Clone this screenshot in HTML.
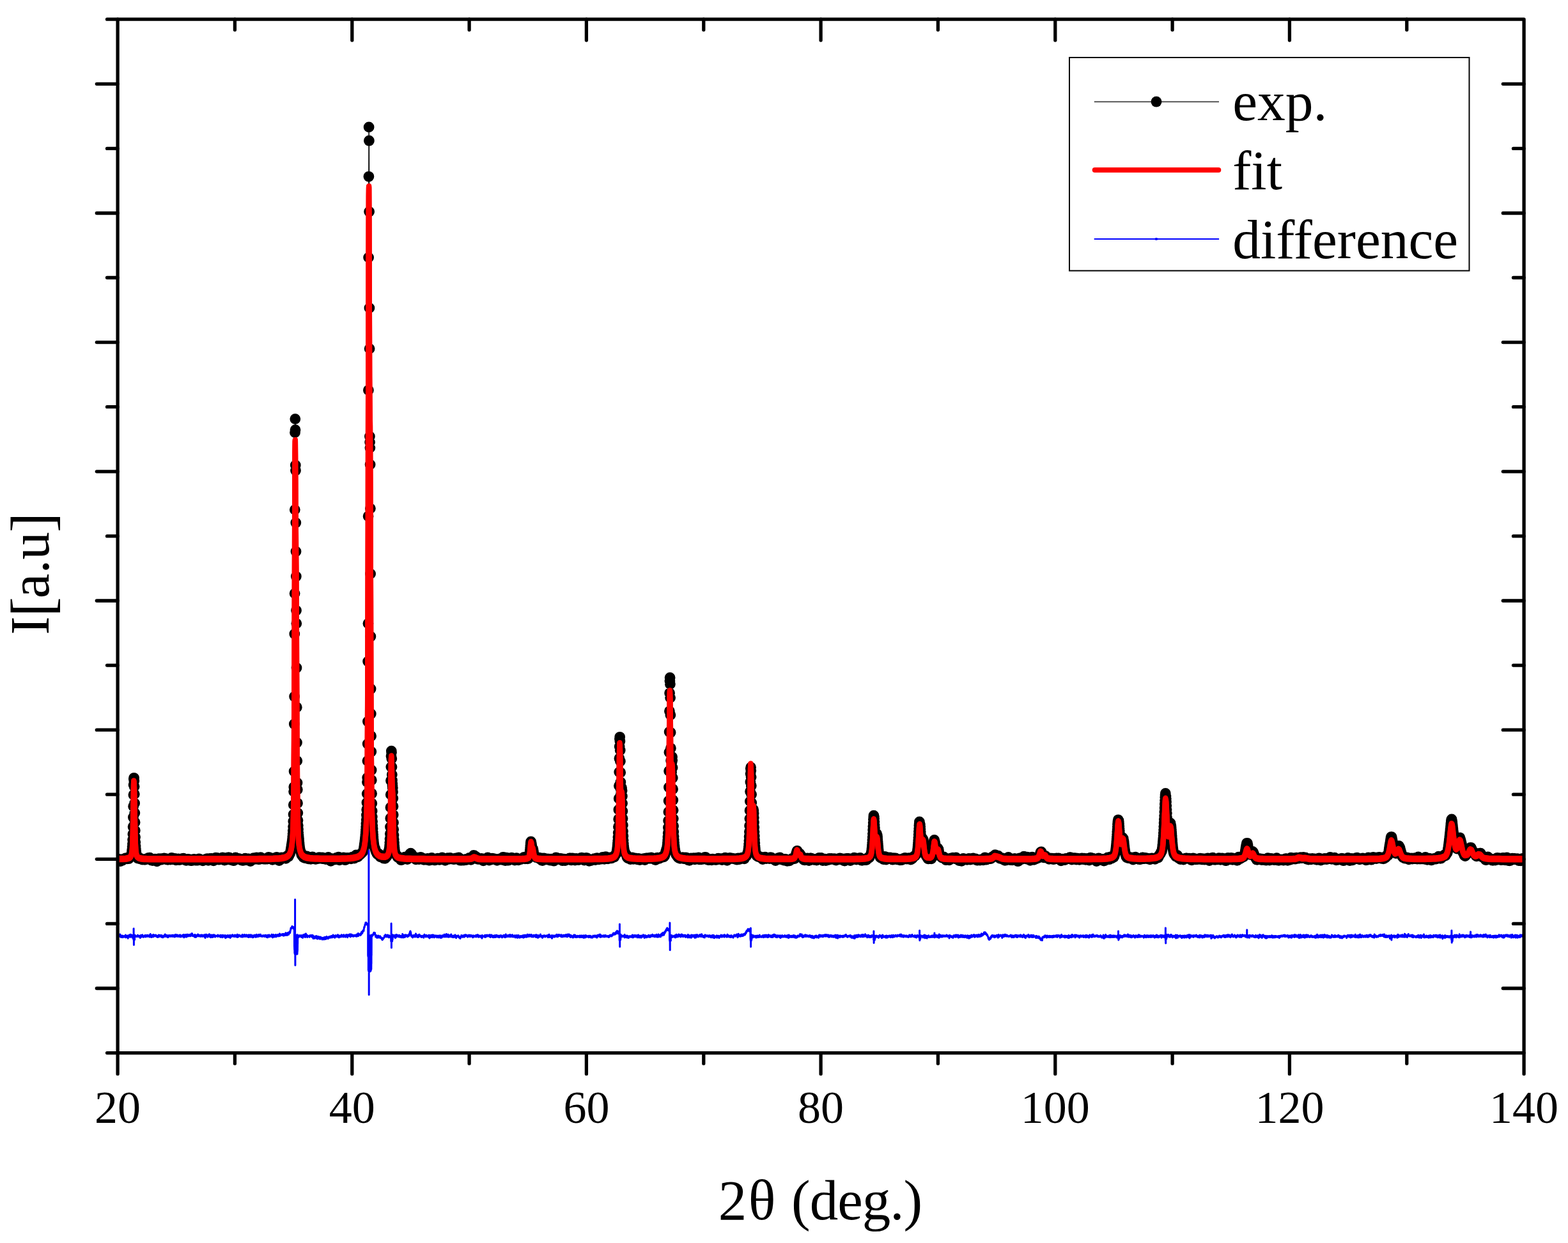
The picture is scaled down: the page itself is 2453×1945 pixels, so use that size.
<!DOCTYPE html>
<html><head><meta charset="utf-8"><style>
html,body{margin:0;padding:0;background:#fff;}
svg{display:block;}
text{font-family:"Liberation Serif","Times New Roman",serif;fill:#000;}
</style></head><body>
<svg width="2453" height="1945" viewBox="0 0 2453 1945">
<rect width="2453" height="1945" fill="#fff"/>
<g fill="none" stroke="#000" stroke-width="5.3" stroke-linecap="round">
<path d="M184.1 30.2h-16.6M184.1 131.3h-32.8M2384.1 131.3h-32.8M184.1 232.4h-16.6M2384.1 232.4h-16.6M184.1 333.5h-32.8M2384.1 333.5h-32.8M184.1 434.5h-16.6M2384.1 434.5h-16.6M184.1 535.6h-32.8M2384.1 535.6h-32.8M184.1 636.7h-16.6M2384.1 636.7h-16.6M184.1 737.8h-32.8M2384.1 737.8h-32.8M184.1 838.9h-16.6M2384.1 838.9h-16.6M184.1 940.0h-32.8M2384.1 940.0h-32.8M184.1 1041.1h-16.6M2384.1 1041.1h-16.6M184.1 1142.2h-32.8M2384.1 1142.2h-32.8M184.1 1243.2h-16.6M2384.1 1243.2h-16.6M184.1 1344.3h-32.8M2384.1 1344.3h-32.8M184.1 1445.4h-16.6M2384.1 1445.4h-16.6M184.1 1546.5h-32.8M2384.1 1546.5h-32.8M184.1 1647.6h-16.6M184.1 1647.6v32.8M367.4 1647.6v16.6M367.4 30.2v16.6M550.8 1647.6v32.8M550.8 30.2v32.8M734.1 1647.6v16.6M734.1 30.2v16.6M917.4 1647.6v32.8M917.4 30.2v32.8M1100.8 1647.6v16.6M1100.8 30.2v16.6M1284.1 1647.6v32.8M1284.1 30.2v32.8M1467.4 1647.6v16.6M1467.4 30.2v16.6M1650.8 1647.6v32.8M1650.8 30.2v32.8M1834.1 1647.6v16.6M1834.1 30.2v16.6M2017.4 1647.6v32.8M2017.4 30.2v32.8M2200.8 1647.6v16.6M2200.8 30.2v16.6M2384.1 1647.6v32.8"/>
</g>
<defs><clipPath id="pc"><rect x="184.1" y="30.2" width="2200.0" height="1617.4"/></clipPath></defs>
<g fill="none" stroke-linejoin="round" stroke-linecap="round" clip-path="url(#pc)">
<path d="M184.1 1344.6L185.1 1345.1L186.1 1344.4L187.1 1344.7L187.8 1346.1L188.6 1347.6L189.5 1347.1L190.5 1346.6L191.5 1346.3L192.5 1345.1L193.5 1344.2L194.5 1344.1L195.5 1343.3L196.5 1342.8L197.5 1342.6L198.5 1342.7L199.4 1343.8L200.4 1343.7L201.4 1343.7L202.4 1342.2L203.4 1341L204.4 1340.4L205.1 1339.1L205.6 1337.1L205.9 1335.8L206.1 1334.4L206.4 1332.8L206.6 1330.9L206.9 1328.4L207.1 1325.1L207.4 1320.5L207.6 1314.1L207.9 1305.3L208.1 1293.7L208.4 1279L208.6 1261.8L208.9 1243.8L209.1 1228.2L209.3 1218.9L209.6 1217.3L209.8 1222L210.1 1230.7L210.3 1242.6L210.6 1256.9L210.8 1272.3L211.1 1286.8L211.3 1299.4L211.6 1309.7L211.8 1317.7L212.1 1323.7L212.3 1328.1L212.6 1331.3L212.8 1333.5L213.1 1335.2L213.3 1336.6L213.6 1337.8L214 1340.1L214.5 1342L215.5 1343.1L216.5 1342.3L217.5 1342L218.5 1343.3L219.5 1344.1L220.5 1343.7L221.5 1344.4L222.5 1345.1L223.5 1344.6L224.4 1344.9L225.4 1345.2L226.4 1345L227.4 1345L228.4 1344.4L229.4 1343.8L230.4 1343.4L231.4 1343.2L232.4 1342.3L233.4 1342.3L234.3 1342.2L235.1 1343.7L235.6 1344.9L236.6 1346.1L237.6 1346.3L238.6 1346.6L239.5 1346.1L240.5 1345.9L241.5 1344.3L242.5 1344.1L243.5 1344.7L244.5 1345.2L245 1346.5L245.5 1347.8L246.5 1346.8L247 1345.5L247.7 1344.2L248.7 1343.7L249.7 1344.4L250.7 1344.5L251.7 1343.7L252.7 1345L253.6 1344.9L254.6 1343.7L255.6 1343.6L256.6 1342.9L257.6 1343.2L258.6 1343.4L259.6 1343.8L260.6 1344.6L261.6 1345.2L262.6 1345.3L263.5 1344.1L264.5 1344L265.5 1344.1L266.5 1345L267.5 1343.5L268.5 1342.5L269.5 1343.9L270.5 1344.6L271.5 1344.6L272.5 1343.7L273.4 1343.5L274.2 1345.1L275.2 1345.8L276.2 1344.9L277.2 1344.4L278.2 1345.3L279.1 1343.9L280.1 1344.2L280.9 1345.5L281.9 1345.3L282.9 1344.9L283.8 1344.6L284.8 1344.5L285.8 1343.5L286.8 1343.1L287.8 1344L288.8 1344.9L289.8 1345.4L290.8 1346.3L291.8 1346.4L292.8 1345.6L293.7 1344.5L294.7 1344.3L295.7 1344.6L296.7 1345.1L297.7 1346.2L298.7 1346.7L299.7 1346.7L300.7 1346L301.7 1345.9L302.7 1344.7L303.6 1344.5L304.6 1345.9L305.6 1346L306.6 1346.1L307.6 1346L308.6 1345.5L309.6 1346L310.6 1345.2L311.3 1343.9L312.3 1344.3L313.3 1345.4L314.3 1345.3L315.3 1345.8L316.3 1346.4L317.3 1346.8L318.2 1346.1L319.2 1345.9L320.2 1345.4L321.2 1344.9L322.2 1344.3L323.2 1344.1L324.2 1343.7L325.2 1344.9L325.9 1346.4L326.9 1345.3L327.4 1343.8L328.4 1343.5L329.4 1344.3L330.4 1343.4L331.4 1343.4L332.1 1344.7L333.1 1346L334.1 1346.8L335.1 1345.8L336.1 1344.9L336.8 1343.5L337.6 1342.2L338.5 1342.4L339.5 1342.4L340.5 1343L341.5 1344.2L342.5 1345.2L343.5 1344.5L344.5 1343.8L345.5 1344.6L346.5 1344.7L347.5 1343.5L348.2 1341.8L349.2 1342.1L349.7 1343.5L350.2 1344.9L351.2 1346.1L352.2 1344.9L353.1 1344.9L354.1 1345.1L355.1 1345L355.9 1343.5L356.6 1342L357.6 1341.9L358.6 1341.8L359.6 1343L360.3 1344.2L361.3 1345.5L362.3 1345.8L363 1344.5L364 1344.7L364.5 1346L365.5 1346.7L366.5 1345.9L367.5 1344.7L368 1343.3L368.5 1342L369.5 1342.8L370.2 1344.2L371.2 1344.3L372.2 1343.5L373.2 1343.5L374.2 1343.6L375.2 1344.7L376.2 1344.4L377.2 1344.7L377.9 1346.1L378.9 1346.3L379.9 1345.2L380.9 1346.4L381.9 1345.6L382.6 1344L383.6 1343.1L384.6 1344.4L385.6 1345.2L386.6 1345.9L387.5 1345.2L388.3 1343.9L389.3 1343.9L390 1345.3L390.8 1346.6L391.8 1347.5L392.7 1346.3L393.7 1344.9L394.7 1344.7L395.7 1343.4L396.7 1342.6L397.7 1342.9L398.7 1344.3L399.7 1343.6L400.4 1342.4L401.4 1341.8L402.4 1342.8L403.4 1343.9L404.4 1344.7L405.4 1344.7L406.4 1343.3L406.9 1342.1L407.8 1341.6L408.8 1342.6L409.8 1343L410.8 1343.9L411.8 1344.1L412.8 1343.7L413.8 1344.2L414.8 1344.4L415.8 1343.8L416.8 1343.3L417.7 1344.2L418.7 1344.1L419.5 1342.6L420.2 1341.3L421.2 1341.6L422.2 1342.9L423.2 1342.8L424.2 1343.5L425.2 1344.6L426.2 1345.3L427.1 1344.4L427.9 1342.9L428.9 1342.7L429.9 1343.6L430.9 1343.5L431.8 1342.2L432.8 1341.4L433.6 1342.8L434.1 1344L434.8 1345.6L435.8 1346L436.8 1346.5L437.8 1345.7L438.5 1344.1L439.3 1342.8L440.3 1341.8L441.3 1342.1L442.2 1342.7L443.2 1343L444.2 1341.8L445.2 1342L446.2 1342.3L447.2 1343.3L447.9 1341.9L448.4 1340.2L449.4 1339.3L450.4 1340.8L451.4 1340.3L452.1 1338.4L452.9 1337.1L453.6 1335.8L454.1 1334.3L454.6 1332.1L454.9 1330.7L455.1 1329.2L455.4 1327.6L455.6 1326.1L455.9 1324.5L456.1 1323L456.4 1321.5L456.6 1319.9L456.8 1318.3L457.1 1316.5L457.3 1314.4L457.6 1311.8L457.8 1308.7L458.1 1304.7L458.3 1299.7L458.6 1293.4L458.8 1285.3L459.1 1274.4L459.3 1259.4L459.6 1238.6L459.8 1231.5L460.1 1207L460.3 1133L460.6 1090L460.8 992L461.1 928.6L461.3 797.6L461.5 676.8L461.8 655.6L462 672.7L462.3 728L462.5 736.2L462.8 818L463 863L463.3 902L463.5 955.2L463.8 975.6L464 1045L464.3 1106.7L464.5 1162L464.8 1190.6L465 1225L465.3 1235.5L465.5 1256.8L465.8 1272.3L466 1283.6L466.3 1291.8L466.5 1298L466.7 1302.7L467 1306.6L467.2 1309.9L467.5 1312.9L467.7 1315.8L468 1318.6L468.2 1321.3L468.5 1323.7L468.7 1325.9L469 1327.7L469.2 1329L469.7 1330.8L470.5 1332.6L471 1334.2L471.4 1336L471.9 1337.7L472.7 1339.1L473.7 1340L474.7 1341.5L475.7 1342L476.6 1342.4L477.6 1342.7L478.4 1341.4L479.1 1339.8L480.1 1340L480.6 1341.3L481.1 1342.8L482.1 1343.8L483.1 1342.6L484.1 1342.4L485.1 1343.5L486.1 1344.4L487 1343.2L488 1342.1L488.8 1340.8L489.8 1341.7L490.5 1342.9L491.5 1342.4L492.5 1342.6L493.2 1344.3L494.2 1344.3L495.2 1343.7L496.2 1343.9L497.2 1343.7L498.2 1342.4L499.2 1341.6L500.2 1341.9L501.1 1342.1L502.1 1341.8L502.9 1343.2L503.9 1343.5L504.6 1342L505.6 1342.6L506.6 1343.8L507.6 1343.9L508.6 1343.8L509.6 1344.6L510.6 1344L511.5 1342.6L512.5 1342.1L513.5 1341.4L514.5 1342.8L515.5 1343.7L516.2 1345L516.7 1346.2L517.5 1347.4L518.5 1346.2L519 1344.9L520 1343.7L520.9 1344.4L521.9 1345.1L522.9 1344.4L523.9 1344.9L524.9 1344.8L525.7 1343.4L526.6 1342.2L527.6 1343.2L528.6 1342.2L529.6 1341.2L530.1 1342.4L530.6 1344.4L531.1 1345.8L532.1 1344L532.6 1342.6L533.6 1343L534.6 1344.3L535.6 1344.2L536.5 1343.2L537.5 1342L538.5 1342.9L539.3 1344.5L540 1345.7L541 1345.2L541.7 1344L542.5 1342.4L543.5 1342.5L544.5 1342.8L545.5 1343.4L546.4 1342.7L547.4 1342.1L548.2 1343.4L549.2 1343.8L550.2 1343.4L551.1 1342.3L551.9 1340.9L552.9 1341.5L553.4 1342.8L554.4 1343.1L555.1 1341.4L555.6 1339.9L556.1 1338.7L557.1 1337.9L558.1 1338.1L558.8 1339.4L559.6 1340.8L560.5 1340L561.3 1338.4L562.3 1337.9L563.3 1337.2L564.3 1336.2L565.3 1335.4L566.2 1334.4L567.2 1333.4L568.2 1332.3L568.7 1330.5L569 1329.3L569.2 1327.8L569.5 1326.2L569.7 1324.6L570 1322.9L570.2 1321.1L570.4 1319.4L570.7 1317.6L570.9 1315.6L571.2 1313.5L571.4 1311.2L571.7 1308.5L571.9 1305.6L572.2 1302.3L572.4 1298.5L572.7 1294.1L572.9 1288.9L573.2 1282.8L573.4 1275.6L573.7 1266.8L573.9 1256L574.2 1242.1L574.4 1223.7L574.7 1217L574.9 1190.6L575.2 1164L575.4 1129L575.6 1035L575.9 975.6L576.1 807.8L576.4 610.5L576.6 402.9L576.9 276.3L577.1 198.9L577.4 220.2L577.6 331.3L577.9 481.9L578.1 545.6L578.4 683L578.6 691.8L578.9 700.6L579.1 726.9L579.4 795.6L579.6 897.9L579.9 996L580.1 1078L580.3 1117L580.6 1151.7L580.8 1176.3L581.1 1205L581.3 1220.7L581.6 1241.7L581.8 1257.2L582.1 1269L582.3 1278.1L582.6 1285.5L582.8 1291.7L583.1 1297L583.3 1301.8L583.6 1306.1L583.8 1309.9L584.1 1313.4L584.3 1316.3L584.6 1318.8L584.8 1320.9L585.1 1322.4L585.3 1323.7L585.8 1325.4L586.3 1326.7L586.8 1328L587.3 1329.6L587.8 1331.3L588.3 1332.6L589 1334.2L589.8 1335.7L590.7 1336.7L591.7 1336.5L592.7 1336.2L593.5 1338.1L594 1339.6L595 1340.9L595.9 1341.1L596.9 1341.3L597.9 1340.7L598.9 1340.1L599.7 1341.7L600.4 1343.2L601.4 1343.2L602.4 1343.3L603.4 1342.3L604.4 1341.1L605.3 1340.1L605.8 1338.8L606.3 1337L606.8 1335.1L607.3 1333.5L607.8 1332.2L608.6 1330.2L609.1 1327.8L609.3 1325.7L609.6 1322.6L609.8 1318.4L610 1312.6L610.3 1304.6L610.5 1294L610.8 1280.4L611 1263.4L611.3 1243.4L611.5 1221.5L611.8 1200.1L612 1183.2L612.3 1175.1L612.5 1177.3L612.8 1187.3L613 1200.2L613.3 1212.2L613.5 1221L613.8 1226.3L614 1229.5L614.3 1233L614.5 1239.3L614.8 1249.3L615 1261.8L615.2 1275L615.5 1287.2L615.7 1297.8L616 1306.6L616.2 1313.5L616.5 1318.9L616.7 1323.1L617 1326.3L617.2 1328.9L617.5 1331.1L617.7 1332.9L618 1334.5L618.5 1336.3L619.5 1336.9L620.4 1338.2L621.2 1339.7L621.9 1341.1L622.9 1341.8L623.9 1341.2L624.9 1341.6L625.6 1343L626.4 1344.5L627.4 1345.7L628.4 1345.5L629.4 1344.5L630.3 1343L631.3 1342.1L632.3 1341.9L633.3 1341.2L634.3 1341.7L635.3 1342.7L636.3 1344L637.3 1344.5L638.3 1343.6L639.3 1342.7L639.7 1341.2L640.2 1339.2L640.7 1337.3L641.5 1335.9L642.5 1335.1L643.5 1335.9L644.2 1337.2L645.2 1338.8L645.9 1340.5L646.7 1341.8L647.7 1341.7L648.7 1341.9L649.6 1343.6L650.6 1344.8L651.6 1343.3L652.6 1342.2L653.6 1343L654.6 1343.6L655.6 1344.6L656.6 1343.4L657.1 1342.2L658.1 1341.4L659.1 1341.8L660 1342.3L661 1343L662 1344.4L663 1345.4L664 1345L665 1345L666 1345L667 1344.5L668 1344L669 1343.3L669.9 1344.3L670.7 1346L671.7 1346.2L672.4 1344.8L673.4 1343.6L674.4 1343.1L675.4 1342.4L676.4 1343.2L677.4 1344.2L678.1 1345.5L679.1 1345.8L680.1 1345.6L681.1 1345.9L682.1 1344.8L683.1 1343.9L684.1 1343.5L685 1343.1L686 1344.2L687 1345.3L688 1345.4L689 1344.2L690 1344.8L691 1343.3L691.7 1341.9L692.7 1342.6L693.5 1344.1L694.4 1344.6L695.4 1345.9L696.4 1346.3L697.4 1345.1L698.4 1343.7L699.4 1343.1L700.4 1342.7L701.4 1343.9L702.4 1344.4L703.1 1343.1L704.1 1342.5L705.1 1343.6L706.1 1343.9L707.1 1343.7L708.1 1343.6L709 1344.3L710 1344.7L711 1344.3L712 1343.1L713 1343L714 1343.5L715 1344.4L716 1343.7L716.7 1342.3L717.7 1342L718.5 1343.5L718.9 1345L719.7 1346.2L720.7 1345.3L721.7 1345.7L722.7 1346.2L723.7 1345.1L724.6 1345.5L725.6 1346.1L726.6 1344.8L727.6 1345.5L728.6 1345.7L729.3 1344.3L730.3 1344.4L731.3 1344.5L732.3 1343.8L733.3 1342.9L734.3 1342.3L735 1343.5L735.8 1345L736.8 1345.4L737.8 1344.4L738.5 1343L739.2 1341.4L740.2 1339.9L741 1338.5L742 1338.7L742.5 1339.9L743 1341.2L743.9 1341.8L744.9 1340.7L745.7 1342.5L746.2 1343.8L747.2 1344.3L748.2 1343.8L749.1 1344L750.1 1344.2L751.1 1344.7L752.1 1343.8L753.1 1343.4L754.1 1344.5L755.1 1345.8L756.1 1346.9L757.1 1345.4L758.1 1344.9L759 1344.2L760 1343.5L761 1343.6L762 1342.9L763 1342L764 1343.6L764.5 1344.9L765.5 1346L766.5 1344.5L767.5 1344L768 1345.2L768.9 1344.5L769.7 1343.2L770.7 1343.6L771.7 1343.7L772.7 1344.1L773.6 1344L774.6 1344.3L775.6 1345L776.6 1345.7L777.6 1346.3L778.6 1345.2L779.6 1344.7L780.6 1344.8L781.6 1344L782.6 1343.8L783.5 1345L784.5 1345.1L785.5 1344.7L786.3 1342.8L786.8 1341.5L787.8 1341.3L788.5 1343.1L789 1344.7L789.5 1346.3L790.5 1346.5L791 1345L791.5 1343.3L792.5 1342.2L793.2 1343.5L793.7 1344.8L794.4 1346.2L795.4 1346.2L796.4 1345.9L797.4 1344.5L798.4 1343.3L799.4 1342.6L800.4 1342.1L801.4 1343.3L802.4 1344.6L803.3 1344.2L804.3 1344.8L805.3 1346.1L806.3 1345L807.1 1343.3L808 1342.6L809 1344L810 1345.2L811 1345.9L812 1344.5L813 1344.2L814 1344.5L815 1344.6L816 1343.7L817 1343.9L817.9 1343.4L818.7 1342L819.7 1341.4L820.7 1342.5L821.4 1343.9L822.4 1342.7L823.4 1341.7L824.4 1343L825.4 1343.9L826.4 1343.6L827.1 1342.1L827.6 1340.8L828.1 1339.1L828.6 1336.5L828.8 1334.6L829.1 1332.3L829.3 1329.6L829.6 1326.6L829.8 1323.6L830.1 1320.7L830.3 1318.3L830.6 1316.9L831.3 1319.4L831.6 1321.5L831.8 1323.5L832.1 1325.2L832.6 1327.1L833.5 1327.9L834 1330L834.3 1331.5L834.5 1333L834.8 1334.5L835 1335.7L835.5 1337.7L836 1339.3L837 1340.4L838 1340.5L839 1341.7L840 1341.8L841 1341.6L842 1341.9L842.9 1342.3L843.9 1343.3L844.9 1344.2L845.7 1342.7L846.7 1343.2L847.2 1345L847.6 1346.4L848.6 1346.6L849.4 1345L849.9 1343.7L850.9 1343L851.9 1344.6L852.8 1345.1L853.8 1344.8L854.8 1344.3L855.8 1344L856.8 1345L857.8 1344.5L858.8 1344.2L859.8 1345.6L860.8 1346.2L861.5 1344.9L862.5 1344.2L863.5 1345.7L864.5 1345.3L865.5 1346.4L866.5 1347.2L867.4 1346.1L868.2 1344.8L868.9 1343.4L869.7 1341.9L870.7 1342.2L871.7 1343.5L872.6 1343.7L873.6 1343.1L874.6 1343.7L875.4 1344.9L876.4 1344.4L877.3 1343.4L878.3 1344.3L879.1 1345.7L880.1 1346.7L881.1 1345.2L882.1 1344.2L883 1345.5L884 1346.5L885 1346.1L886 1344.7L887 1344.7L888 1344.1L889 1343.9L890 1343.8L891 1343L892 1342.8L892.7 1344.5L893.2 1345.8L894.2 1345.9L894.9 1344.3L895.7 1342.8L896.7 1343.4L897.6 1344.4L898.6 1345.3L899.6 1346L900.6 1344.7L901.4 1343.3L902.3 1343.7L903.3 1344.9L904.3 1345.2L905.3 1345.5L906.3 1345.1L907.3 1344L908.3 1343.7L909 1342.3L910 1342.1L911 1342.9L912 1343.5L913 1345.1L914 1346L915 1345.7L916 1344.9L916.5 1343.7L917.2 1342.4L918.2 1342.6L919.2 1343.1L920.2 1344.4L920.9 1345.8L921.7 1347.3L922.6 1346.4L923.6 1346.3L924.6 1346.5L925.6 1345.5L926.6 1344.8L927.6 1344.9L928.6 1344.3L929.6 1343.7L930.3 1345L931.3 1345.6L932.3 1344.2L933 1342.8L934 1342.7L935 1343.6L936 1344.6L937 1344.8L938 1344.2L939 1343.8L940 1344L941 1344.2L941.7 1342.9L942.7 1341.5L943.7 1341.8L944.7 1343.2L945.4 1344.4L946.4 1343.4L946.9 1341.9L947.6 1340.7L948.4 1342.3L949.1 1343.6L950.1 1343.4L951.1 1343.9L952.1 1342.7L953.1 1342L954.1 1342.9L955.1 1342.8L956.1 1342.6L957 1342.8L958 1342.1L959 1340.7L960 1340.7L961 1341L961.7 1339.3L962.5 1337.7L963.5 1336.7L964.5 1334.8L965 1332.2L965.2 1330.5L965.5 1328.7L965.7 1326.7L966 1324.6L966.2 1322.2L966.4 1319.3L966.7 1315.4L966.9 1310.1L967.2 1303.1L967.4 1293.7L967.7 1281.8L967.9 1267L968.2 1249.5L968.4 1229.6L968.7 1208.1L968.9 1186.7L969.2 1168.3L969.4 1156.2L969.7 1153.3L969.9 1160L970.2 1174L970.4 1191.3L970.7 1208.8L970.9 1223.9L971.2 1235.3L971.4 1242.4L971.6 1245.1L972.1 1240.5L972.4 1236L972.6 1232.7L973.1 1237.3L973.4 1245.9L973.6 1257.1L973.9 1269.1L974.1 1280.7L974.4 1291.3L974.6 1300.6L974.9 1308.3L975.1 1314.7L975.4 1319.6L975.6 1323.3L975.9 1325.8L976.1 1327.6L976.3 1328.8L976.8 1330.8L977.3 1332.7L977.8 1334.2L978.6 1335.6L979.6 1336.9L980.3 1338.7L980.8 1340.4L981.3 1341.9L982.3 1342.9L983.3 1342.8L984.3 1343L985.3 1343.3L986.2 1344.5L987.2 1344.1L988.2 1343.2L989.2 1341.9L990.2 1343L991 1344.4L991.9 1343.8L992.9 1342.8L993.9 1343.3L994.9 1343.2L995.9 1343.4L996.9 1344.8L997.9 1344.1L998.9 1343.5L999.9 1344.6L1000.9 1345.5L1001.8 1344.8L1002.8 1344.7L1003.8 1344.2L1004.8 1344.1L1005.8 1343.8L1006.8 1343.6L1007.8 1344.8L1008.8 1345.6L1009.8 1344.3L1010.8 1342.9L1011.7 1343L1012.7 1343.2L1013.7 1342.9L1014.7 1343.2L1015.7 1342.4L1016.7 1343.4L1017.7 1343L1018.7 1341.9L1019.7 1342.6L1020.7 1343.5L1021.6 1342.8L1022.6 1342.8L1023.6 1343.9L1024.6 1345.4L1025.6 1345.6L1026.6 1344.9L1027.6 1343.4L1028.6 1342.1L1029.6 1342.3L1030.6 1343.4L1031.5 1343.3L1032.5 1342.9L1033.5 1342.2L1034.5 1341.7L1035.5 1341L1036.5 1340.7L1037.5 1341.1L1038.5 1340.8L1039.5 1339.6L1040.2 1337.7L1040.7 1336L1041.2 1334.2L1041.7 1332.2L1042.2 1330.4L1042.7 1328.9L1043.2 1327.5L1043.7 1325.6L1043.9 1324L1044.2 1321.9L1044.4 1318.9L1044.7 1315L1044.9 1309.9L1045.2 1303.4L1045.4 1295L1045.6 1284.2L1045.9 1270.4L1046.1 1253.2L1046.4 1232L1046.6 1206.5L1046.9 1177.3L1047.1 1145.2L1047.4 1112.8L1047.6 1084.4L1047.9 1065.5L1048.1 1060.5L1048.4 1070.5L1048.6 1091.7L1048.9 1118.7L1049.1 1146.2L1049.4 1170.8L1049.6 1190.3L1049.9 1203.7L1050.1 1210.9L1050.4 1212.1L1050.6 1208.2L1050.8 1201L1051.1 1192.6L1051.3 1186L1051.6 1184.4L1051.8 1189.6L1052.1 1201.3L1052.3 1217.3L1052.6 1234.8L1052.8 1252L1053.1 1267.6L1053.3 1281.1L1053.6 1292.4L1053.8 1301.5L1054.1 1308.8L1054.3 1314.3L1054.6 1318.5L1054.8 1321.8L1055.1 1324.3L1055.3 1326.5L1055.5 1328.3L1055.8 1329.9L1056 1331.3L1056.5 1333.4L1057 1334.9L1057.5 1336.4L1058 1337.7L1059 1339.2L1060 1340.5L1061 1341.8L1062 1342.6L1063 1342.5L1064 1343.3L1065 1342.7L1065.9 1342.1L1066.9 1342L1067.9 1341.6L1068.9 1342.4L1069.9 1343.7L1070.9 1343.5L1071.9 1342.6L1072.9 1341.8L1073.9 1342.2L1074.9 1343.4L1075.6 1344.7L1076.6 1345.9L1077.6 1345.9L1078.6 1346.3L1079.6 1345.9L1080.3 1344.2L1081 1343L1082 1343.7L1083 1344.1L1084 1343.6L1085 1342.7L1086 1343.7L1087 1344.9L1088 1344.1L1089 1343L1090 1342.5L1090.9 1342.7L1091.9 1342.5L1092.9 1342L1093.4 1343.3L1093.9 1344.8L1094.9 1344.6L1095.9 1343.9L1096.9 1344.8L1097.9 1344L1098.9 1344.2L1099.9 1344.3L1100.8 1342.7L1101.8 1342L1102.8 1341.5L1103.8 1341.3L1104.6 1343L1105.3 1344.5L1106.3 1345L1107.3 1345.2L1108.3 1345.7L1109.3 1345.6L1110.2 1344.8L1111.2 1344.8L1112.2 1345.3L1113.2 1345.8L1114.2 1345.6L1114.9 1344.1L1115.9 1344.4L1116.9 1345L1117.9 1344.6L1118.9 1345.3L1119.9 1344.9L1120.9 1345.3L1121.9 1345.1L1122.6 1343.9L1123.6 1343.2L1124.6 1343.3L1125.6 1343.6L1126.6 1343.7L1127.6 1343.7L1128.6 1344.3L1129.6 1345.5L1130.5 1344.7L1131.5 1343.4L1132.5 1342.9L1133.5 1343.3L1134.5 1342.1L1135.5 1343.4L1136 1344.6L1136.5 1345.8L1137.5 1346.4L1138 1345L1138.5 1343.4L1139.5 1342.8L1140.2 1344.1L1141.2 1343.9L1141.9 1342.5L1142.9 1342.7L1143.9 1343.4L1144.9 1342.8L1145.9 1343.2L1146.9 1343.5L1147.9 1343.5L1148.9 1343.8L1149.8 1344L1150.8 1344.6L1151.8 1344.5L1152.8 1345.2L1153.8 1344.1L1154.8 1342.8L1155.8 1343.6L1156.8 1344.5L1157.8 1344L1158.8 1343.2L1159.7 1342.6L1160.7 1342.3L1161.7 1341.9L1162.7 1342.4L1163.5 1343.6L1164.4 1343.8L1165.2 1342.2L1165.9 1340.6L1166.9 1339.9L1167.9 1339.3L1168.4 1338.1L1168.9 1336.7L1169.4 1335.5L1169.9 1334.2L1170.4 1332.4L1170.6 1331.2L1170.9 1329.6L1171.1 1327.4L1171.4 1324.4L1171.6 1320.6L1171.9 1315.5L1172.1 1309.2L1172.4 1301.5L1172.6 1292.2L1172.9 1281.1L1173.1 1268.3L1173.4 1253.9L1173.6 1238.5L1173.9 1223.4L1174.1 1210.6L1174.3 1202.4L1174.6 1200.7L1174.8 1205.8L1175.1 1216.1L1175.3 1229.4L1175.6 1243.3L1175.8 1256.1L1176.1 1267L1176.3 1275.4L1176.6 1281.2L1176.8 1284.4L1177.6 1280.5L1177.8 1276.2L1178.1 1271.6L1178.3 1268.1L1178.6 1266.8L1178.8 1268.4L1179.1 1272.9L1179.3 1279.5L1179.5 1286.9L1179.8 1294.4L1180 1301.6L1180.3 1308.1L1180.5 1314.1L1180.8 1319.3L1181 1323.7L1181.3 1327.3L1181.5 1330.1L1181.8 1332.2L1182 1333.7L1182.5 1335.5L1183 1336.8L1183.5 1338L1184.2 1339.4L1185.2 1340.1L1186.2 1340.6L1187.2 1340L1188.2 1340.8L1189.2 1341.5L1190.2 1341.2L1191.2 1342.3L1192.2 1343.2L1193.2 1344.5L1194.1 1344L1194.9 1342.4L1195.9 1342L1196.9 1341.2L1197.9 1342.6L1198.9 1343.5L1199.6 1342.1L1200.6 1342.1L1201.6 1342.4L1202.6 1343L1203.6 1343.5L1204.5 1342.8L1205.5 1341.7L1206.5 1341.8L1207.3 1343.1L1208.3 1343.8L1209.2 1344L1210.2 1343.6L1211.2 1344.2L1212.2 1345.5L1213.2 1346.6L1214.2 1345.4L1215.2 1345.1L1216.2 1344L1217.2 1343L1218.2 1342.5L1219.1 1342.5L1220.1 1342L1221.1 1343.2L1222.1 1344.7L1223.1 1345.1L1224.1 1344.1L1225.1 1344.3L1226.1 1346L1227.1 1345.9L1227.8 1344.3L1228.8 1344.4L1229.8 1344.9L1230.8 1345.6L1231.5 1347.3L1232.5 1347.2L1233.3 1345.6L1234.2 1346L1235.2 1346.9L1236.2 1346L1237.2 1345.3L1238.2 1344.2L1239.2 1343.4L1240.2 1343.8L1241.2 1342.8L1242.2 1342.9L1243.2 1343.5L1244.1 1342.3L1244.6 1340.8L1245.1 1338.6L1245.4 1337.3L1245.6 1336L1245.9 1334.7L1246.4 1332.6L1247.1 1331.3L1248.1 1332.7L1248.6 1334.1L1249.1 1335.3L1250.1 1336L1251.1 1335.8L1252.1 1337.3L1252.8 1338.5L1253.8 1339.8L1254.5 1341.6L1255.3 1342.9L1256.3 1343.8L1257 1345.1L1258 1345.7L1259 1345.9L1260 1344.8L1261 1343.5L1262 1343.1L1263 1342.9L1263.9 1344.1L1264.9 1345L1265.7 1346.5L1266.7 1345.9L1267.2 1344.2L1267.7 1343L1268.6 1342.9L1269.6 1343.1L1270.6 1344.5L1271.6 1344.9L1272.6 1345.1L1273.6 1345.3L1274.6 1344.6L1275.6 1344.4L1276.6 1345.2L1277.6 1346L1278.5 1344.6L1279.5 1343.8L1280.5 1343L1281.5 1342.3L1282.5 1342.6L1283.5 1342.8L1284.5 1342.4L1285.5 1343.6L1286.2 1345.3L1287.2 1346.5L1288.2 1345.4L1288.9 1344L1289.9 1344.7L1290.9 1345.7L1291.9 1346.6L1292.9 1345.4L1293.9 1344.4L1294.9 1345.7L1295.9 1345.3L1296.6 1344L1297.6 1343.5L1298.6 1344.8L1299.6 1344.5L1300.3 1343.3L1301.3 1343.9L1302.3 1344.1L1303.3 1344.4L1304.3 1344.8L1305.3 1343.7L1306.3 1344.1L1307 1345.8L1308 1346L1309 1345L1310 1343.8L1311 1345.1L1312 1344.8L1312.9 1343.6L1313.9 1342.8L1314.9 1343.6L1315.7 1345.1L1316.7 1345L1317.7 1344.6L1318.6 1343.9L1319.6 1345.6L1320.4 1346.8L1321.4 1347.1L1322.4 1346L1323.3 1344.8L1324.3 1343.4L1325.3 1343.4L1326.3 1343.5L1327.3 1343.4L1328.3 1344.2L1329.3 1345.3L1330.3 1346.5L1331.3 1346.1L1332.3 1345.5L1333.2 1344.3L1334.2 1343.7L1335.2 1343.5L1336.2 1342.2L1337.2 1342.7L1337.7 1344L1338.7 1344.7L1339.7 1345.1L1340.7 1344.7L1341.7 1344L1342.6 1342.9L1343.6 1343L1344.6 1343.2L1345.6 1342.5L1346.6 1343.7L1347.1 1345L1347.6 1346.2L1348.6 1346.4L1349.6 1345.3L1350.6 1345.1L1351.6 1344.6L1352.5 1345.5L1353.5 1345.5L1354.5 1345.6L1355.5 1345.6L1356.5 1344.1L1357.3 1342.9L1358.2 1341.8L1359.2 1342.6L1360.2 1341.5L1360.7 1340.2L1361.2 1339L1362 1337.5L1362.7 1335.7L1363.2 1333.9L1363.4 1332.5L1363.7 1330.7L1363.9 1328.5L1364.2 1325.7L1364.4 1322.4L1364.7 1318.7L1364.9 1314.5L1365.2 1309.8L1365.4 1304.6L1365.7 1299L1365.9 1293.2L1366.2 1287.5L1366.4 1282.3L1366.7 1278.4L1366.9 1276.1L1367.4 1277.7L1367.6 1281.1L1367.9 1285.7L1368.1 1290.8L1368.4 1295.9L1368.6 1300.7L1368.9 1304.9L1369.1 1308.4L1369.4 1311L1369.6 1312.9L1370.6 1311.7L1370.9 1309.7L1371.1 1307.6L1371.4 1305.8L1371.6 1304.6L1372.3 1307.1L1372.6 1309.9L1372.8 1313.2L1373.1 1316.6L1373.3 1319.9L1373.6 1323.1L1373.8 1326L1374.1 1328.7L1374.3 1331.1L1374.6 1333.2L1374.8 1334.8L1375.1 1336.1L1375.6 1337.7L1376.1 1339L1376.6 1340.3L1377.1 1341.6L1378 1342.4L1379 1341.7L1380 1342.7L1381 1343.5L1382 1344.5L1383 1343.3L1383.5 1341.9L1384.2 1340.5L1385.2 1341.7L1385.7 1343.7L1386.2 1345.1L1387.2 1343.3L1387.7 1341.9L1388.7 1341.7L1389.7 1342.8L1390.7 1342.3L1391.7 1342.2L1392.6 1342L1393.6 1342.4L1394.6 1342.9L1395.4 1344.3L1396.4 1345.2L1397.1 1343.6L1398.1 1342.6L1399.1 1343.5L1400.1 1343.5L1401.1 1342.9L1402 1344L1403 1344.9L1404 1344.3L1405 1344.3L1406 1344.9L1407 1345.3L1408 1345.9L1409 1345L1410 1345.4L1411 1345.5L1411.9 1344.1L1412.9 1343.9L1413.9 1343.2L1414.9 1342.9L1415.9 1342.4L1416.9 1342.7L1417.9 1343.9L1418.9 1344.2L1419.9 1343.3L1420.9 1342.8L1421.8 1342.7L1422.8 1343.3L1423.8 1343.9L1424.8 1345L1425.8 1344.6L1426.8 1343.9L1427.8 1342.9L1428.8 1341.3L1429.8 1340L1430.8 1339.7L1431.7 1339L1432.7 1337.6L1433.7 1336.5L1434.7 1334.7L1435 1333.5L1435.2 1331.9L1435.5 1330L1435.7 1327.8L1436 1325.3L1436.2 1322.3L1436.5 1318.9L1436.7 1315.1L1436.9 1310.7L1437.2 1306.1L1437.4 1301.2L1437.7 1296.4L1437.9 1292L1438.2 1288.4L1438.4 1285.9L1439.4 1289.7L1439.7 1293.4L1439.9 1297.5L1440.2 1301.6L1440.4 1305.4L1440.7 1308.8L1440.9 1311.7L1441.2 1314.1L1441.4 1316L1441.6 1317.4L1442.6 1317.1L1442.9 1315.8L1443.1 1314.4L1443.6 1312.5L1444.4 1314.3L1444.6 1316.1L1444.9 1318.3L1445.1 1320.5L1445.4 1322.8L1445.6 1325L1445.9 1327.2L1446.1 1329.1L1446.4 1330.8L1446.6 1332.3L1447.1 1334.2L1447.6 1335.6L1448.1 1337L1448.6 1338.5L1449.3 1340.1L1450.3 1341.3L1451.1 1342.5L1451.8 1343.9L1452.8 1343.8L1453.3 1342.5L1453.8 1341L1454.8 1340.5L1455.5 1342.2L1456 1343.4L1457 1343.8L1457.5 1342.5L1458 1340.7L1458.5 1338.4L1458.7 1337L1459 1335.3L1459.2 1333.4L1459.5 1331.2L1459.7 1328.9L1460 1326.5L1460.2 1324.1L1460.5 1321.7L1460.7 1319.5L1461 1317.6L1461.2 1316.1L1461.7 1314.4L1462.4 1316.7L1462.7 1318.4L1462.9 1320L1463.2 1321.4L1463.7 1323.6L1464.2 1325.3L1464.7 1326.9L1465.2 1328.6L1465.9 1330L1466.6 1328.7L1467.1 1327.3L1468.1 1328.9L1468.4 1330.4L1468.6 1332L1468.9 1333.6L1469.1 1335.1L1469.4 1336.3L1469.9 1338L1470.9 1339.2L1471.6 1340.4L1472.6 1341.1L1473.6 1342L1474.6 1342.3L1475.6 1341.6L1476.5 1341L1477.3 1342.3L1478 1343.8L1479 1344.8L1480 1345.7L1481 1345.1L1482 1344.8L1483 1344.2L1484 1345.3L1485 1345.8L1486 1345.1L1486.7 1343.8L1487.7 1342.9L1488.7 1343.4L1489.7 1342.7L1490.7 1342.2L1491.6 1342.4L1492.6 1342.6L1493.6 1343.5L1494.6 1342.5L1495.6 1342L1496.6 1343.1L1497.6 1343.9L1498.6 1344.4L1499.3 1345.6L1500.3 1346.5L1501.3 1345.7L1502.3 1345.2L1503.3 1346.4L1504.3 1347.4L1505.3 1346L1506 1344.4L1507 1343.4L1508 1344.2L1509 1344.1L1510 1344.5L1510.9 1344.9L1511.9 1345L1512.9 1345.4L1513.9 1344.2L1514.9 1344L1515.9 1343.5L1516.9 1344.4L1517.9 1345.2L1518.6 1343.9L1519.6 1343.8L1520.6 1344.2L1521.6 1343.2L1522.6 1343L1523.3 1344.4L1524.3 1344.1L1525.3 1343.7L1526.3 1344L1527.3 1344.7L1528.3 1346.1L1529.3 1346.1L1530.3 1345.6L1531.2 1345.4L1532.2 1345.3L1533.2 1346L1534.2 1345.4L1535.2 1344.8L1536.2 1344.6L1537.2 1345.7L1538.2 1345.8L1539.2 1344.5L1539.9 1343.1L1540.9 1341.8L1541.9 1342.6L1542.4 1344L1543.1 1345.2L1544.1 1344.4L1545.1 1343.7L1546.1 1343.3L1547.1 1343.7L1548.1 1343L1549.1 1343.6L1550.1 1343.6L1551 1342.5L1551.8 1341.1L1552.8 1340.6L1553.8 1341L1554.8 1339.6L1555.7 1338.6L1556.7 1337.6L1557.7 1338.2L1558.7 1339.2L1559.7 1339.8L1560.7 1339.2L1561.7 1339.1L1562.7 1340.7L1563.4 1342L1564.4 1343.4L1565.4 1343.4L1566.4 1342.6L1567.4 1342.7L1568.4 1342.8L1569.4 1343.8L1570.1 1345.2L1571.1 1345.8L1572.1 1346.3L1573.1 1346.2L1574.1 1345.2L1575.1 1344.8L1575.8 1343.6L1576.5 1342.1L1577.5 1341.5L1578.5 1342.3L1579.3 1343.7L1579.8 1345L1580.7 1345.7L1581.5 1344.1L1582.5 1344.7L1583.5 1345.8L1584.5 1345.3L1585.4 1344.9L1586.4 1343.7L1587.4 1343.7L1588.4 1343.7L1589.4 1344.5L1590.4 1345.8L1591.4 1346.3L1592.4 1347.7L1593.4 1347.3L1593.9 1345.8L1594.4 1344.3L1595.1 1342.9L1596.1 1342.8L1597.1 1343.9L1598.1 1344.5L1599.1 1343.9L1600 1342.2L1600.8 1340.9L1601.8 1340.2L1602.8 1341.1L1603.8 1342.3L1604.8 1343.3L1605.7 1344.1L1606.5 1342.5L1607 1341.2L1608 1341.5L1608.5 1342.8L1609 1344.1L1609.9 1344.9L1610.9 1344.8L1611.7 1346.3L1612.7 1345.7L1613.2 1343.7L1613.7 1341.7L1614.7 1341.1L1615.1 1342.6L1615.6 1343.9L1616.6 1344.6L1617.6 1345.3L1618.6 1343.9L1619.1 1342.5L1620.1 1343.1L1621.1 1343.9L1622.1 1343.2L1623.1 1342.5L1624.1 1342.5L1625 1341.7L1625.8 1340.4L1626.5 1338.7L1627 1337.1L1627.5 1335.3L1628 1333.5L1629 1332.9L1629.5 1334.2L1630 1336L1630.5 1337.9L1631 1339.7L1631.5 1341.1L1632.5 1341.9L1633.5 1341.8L1634.5 1340L1635.4 1339.3L1636.2 1341.2L1637.2 1342.3L1638.2 1342.2L1639.2 1342.7L1640.1 1343.3L1641.1 1344.3L1642.1 1343.2L1643.1 1343.1L1644.1 1343.2L1645.1 1343.6L1646.1 1343.2L1647.1 1343.6L1648.1 1344.7L1649.1 1343.4L1650 1343.4L1651 1343.9L1652 1343.3L1653 1343L1654 1343.3L1655 1343.2L1656 1343L1657 1344L1658 1344.5L1659 1345.9L1659.9 1346.8L1660.9 1345.2L1661.9 1344.1L1662.9 1345.4L1663.9 1345.2L1664.9 1344.8L1665.9 1345.5L1666.9 1344.6L1667.6 1343.4L1668.6 1343.4L1669.6 1343.8L1670.6 1343.9L1671.6 1343.4L1672.6 1342.7L1673.6 1341.6L1674.5 1341.7L1675.3 1343L1675.8 1344.2L1676.8 1345L1677.8 1343.8L1678.8 1343L1679.7 1342.6L1680.7 1343.1L1681.7 1342.7L1682.7 1344.4L1683.7 1345.1L1684.7 1343.7L1685.7 1343.1L1686.7 1344L1687.7 1344.3L1688.7 1345.3L1689.6 1344.6L1690.6 1344L1691.6 1343.1L1692.6 1343L1693.4 1344.2L1694.3 1344.7L1695.3 1343.4L1696.3 1343.2L1697.3 1344.5L1698.3 1345.4L1699.3 1344.3L1700.3 1344.7L1701.3 1344L1702.3 1343.1L1703.3 1344.5L1704 1346L1705 1345.1L1705.5 1343.5L1706 1342.2L1707 1342.4L1707.7 1344L1708.7 1344.1L1709.7 1343.1L1710.7 1343.6L1711.7 1344.7L1712.7 1345.4L1713.7 1345.6L1714.4 1346.8L1715.4 1347.6L1716.4 1346.3L1717.4 1344.7L1717.9 1343.4L1718.8 1342.8L1719.8 1343.9L1720.8 1344.5L1721.8 1345.3L1722.8 1344.9L1723.8 1344.4L1724.8 1344.6L1725.8 1344.5L1726.5 1345.9L1727 1347.1L1728 1346.7L1728.5 1345.3L1729 1344.1L1730 1343.9L1731 1344.8L1732 1343.5L1732.7 1341.9L1733.7 1342.2L1734.4 1344L1735.4 1344.7L1735.9 1343.5L1736.4 1341.9L1737.4 1341L1738.4 1342.1L1739.4 1343L1740.4 1342L1741.4 1341.6L1742.4 1341.3L1743.1 1339.7L1743.6 1338.2L1744.1 1336.6L1744.6 1334.9L1745.1 1332.7L1745.3 1331.3L1745.6 1329.5L1745.8 1327.5L1746.1 1325.1L1746.3 1322.4L1746.6 1319.5L1746.8 1316.4L1747.1 1313.1L1747.3 1309.6L1747.6 1305.8L1747.8 1301.9L1748.1 1297.8L1748.3 1293.8L1748.5 1290L1748.8 1286.9L1749 1284.4L1749.3 1282.8L1750 1284L1750.3 1286.3L1750.5 1289.2L1750.8 1292.7L1751 1296.4L1751.3 1300.2L1751.5 1303.8L1751.8 1307.1L1752 1309.8L1752.3 1312L1752.5 1313.7L1753 1315.7L1753.5 1317L1754.5 1317.5L1755 1316.1L1755.5 1313.8L1755.7 1312.6L1756.2 1310.7L1757.2 1311.9L1757.7 1314.4L1758 1316.1L1758.2 1318L1758.4 1320.2L1758.7 1322.6L1758.9 1324.9L1759.2 1327.2L1759.4 1329.1L1759.7 1330.9L1759.9 1332.5L1760.2 1333.9L1760.4 1335.2L1760.9 1337.3L1761.4 1339.1L1761.9 1340.6L1762.7 1341.8L1763.6 1341.9L1764.6 1342.6L1765.6 1342.3L1766.6 1342.9L1767.6 1342.6L1768.6 1341.7L1769.6 1342.4L1770.6 1343.2L1771.6 1343.9L1772.6 1345.1L1773.5 1344.1L1774.5 1342.7L1775.5 1341.5L1776.5 1341.2L1777.3 1342.5L1778.2 1343.5L1779.2 1343L1780.2 1343.5L1781.2 1344.4L1782.2 1344.5L1783.2 1344.5L1784.2 1344.6L1785.2 1344.2L1786.2 1343L1787.2 1341.9L1788.1 1341.9L1789.1 1342.8L1790.1 1343.7L1791.1 1343.4L1792.1 1342.4L1793.1 1343.1L1794.1 1343.5L1795.1 1343.8L1796.1 1343.5L1797.1 1343.3L1798 1343.8L1799 1344.9L1800 1344.1L1801 1343.6L1802 1342.9L1803 1343.5L1804 1343.6L1805 1343.7L1806 1343.8L1807 1344.3L1807.9 1343.1L1808.9 1342.3L1809.9 1342.1L1810.9 1341.5L1811.9 1342L1812.9 1339.9L1813.4 1338.1L1814.4 1337.3L1815.4 1336.1L1815.9 1334.5L1816.4 1333.3L1817.4 1332.3L1817.8 1330.4L1818.1 1328.9L1818.3 1327.1L1818.6 1325.2L1818.8 1323L1819.1 1320.6L1819.3 1318L1819.6 1315L1819.8 1311.6L1820.1 1307.7L1820.3 1303.4L1820.6 1298.6L1820.8 1293.5L1821.1 1288L1821.3 1282.3L1821.6 1276.5L1821.8 1270.4L1822.1 1264.3L1822.3 1258.3L1822.6 1252.5L1822.8 1247.5L1823 1243.7L1823.3 1241.5L1824 1245.6L1824.3 1249.8L1824.5 1254.9L1824.8 1260.6L1825 1266.7L1825.3 1272.8L1825.5 1278.8L1825.8 1284.4L1826 1289.5L1826.3 1293.9L1826.5 1297.7L1826.8 1300.9L1827 1303.3L1827.3 1305L1827.7 1306.2L1828.5 1303.8L1828.7 1302.2L1829 1300.3L1829.2 1298.2L1829.5 1296.1L1829.7 1294.1L1830 1292.2L1830.2 1290.6L1830.5 1289.2L1831 1288L1831.7 1290.6L1832 1292.8L1832.2 1295.4L1832.5 1298.4L1832.7 1301.6L1832.9 1304.9L1833.2 1308.2L1833.4 1311.6L1833.7 1314.9L1833.9 1318.2L1834.2 1321.3L1834.4 1324L1834.7 1326.2L1834.9 1328.1L1835.2 1329.7L1835.4 1331.1L1835.7 1332.4L1836.2 1334.6L1836.7 1336.3L1837.6 1337.4L1838.6 1338.2L1839.4 1340L1840.4 1339.9L1840.9 1338.5L1841.9 1338.4L1842.4 1339.6L1842.8 1341L1843.6 1342.6L1844.6 1342.9L1845.6 1343.4L1846.6 1344.6L1847.5 1344.4L1848.5 1343.7L1849.5 1343.6L1850.5 1344.8L1851.5 1345L1852.5 1343.6L1853.5 1343.3L1854.5 1343.4L1855.5 1342.8L1856.5 1342.9L1857.4 1343.1L1858.4 1343.4L1859.4 1343.4L1860.4 1343.1L1861.4 1343.8L1862.4 1344.2L1863.4 1345.5L1864.4 1345.9L1865.1 1344.4L1865.6 1343.2L1866.6 1342.8L1867.6 1343.4L1868.6 1343.7L1869.6 1344.1L1870.6 1344.8L1871.6 1344.4L1872.5 1344.5L1873.5 1344.5L1874.5 1343.9L1875.5 1344.3L1876.5 1344L1877.5 1343.2L1878.5 1343.7L1879.5 1344.8L1880.5 1344.8L1881.5 1343.7L1882.4 1343.9L1883.4 1344.4L1884.4 1345.2L1885.4 1344.4L1886.4 1343.7L1887.4 1344L1888.4 1343.9L1889.4 1342.9L1890.4 1344.3L1890.9 1345.5L1891.9 1346.5L1892.8 1345.5L1893.8 1345.2L1894.8 1345.2L1895.6 1343.9L1896.3 1342.4L1897.3 1342.2L1898 1343.9L1899 1345.2L1900 1345.2L1901 1345.3L1902 1344.9L1903 1344.4L1904 1344.9L1905 1344.8L1906 1344.2L1906.9 1342.6L1907.9 1343.4L1908.4 1344.8L1909.4 1345.4L1910.2 1344.2L1911.2 1343.1L1912.1 1343L1913.1 1343.5L1914.1 1344.2L1915.1 1343.5L1916.1 1345L1916.6 1346.2L1917.6 1346.7L1918.6 1346.5L1919.6 1345.7L1920.3 1343.9L1921.1 1342.5L1922 1343.1L1923 1343.6L1924 1343.1L1925 1343.8L1926 1342.5L1927 1343.7L1927.5 1345.2L1928.5 1345.4L1929.2 1344.1L1930.2 1343.2L1931.2 1343.5L1932.2 1343.7L1933.2 1344.8L1934.2 1345.5L1935.2 1346.3L1936.2 1346.1L1936.6 1344.6L1937.1 1342.6L1937.6 1341.2L1938.6 1341.7L1939.4 1343L1940.4 1343.6L1941.4 1342.8L1942.3 1342.3L1943.3 1341.5L1944.3 1340.9L1945.3 1340.7L1946.3 1339.4L1947 1337.7L1947.5 1335.5L1947.8 1334.1L1948 1332.6L1948.3 1331.2L1948.5 1329.8L1948.8 1328.3L1949 1326.9L1949.3 1325.4L1949.5 1324L1949.8 1322.6L1950 1321.3L1950.5 1319.3L1951.5 1319.4L1952 1322.1L1952.2 1323.8L1952.5 1325.6L1952.7 1327.5L1953 1329.1L1953.2 1330.6L1953.7 1332.6L1954.5 1334.3L1955.2 1336.1L1956 1337.4L1956.9 1335.5L1957.4 1334.3L1958.4 1333.4L1959.4 1332.3L1960.4 1333.1L1960.9 1334.5L1961.4 1336L1961.9 1337.3L1962.4 1338.6L1963.1 1340L1964.1 1341.2L1964.6 1342.5L1965.1 1343.9L1965.9 1345.2L1966.8 1345.4L1967.8 1344.6L1968.8 1344.1L1969.8 1343.4L1970.8 1343.9L1971.8 1344.1L1972.8 1344L1973.8 1345.5L1974.8 1345.4L1975.8 1344.6L1976.7 1344.4L1977.7 1345.2L1978.7 1345.7L1979.7 1345.7L1980.7 1346.2L1981.7 1345.5L1982.4 1343.9L1983.4 1342.7L1984.4 1343L1985.4 1344.7L1986.1 1346.1L1987.1 1345.1L1987.9 1343.8L1988.9 1343.5L1989.9 1343.9L1990.9 1344.5L1991.8 1344.5L1992.8 1344.4L1993.6 1345.7L1994.6 1345.1L1995.3 1343.8L1996.3 1343.5L1997.3 1342.6L1998.3 1343.6L1998.8 1344.8L1999.5 1346.2L2000.5 1346.4L2001.5 1345.4L2002.5 1345.2L2003.5 1345.5L2004.5 1345.2L2005.5 1345.2L2006.4 1345.8L2007.4 1346L2008.4 1346.1L2009.4 1345.4L2010.4 1344.2L2011.4 1343.7L2012.4 1343.6L2013.4 1345.1L2014.4 1346.3L2015.4 1345.4L2016.3 1345.2L2017.3 1345.4L2018.3 1345.3L2019.1 1343.4L2019.6 1342.1L2020.6 1342.4L2021.3 1343.9L2022.3 1344.2L2023.3 1343.1L2024.3 1343L2025.3 1343.6L2026.2 1344.2L2027.2 1343.3L2028.2 1342.1L2029.2 1342.4L2030.2 1342.7L2031.2 1343.1L2032.2 1343.1L2033.2 1342.2L2034.2 1341.7L2035.2 1342.5L2036.1 1342.2L2037.1 1342.5L2038.1 1342.3L2039.1 1341.5L2040.1 1342.4L2041.1 1341.8L2042.1 1341.8L2043.1 1342.8L2044.1 1344.2L2045.1 1344.5L2046 1344.2L2047 1345L2048 1344.2L2049 1343.6L2050 1344.3L2051 1344.9L2052 1344.3L2053 1343.5L2054 1343.9L2055 1344L2055.9 1343.9L2056.9 1343.9L2057.9 1344.5L2058.9 1345.1L2059.9 1345.4L2060.9 1345.2L2061.9 1344.6L2062.6 1343.3L2063.6 1342.9L2064.6 1343.5L2065.3 1344.9L2066.3 1346.1L2067.3 1345.6L2068.3 1344.7L2069.3 1344.7L2070.3 1344.8L2071.3 1343.9L2072.3 1343.4L2073.3 1343.6L2074.3 1344.2L2075.2 1344.7L2076.2 1343.9L2077.2 1343.2L2078.2 1343.8L2079.2 1343.6L2080 1342.4L2080.9 1341.5L2081.7 1342.7L2082.2 1343.9L2083.2 1344.4L2084.2 1343.8L2085.1 1343.9L2086.1 1344.3L2087.1 1343.5L2087.9 1342.2L2088.9 1344L2089.4 1345.2L2090.3 1345.8L2091.3 1345.1L2092.3 1345.2L2093.3 1345.3L2094.3 1344.9L2095.3 1344.6L2096.3 1344L2097.3 1344.5L2098.3 1343.6L2099.3 1343.2L2100 1344.7L2100.7 1346.2L2101.7 1346.7L2102.7 1345.3L2103.7 1344.5L2104.7 1344L2105.7 1343.6L2106.7 1343.8L2107.7 1344L2108.7 1342.4L2109.7 1342.9L2110.1 1344.5L2110.6 1345.8L2111.6 1346.6L2112.6 1345.6L2113.4 1344.4L2114.4 1343.4L2115.3 1344.6L2116.1 1345.9L2117.1 1344.7L2118.1 1343.9L2119.1 1344.1L2120 1343.1L2121 1343.7L2122 1342.3L2123 1342.1L2124 1343.3L2125 1343.6L2126 1344.3L2127 1344.8L2128 1344.3L2129 1344.3L2129.9 1344.2L2130.9 1343.2L2131.9 1343L2132.9 1343.7L2133.9 1344.4L2134.9 1344.3L2135.9 1344.9L2136.9 1345.8L2137.9 1345.7L2138.6 1344.2L2139.6 1342.9L2140.6 1342L2141.6 1342.4L2142.6 1343.7L2143.6 1344.8L2144.5 1345.1L2145.5 1345.2L2146.5 1344.1L2147.3 1342.4L2148.3 1341.3L2149.3 1341.6L2150.2 1342.2L2151.2 1341.9L2152.2 1342.2L2153.2 1343.5L2154.2 1342.9L2155.2 1342.5L2156.2 1342.3L2157.2 1341.3L2158.2 1341.3L2159.2 1341.7L2160.1 1342.4L2161.1 1343.3L2162.1 1343.1L2163.1 1343.5L2164.1 1343.8L2165.1 1343.6L2166.1 1342.8L2167.1 1342.2L2168.1 1341.4L2168.8 1340L2169.3 1338.7L2170.3 1338L2171.3 1338.6L2172 1336.5L2172.3 1335.1L2172.5 1333.4L2172.8 1331.6L2173 1329.7L2173.3 1328L2173.5 1326.2L2173.8 1324.6L2174 1323.1L2174.2 1321.6L2174.5 1320.2L2174.7 1318.8L2175 1317.4L2175.2 1315.8L2175.5 1314.1L2175.7 1312.5L2176 1310.9L2176.2 1309.7L2177.2 1309.6L2177.7 1312.4L2178 1314.1L2178.2 1316L2178.5 1317.9L2178.7 1319.6L2179 1321.1L2179.2 1322.4L2179.7 1324.3L2180.2 1326L2180.7 1328.1L2181.2 1330.4L2181.7 1332.4L2182.2 1333.6L2182.9 1334.8L2183.9 1335.4L2184.9 1334.1L2185.6 1332.2L2186.1 1330.3L2186.6 1328.1L2187.1 1326L2187.6 1324.6L2188.6 1323.7L2189.6 1325.5L2190.1 1327L2190.6 1328.6L2191.1 1330.5L2191.6 1332.4L2192.1 1334.1L2192.6 1335.8L2193.1 1337.6L2193.6 1339.3L2194 1340.6L2195 1341.7L2196 1341.9L2197 1342.9L2198 1343.2L2199 1342.1L2200 1341.8L2201 1341.9L2202 1342.8L2203 1344.2L2203.9 1344.8L2204.7 1343.5L2205.7 1342.9L2206.7 1343.7L2207.7 1343.1L2208.7 1343L2209.6 1344L2210.6 1343.7L2211.6 1342.9L2212.6 1343.7L2213.6 1343L2214.6 1342.3L2215.6 1342.4L2216.3 1343.9L2217.3 1344.2L2218.1 1342.5L2218.8 1341L2219.8 1341.6L2220.5 1343.1L2221.5 1344.1L2222.5 1343L2223.5 1342.8L2224.5 1343.9L2225.5 1343.3L2226.5 1342.8L2227.5 1343.7L2228.5 1344.3L2229.2 1343L2229.9 1341.5L2230.9 1342.1L2231.4 1343.3L2231.9 1344.5L2232.9 1345.3L2233.9 1344L2234.9 1344L2235.9 1343.1L2236.9 1343.7L2237.9 1345L2238.8 1345.9L2239.8 1345.9L2240.8 1345.3L2241.8 1344.7L2242.8 1344L2243.8 1343.4L2244.8 1343.1L2245.8 1344.1L2246.8 1344.1L2247.8 1343.1L2248.7 1343.2L2249.7 1341.5L2250.5 1340.2L2251.5 1340.6L2252.2 1342L2253.2 1343.3L2254.2 1343.2L2254.9 1341.9L2255.7 1340.6L2256.7 1340.1L2257.7 1340.6L2258.6 1339.2L2259.4 1337.9L2260.4 1338.6L2261.4 1338.8L2262.4 1337.1L2263.3 1335.8L2264.1 1334.5L2264.6 1332.9L2265.1 1330.5L2265.3 1329L2265.6 1327.5L2265.8 1325.8L2266.1 1324L2266.3 1322.2L2266.6 1320.3L2266.8 1318.2L2267.1 1316.1L2267.3 1313.9L2267.6 1311.7L2267.8 1309.5L2268.1 1307.3L2268.3 1305.1L2268.5 1302.8L2268.8 1300.5L2269 1298L2269.3 1295.5L2269.5 1292.8L2269.8 1290L2270 1287.4L2270.3 1285L2270.5 1283.2L2271 1281.9L2271.5 1284.1L2271.8 1286.1L2272 1288.4L2272.3 1290.8L2272.5 1293.1L2272.8 1295.4L2273 1297.5L2273.2 1299.7L2273.5 1301.9L2273.7 1304.1L2274 1306.4L2274.2 1308.7L2274.5 1311L2274.7 1313.1L2275 1314.9L2275.2 1316.4L2275.5 1317.7L2276 1319.8L2276.5 1321.9L2277 1323.9L2277.5 1325.4L2278.4 1327L2279.4 1328L2279.9 1326.8L2280.4 1324.5L2280.7 1323.1L2280.9 1321.7L2281.2 1320.1L2281.4 1318.6L2281.7 1317.1L2281.9 1315.6L2282.2 1314.2L2282.4 1313L2282.9 1311.1L2283.9 1310.8L2284.4 1312.4L2284.9 1314.3L2285.4 1316.2L2285.9 1318.1L2286.4 1320.1L2286.6 1321.4L2286.9 1322.8L2287.1 1324.4L2287.4 1326.1L2287.6 1327.9L2287.9 1329.6L2288.1 1331.1L2288.3 1332.4L2288.8 1334.2L2289.8 1335.8L2290.6 1337.6L2291.1 1338.9L2292.1 1339.5L2293 1338.5L2294 1336.8L2295 1335.7L2296 1335.2L2297 1334.4L2297.8 1332.5L2298.2 1330.8L2298.7 1329.1L2299.2 1327.8L2300.2 1326.4L2301.2 1326.3L2302 1328L2302.5 1329.9L2302.9 1332.2L2303.4 1334.1L2304.4 1334.8L2305.4 1334L2306.4 1333.8L2307.4 1335.2L2307.9 1336.5L2308.4 1337.9L2308.9 1339.1L2309.9 1339.8L2310.9 1339.1L2311.9 1337.5L2312.6 1336.1L2313.6 1336.3L2314.6 1336.5L2315.3 1335.1L2316.3 1335.2L2316.8 1336.7L2317.3 1338.5L2317.8 1340.2L2318.8 1341L2319.8 1339.6L2320.8 1340.3L2321.8 1341.4L2322.7 1342.8L2323.5 1344.2L2324.2 1345.6L2325.2 1345.5L2326 1344L2326.7 1342.3L2327.7 1340.9L2328.7 1341.9L2329.4 1343.4L2330.4 1344.2L2331.4 1344.3L2332.4 1344.8L2333.4 1345.5L2334.4 1346.2L2335.4 1346.4L2336.1 1345.1L2337.1 1344.4L2338.1 1345L2339.1 1346.1L2340.1 1345.7L2340.8 1344.1L2341.6 1342.7L2342.5 1342.5L2343.5 1342.8L2344.3 1344.2L2345.3 1344L2346 1342.8L2347 1344.2L2347.7 1345.5L2348.7 1345.7L2349.5 1344.2L2350 1342.8L2351 1342.3L2352 1342.4L2352.9 1343.3L2353.7 1344.8L2354.7 1345.8L2355.7 1344.6L2356.4 1343.1L2357.4 1342L2358.1 1343.7L2358.6 1345.2L2359.6 1346.5L2360.6 1346.5L2361.6 1346.9L2362.6 1346.5L2363.1 1345.1L2363.8 1343.6L2364.8 1343.6L2365.8 1343.2L2366.8 1344.8L2367.8 1344.8L2368.8 1343.5L2369.8 1343.4L2370.8 1344.3L2371.8 1344.8L2372.7 1343.8L2373.7 1343.7L2374.7 1345.3L2375.7 1346.6L2376.7 1346.5L2377.7 1345.3L2378.7 1345.4L2379.4 1346.8L2380.4 1345.6L2380.9 1344.2L2381.9 1343.5L2382.9 1344.5L2383.9 1344.7" stroke="#000" stroke-width="1.4"/>
<path d="M184.1 1344.6h0M185.1 1345.1h0M186.1 1344.4h0M187.1 1344.7h0M187.8 1346.1h0M188.6 1347.6h0M189.5 1347.1h0M190.5 1346.6h0M191.5 1346.3h0M192.5 1345.1h0M193.5 1344.2h0M194.5 1344.1h0M195.5 1343.3h0M196.5 1342.8h0M197.5 1342.6h0M198.5 1342.7h0M199.4 1343.8h0M200.4 1343.7h0M201.4 1343.7h0M202.4 1342.2h0M203.4 1341h0M204.4 1340.4h0M205.1 1339.1h0M205.6 1337.1h0M205.9 1335.8h0M206.1 1334.4h0M206.4 1332.8h0M206.6 1330.9h0M206.9 1328.4h0M207.1 1325.1h0M207.4 1320.5h0M207.6 1314.1h0M207.9 1305.3h0M208.1 1293.7h0M208.4 1279h0M208.6 1261.8h0M208.9 1243.8h0M209.1 1228.2h0M209.3 1218.9h0M209.6 1217.3h0M209.8 1222h0M210.1 1230.7h0M210.3 1242.6h0M210.6 1256.9h0M210.8 1272.3h0M211.1 1286.8h0M211.3 1299.4h0M211.6 1309.7h0M211.8 1317.7h0M212.1 1323.7h0M212.3 1328.1h0M212.6 1331.3h0M212.8 1333.5h0M213.1 1335.2h0M213.3 1336.6h0M213.6 1337.8h0M214 1340.1h0M214.5 1342h0M215.5 1343.1h0M216.5 1342.3h0M217.5 1342h0M218.5 1343.3h0M219.5 1344.1h0M220.5 1343.7h0M221.5 1344.4h0M222.5 1345.1h0M223.5 1344.6h0M224.4 1344.9h0M225.4 1345.2h0M226.4 1345h0M227.4 1345h0M228.4 1344.4h0M229.4 1343.8h0M230.4 1343.4h0M231.4 1343.2h0M232.4 1342.3h0M233.4 1342.3h0M234.3 1342.2h0M235.1 1343.7h0M235.6 1344.9h0M236.6 1346.1h0M237.6 1346.3h0M238.6 1346.6h0M239.5 1346.1h0M240.5 1345.9h0M241.5 1344.3h0M242.5 1344.1h0M243.5 1344.7h0M244.5 1345.2h0M245 1346.5h0M245.5 1347.8h0M246.5 1346.8h0M247 1345.5h0M247.7 1344.2h0M248.7 1343.7h0M249.7 1344.4h0M250.7 1344.5h0M251.7 1343.7h0M252.7 1345h0M253.6 1344.9h0M254.6 1343.7h0M255.6 1343.6h0M256.6 1342.9h0M257.6 1343.2h0M258.6 1343.4h0M259.6 1343.8h0M260.6 1344.6h0M261.6 1345.2h0M262.6 1345.3h0M263.5 1344.1h0M264.5 1344h0M265.5 1344.1h0M266.5 1345h0M267.5 1343.5h0M268.5 1342.5h0M269.5 1343.9h0M270.5 1344.6h0M271.5 1344.6h0M272.5 1343.7h0M273.4 1343.5h0M274.2 1345.1h0M275.2 1345.8h0M276.2 1344.9h0M277.2 1344.4h0M278.2 1345.3h0M279.1 1343.9h0M280.1 1344.2h0M280.9 1345.5h0M281.9 1345.3h0M282.9 1344.9h0M283.8 1344.6h0M284.8 1344.5h0M285.8 1343.5h0M286.8 1343.1h0M287.8 1344h0M288.8 1344.9h0M289.8 1345.4h0M290.8 1346.3h0M291.8 1346.4h0M292.8 1345.6h0M293.7 1344.5h0M294.7 1344.3h0M295.7 1344.6h0M296.7 1345.1h0M297.7 1346.2h0M298.7 1346.7h0M299.7 1346.7h0M300.7 1346h0M301.7 1345.9h0M302.7 1344.7h0M303.6 1344.5h0M304.6 1345.9h0M305.6 1346h0M306.6 1346.1h0M307.6 1346h0M308.6 1345.5h0M309.6 1346h0M310.6 1345.2h0M311.3 1343.9h0M312.3 1344.3h0M313.3 1345.4h0M314.3 1345.3h0M315.3 1345.8h0M316.3 1346.4h0M317.3 1346.8h0M318.2 1346.1h0M319.2 1345.9h0M320.2 1345.4h0M321.2 1344.9h0M322.2 1344.3h0M323.2 1344.1h0M324.2 1343.7h0M325.2 1344.9h0M325.9 1346.4h0M326.9 1345.3h0M327.4 1343.8h0M328.4 1343.5h0M329.4 1344.3h0M330.4 1343.4h0M331.4 1343.4h0M332.1 1344.7h0M333.1 1346h0M334.1 1346.8h0M335.1 1345.8h0M336.1 1344.9h0M336.8 1343.5h0M337.6 1342.2h0M338.5 1342.4h0M339.5 1342.4h0M340.5 1343h0M341.5 1344.2h0M342.5 1345.2h0M343.5 1344.5h0M344.5 1343.8h0M345.5 1344.6h0M346.5 1344.7h0M347.5 1343.5h0M348.2 1341.8h0M349.2 1342.1h0M349.7 1343.5h0M350.2 1344.9h0M351.2 1346.1h0M352.2 1344.9h0M353.1 1344.9h0M354.1 1345.1h0M355.1 1345h0M355.9 1343.5h0M356.6 1342h0M357.6 1341.9h0M358.6 1341.8h0M359.6 1343h0M360.3 1344.2h0M361.3 1345.5h0M362.3 1345.8h0M363 1344.5h0M364 1344.7h0M364.5 1346h0M365.5 1346.7h0M366.5 1345.9h0M367.5 1344.7h0M368 1343.3h0M368.5 1342h0M369.5 1342.8h0M370.2 1344.2h0M371.2 1344.3h0M372.2 1343.5h0M373.2 1343.5h0M374.2 1343.6h0M375.2 1344.7h0M376.2 1344.4h0M377.2 1344.7h0M377.9 1346.1h0M378.9 1346.3h0M379.9 1345.2h0M380.9 1346.4h0M381.9 1345.6h0M382.6 1344h0M383.6 1343.1h0M384.6 1344.4h0M385.6 1345.2h0M386.6 1345.9h0M387.5 1345.2h0M388.3 1343.9h0M389.3 1343.9h0M390 1345.3h0M390.8 1346.6h0M391.8 1347.5h0M392.7 1346.3h0M393.7 1344.9h0M394.7 1344.7h0M395.7 1343.4h0M396.7 1342.6h0M397.7 1342.9h0M398.7 1344.3h0M399.7 1343.6h0M400.4 1342.4h0M401.4 1341.8h0M402.4 1342.8h0M403.4 1343.9h0M404.4 1344.7h0M405.4 1344.7h0M406.4 1343.3h0M406.9 1342.1h0M407.8 1341.6h0M408.8 1342.6h0M409.8 1343h0M410.8 1343.9h0M411.8 1344.1h0M412.8 1343.7h0M413.8 1344.2h0M414.8 1344.4h0M415.8 1343.8h0M416.8 1343.3h0M417.7 1344.2h0M418.7 1344.1h0M419.5 1342.6h0M420.2 1341.3h0M421.2 1341.6h0M422.2 1342.9h0M423.2 1342.8h0M424.2 1343.5h0M425.2 1344.6h0M426.2 1345.3h0M427.1 1344.4h0M427.9 1342.9h0M428.9 1342.7h0M429.9 1343.6h0M430.9 1343.5h0M431.8 1342.2h0M432.8 1341.4h0M433.6 1342.8h0M434.1 1344h0M434.8 1345.6h0M435.8 1346h0M436.8 1346.5h0M437.8 1345.7h0M438.5 1344.1h0M439.3 1342.8h0M440.3 1341.8h0M441.3 1342.1h0M442.2 1342.7h0M443.2 1343h0M444.2 1341.8h0M445.2 1342h0M446.2 1342.3h0M447.2 1343.3h0M447.9 1341.9h0M448.4 1340.2h0M449.4 1339.3h0M450.4 1340.8h0M451.4 1340.3h0M452.1 1338.4h0M452.9 1337.1h0M453.6 1335.8h0M454.1 1334.3h0M454.6 1332.1h0M454.9 1330.7h0M455.1 1329.2h0M455.4 1327.6h0M455.6 1326.1h0M455.9 1324.5h0M456.1 1323h0M456.4 1321.5h0M456.6 1319.9h0M456.8 1318.3h0M457.1 1316.5h0M457.3 1314.4h0M457.6 1311.8h0M457.8 1308.7h0M458.1 1304.7h0M458.3 1299.7h0M458.6 1293.4h0M458.8 1285.3h0M459.1 1274.4h0M459.3 1259.4h0M459.6 1238.6h0M459.8 1231.5h0M460.1 1207h0M460.3 1133h0M460.6 1090h0M460.8 992h0M461.1 928.6h0M461.3 797.6h0M461.5 676.8h0M461.8 655.6h0M462 672.7h0M462.3 728h0M462.5 736.2h0M462.8 818h0M463 863h0M463.3 902h0M463.5 955.2h0M463.8 975.6h0M464 1045h0M464.3 1106.7h0M464.5 1162h0M464.8 1190.6h0M465 1225h0M465.3 1235.5h0M465.5 1256.8h0M465.8 1272.3h0M466 1283.6h0M466.3 1291.8h0M466.5 1298h0M466.7 1302.7h0M467 1306.6h0M467.2 1309.9h0M467.5 1312.9h0M467.7 1315.8h0M468 1318.6h0M468.2 1321.3h0M468.5 1323.7h0M468.7 1325.9h0M469 1327.7h0M469.2 1329h0M469.7 1330.8h0M470.5 1332.6h0M471 1334.2h0M471.4 1336h0M471.9 1337.7h0M472.7 1339.1h0M473.7 1340h0M474.7 1341.5h0M475.7 1342h0M476.6 1342.4h0M477.6 1342.7h0M478.4 1341.4h0M479.1 1339.8h0M480.1 1340h0M480.6 1341.3h0M481.1 1342.8h0M482.1 1343.8h0M483.1 1342.6h0M484.1 1342.4h0M485.1 1343.5h0M486.1 1344.4h0M487 1343.2h0M488 1342.1h0M488.8 1340.8h0M489.8 1341.7h0M490.5 1342.9h0M491.5 1342.4h0M492.5 1342.6h0M493.2 1344.3h0M494.2 1344.3h0M495.2 1343.7h0M496.2 1343.9h0M497.2 1343.7h0M498.2 1342.4h0M499.2 1341.6h0M500.2 1341.9h0M501.1 1342.1h0M502.1 1341.8h0M502.9 1343.2h0M503.9 1343.5h0M504.6 1342h0M505.6 1342.6h0M506.6 1343.8h0M507.6 1343.9h0M508.6 1343.8h0M509.6 1344.6h0M510.6 1344h0M511.5 1342.6h0M512.5 1342.1h0M513.5 1341.4h0M514.5 1342.8h0M515.5 1343.7h0M516.2 1345h0M516.7 1346.2h0M517.5 1347.4h0M518.5 1346.2h0M519 1344.9h0M520 1343.7h0M520.9 1344.4h0M521.9 1345.1h0M522.9 1344.4h0M523.9 1344.9h0M524.9 1344.8h0M525.7 1343.4h0M526.6 1342.2h0M527.6 1343.2h0M528.6 1342.2h0M529.6 1341.2h0M530.1 1342.4h0M530.6 1344.4h0M531.1 1345.8h0M532.1 1344h0M532.6 1342.6h0M533.6 1343h0M534.6 1344.3h0M535.6 1344.2h0M536.5 1343.2h0M537.5 1342h0M538.5 1342.9h0M539.3 1344.5h0M540 1345.7h0M541 1345.2h0M541.7 1344h0M542.5 1342.4h0M543.5 1342.5h0M544.5 1342.8h0M545.5 1343.4h0M546.4 1342.7h0M547.4 1342.1h0M548.2 1343.4h0M549.2 1343.8h0M550.2 1343.4h0M551.1 1342.3h0M551.9 1340.9h0M552.9 1341.5h0M553.4 1342.8h0M554.4 1343.1h0M555.1 1341.4h0M555.6 1339.9h0M556.1 1338.7h0M557.1 1337.9h0M558.1 1338.1h0M558.8 1339.4h0M559.6 1340.8h0M560.5 1340h0M561.3 1338.4h0M562.3 1337.9h0M563.3 1337.2h0M564.3 1336.2h0M565.3 1335.4h0M566.2 1334.4h0M567.2 1333.4h0M568.2 1332.3h0M568.7 1330.5h0M569 1329.3h0M569.2 1327.8h0M569.5 1326.2h0M569.7 1324.6h0M570 1322.9h0M570.2 1321.1h0M570.4 1319.4h0M570.7 1317.6h0M570.9 1315.6h0M571.2 1313.5h0M571.4 1311.2h0M571.7 1308.5h0M571.9 1305.6h0M572.2 1302.3h0M572.4 1298.5h0M572.7 1294.1h0M572.9 1288.9h0M573.2 1282.8h0M573.4 1275.6h0M573.7 1266.8h0M573.9 1256h0M574.2 1242.1h0M574.4 1223.7h0M574.7 1217h0M574.9 1190.6h0M575.2 1164h0M575.4 1129h0M575.6 1035h0M575.9 975.6h0M576.1 807.8h0M576.4 610.5h0M576.6 402.9h0M576.9 276.3h0M577.1 198.9h0M577.4 220.2h0M577.6 331.3h0M577.9 481.9h0M578.1 545.6h0M578.4 683h0M578.6 691.8h0M578.9 700.6h0M579.1 726.9h0M579.4 795.6h0M579.6 897.9h0M579.9 996h0M580.1 1078h0M580.3 1117h0M580.6 1151.7h0M580.8 1176.3h0M581.1 1205h0M581.3 1220.7h0M581.6 1241.7h0M581.8 1257.2h0M582.1 1269h0M582.3 1278.1h0M582.6 1285.5h0M582.8 1291.7h0M583.1 1297h0M583.3 1301.8h0M583.6 1306.1h0M583.8 1309.9h0M584.1 1313.4h0M584.3 1316.3h0M584.6 1318.8h0M584.8 1320.9h0M585.1 1322.4h0M585.3 1323.7h0M585.8 1325.4h0M586.3 1326.7h0M586.8 1328h0M587.3 1329.6h0M587.8 1331.3h0M588.3 1332.6h0M589 1334.2h0M589.8 1335.7h0M590.7 1336.7h0M591.7 1336.5h0M592.7 1336.2h0M593.5 1338.1h0M594 1339.6h0M595 1340.9h0M595.9 1341.1h0M596.9 1341.3h0M597.9 1340.7h0M598.9 1340.1h0M599.7 1341.7h0M600.4 1343.2h0M601.4 1343.2h0M602.4 1343.3h0M603.4 1342.3h0M604.4 1341.1h0M605.3 1340.1h0M605.8 1338.8h0M606.3 1337h0M606.8 1335.1h0M607.3 1333.5h0M607.8 1332.2h0M608.6 1330.2h0M609.1 1327.8h0M609.3 1325.7h0M609.6 1322.6h0M609.8 1318.4h0M610 1312.6h0M610.3 1304.6h0M610.5 1294h0M610.8 1280.4h0M611 1263.4h0M611.3 1243.4h0M611.5 1221.5h0M611.8 1200.1h0M612 1183.2h0M612.3 1175.1h0M612.5 1177.3h0M612.8 1187.3h0M613 1200.2h0M613.3 1212.2h0M613.5 1221h0M613.8 1226.3h0M614 1229.5h0M614.3 1233h0M614.5 1239.3h0M614.8 1249.3h0M615 1261.8h0M615.2 1275h0M615.5 1287.2h0M615.7 1297.8h0M616 1306.6h0M616.2 1313.5h0M616.5 1318.9h0M616.7 1323.1h0M617 1326.3h0M617.2 1328.9h0M617.5 1331.1h0M617.7 1332.9h0M618 1334.5h0M618.5 1336.3h0M619.5 1336.9h0M620.4 1338.2h0M621.2 1339.7h0M621.9 1341.1h0M622.9 1341.8h0M623.9 1341.2h0M624.9 1341.6h0M625.6 1343h0M626.4 1344.5h0M627.4 1345.7h0M628.4 1345.5h0M629.4 1344.5h0M630.3 1343h0M631.3 1342.1h0M632.3 1341.9h0M633.3 1341.2h0M634.3 1341.7h0M635.3 1342.7h0M636.3 1344h0M637.3 1344.5h0M638.3 1343.6h0M639.3 1342.7h0M639.7 1341.2h0M640.2 1339.2h0M640.7 1337.3h0M641.5 1335.9h0M642.5 1335.1h0M643.5 1335.9h0M644.2 1337.2h0M645.2 1338.8h0M645.9 1340.5h0M646.7 1341.8h0M647.7 1341.7h0M648.7 1341.9h0M649.6 1343.6h0M650.6 1344.8h0M651.6 1343.3h0M652.6 1342.2h0M653.6 1343h0M654.6 1343.6h0M655.6 1344.6h0M656.6 1343.4h0M657.1 1342.2h0M658.1 1341.4h0M659.1 1341.8h0M660 1342.3h0M661 1343h0M662 1344.4h0M663 1345.4h0M664 1345h0M665 1345h0M666 1345h0M667 1344.5h0M668 1344h0M669 1343.3h0M669.9 1344.3h0M670.7 1346h0M671.7 1346.2h0M672.4 1344.8h0M673.4 1343.6h0M674.4 1343.1h0M675.4 1342.4h0M676.4 1343.2h0M677.4 1344.2h0M678.1 1345.5h0M679.1 1345.8h0M680.1 1345.6h0M681.1 1345.9h0M682.1 1344.8h0M683.1 1343.9h0M684.1 1343.5h0M685 1343.1h0M686 1344.2h0M687 1345.3h0M688 1345.4h0M689 1344.2h0M690 1344.8h0M691 1343.3h0M691.7 1341.9h0M692.7 1342.6h0M693.5 1344.1h0M694.4 1344.6h0M695.4 1345.9h0M696.4 1346.3h0M697.4 1345.1h0M698.4 1343.7h0M699.4 1343.1h0M700.4 1342.7h0M701.4 1343.9h0M702.4 1344.4h0M703.1 1343.1h0M704.1 1342.5h0M705.1 1343.6h0M706.1 1343.9h0M707.1 1343.7h0M708.1 1343.6h0M709 1344.3h0M710 1344.7h0M711 1344.3h0M712 1343.1h0M713 1343h0M714 1343.5h0M715 1344.4h0M716 1343.7h0M716.7 1342.3h0M717.7 1342h0M718.5 1343.5h0M718.9 1345h0M719.7 1346.2h0M720.7 1345.3h0M721.7 1345.7h0M722.7 1346.2h0M723.7 1345.1h0M724.6 1345.5h0M725.6 1346.1h0M726.6 1344.8h0M727.6 1345.5h0M728.6 1345.7h0M729.3 1344.3h0M730.3 1344.4h0M731.3 1344.5h0M732.3 1343.8h0M733.3 1342.9h0M734.3 1342.3h0M735 1343.5h0M735.8 1345h0M736.8 1345.4h0M737.8 1344.4h0M738.5 1343h0M739.2 1341.4h0M740.2 1339.9h0M741 1338.5h0M742 1338.7h0M742.5 1339.9h0M743 1341.2h0M743.9 1341.8h0M744.9 1340.7h0M745.7 1342.5h0M746.2 1343.8h0M747.2 1344.3h0M748.2 1343.8h0M749.1 1344h0M750.1 1344.2h0M751.1 1344.7h0M752.1 1343.8h0M753.1 1343.4h0M754.1 1344.5h0M755.1 1345.8h0M756.1 1346.9h0M757.1 1345.4h0M758.1 1344.9h0M759 1344.2h0M760 1343.5h0M761 1343.6h0M762 1342.9h0M763 1342h0M764 1343.6h0M764.5 1344.9h0M765.5 1346h0M766.5 1344.5h0M767.5 1344h0M768 1345.2h0M768.9 1344.5h0M769.7 1343.2h0M770.7 1343.6h0M771.7 1343.7h0M772.7 1344.1h0M773.6 1344h0M774.6 1344.3h0M775.6 1345h0M776.6 1345.7h0M777.6 1346.3h0M778.6 1345.2h0M779.6 1344.7h0M780.6 1344.8h0M781.6 1344h0M782.6 1343.8h0M783.5 1345h0M784.5 1345.1h0M785.5 1344.7h0M786.3 1342.8h0M786.8 1341.5h0M787.8 1341.3h0M788.5 1343.1h0M789 1344.7h0M789.5 1346.3h0M790.5 1346.5h0M791 1345h0M791.5 1343.3h0M792.5 1342.2h0M793.2 1343.5h0M793.7 1344.8h0M794.4 1346.2h0M795.4 1346.2h0M796.4 1345.9h0M797.4 1344.5h0M798.4 1343.3h0M799.4 1342.6h0M800.4 1342.1h0M801.4 1343.3h0M802.4 1344.6h0M803.3 1344.2h0M804.3 1344.8h0M805.3 1346.1h0M806.3 1345h0M807.1 1343.3h0M808 1342.6h0M809 1344h0M810 1345.2h0M811 1345.9h0M812 1344.5h0M813 1344.2h0M814 1344.5h0M815 1344.6h0M816 1343.7h0M817 1343.9h0M817.9 1343.4h0M818.7 1342h0M819.7 1341.4h0M820.7 1342.5h0M821.4 1343.9h0M822.4 1342.7h0M823.4 1341.7h0M824.4 1343h0M825.4 1343.9h0M826.4 1343.6h0M827.1 1342.1h0M827.6 1340.8h0M828.1 1339.1h0M828.6 1336.5h0M828.8 1334.6h0M829.1 1332.3h0M829.3 1329.6h0M829.6 1326.6h0M829.8 1323.6h0M830.1 1320.7h0M830.3 1318.3h0M830.6 1316.9h0M831.3 1319.4h0M831.6 1321.5h0M831.8 1323.5h0M832.1 1325.2h0M832.6 1327.1h0M833.5 1327.9h0M834 1330h0M834.3 1331.5h0M834.5 1333h0M834.8 1334.5h0M835 1335.7h0M835.5 1337.7h0M836 1339.3h0M837 1340.4h0M838 1340.5h0M839 1341.7h0M840 1341.8h0M841 1341.6h0M842 1341.9h0M842.9 1342.3h0M843.9 1343.3h0M844.9 1344.2h0M845.7 1342.7h0M846.7 1343.2h0M847.2 1345h0M847.6 1346.4h0M848.6 1346.6h0M849.4 1345h0M849.9 1343.7h0M850.9 1343h0M851.9 1344.6h0M852.8 1345.1h0M853.8 1344.8h0M854.8 1344.3h0M855.8 1344h0M856.8 1345h0M857.8 1344.5h0M858.8 1344.2h0M859.8 1345.6h0M860.8 1346.2h0M861.5 1344.9h0M862.5 1344.2h0M863.5 1345.7h0M864.5 1345.3h0M865.5 1346.4h0M866.5 1347.2h0M867.4 1346.1h0M868.2 1344.8h0M868.9 1343.4h0M869.7 1341.9h0M870.7 1342.2h0M871.7 1343.5h0M872.6 1343.7h0M873.6 1343.1h0M874.6 1343.7h0M875.4 1344.9h0M876.4 1344.4h0M877.3 1343.4h0M878.3 1344.3h0M879.1 1345.7h0M880.1 1346.7h0M881.1 1345.2h0M882.1 1344.2h0M883 1345.5h0M884 1346.5h0M885 1346.1h0M886 1344.7h0M887 1344.7h0M888 1344.1h0M889 1343.9h0M890 1343.8h0M891 1343h0M892 1342.8h0M892.7 1344.5h0M893.2 1345.8h0M894.2 1345.9h0M894.9 1344.3h0M895.7 1342.8h0M896.7 1343.4h0M897.6 1344.4h0M898.6 1345.3h0M899.6 1346h0M900.6 1344.7h0M901.4 1343.3h0M902.3 1343.7h0M903.3 1344.9h0M904.3 1345.2h0M905.3 1345.5h0M906.3 1345.1h0M907.3 1344h0M908.3 1343.7h0M909 1342.3h0M910 1342.1h0M911 1342.9h0M912 1343.5h0M913 1345.1h0M914 1346h0M915 1345.7h0M916 1344.9h0M916.5 1343.7h0M917.2 1342.4h0M918.2 1342.6h0M919.2 1343.1h0M920.2 1344.4h0M920.9 1345.8h0M921.7 1347.3h0M922.6 1346.4h0M923.6 1346.3h0M924.6 1346.5h0M925.6 1345.5h0M926.6 1344.8h0M927.6 1344.9h0M928.6 1344.3h0M929.6 1343.7h0M930.3 1345h0M931.3 1345.6h0M932.3 1344.2h0M933 1342.8h0M934 1342.7h0M935 1343.6h0M936 1344.6h0M937 1344.8h0M938 1344.2h0M939 1343.8h0M940 1344h0M941 1344.2h0M941.7 1342.9h0M942.7 1341.5h0M943.7 1341.8h0M944.7 1343.2h0M945.4 1344.4h0M946.4 1343.4h0M946.9 1341.9h0M947.6 1340.7h0M948.4 1342.3h0M949.1 1343.6h0M950.1 1343.4h0M951.1 1343.9h0M952.1 1342.7h0M953.1 1342h0M954.1 1342.9h0M955.1 1342.8h0M956.1 1342.6h0M957 1342.8h0M958 1342.1h0M959 1340.7h0M960 1340.7h0M961 1341h0M961.7 1339.3h0M962.5 1337.7h0M963.5 1336.7h0M964.5 1334.8h0M965 1332.2h0M965.2 1330.5h0M965.5 1328.7h0M965.7 1326.7h0M966 1324.6h0M966.2 1322.2h0M966.4 1319.3h0M966.7 1315.4h0M966.9 1310.1h0M967.2 1303.1h0M967.4 1293.7h0M967.7 1281.8h0M967.9 1267h0M968.2 1249.5h0M968.4 1229.6h0M968.7 1208.1h0M968.9 1186.7h0M969.2 1168.3h0M969.4 1156.2h0M969.7 1153.3h0M969.9 1160h0M970.2 1174h0M970.4 1191.3h0M970.7 1208.8h0M970.9 1223.9h0M971.2 1235.3h0M971.4 1242.4h0M971.6 1245.1h0M972.1 1240.5h0M972.4 1236h0M972.6 1232.7h0M973.1 1237.3h0M973.4 1245.9h0M973.6 1257.1h0M973.9 1269.1h0M974.1 1280.7h0M974.4 1291.3h0M974.6 1300.6h0M974.9 1308.3h0M975.1 1314.7h0M975.4 1319.6h0M975.6 1323.3h0M975.9 1325.8h0M976.1 1327.6h0M976.3 1328.8h0M976.8 1330.8h0M977.3 1332.7h0M977.8 1334.2h0M978.6 1335.6h0M979.6 1336.9h0M980.3 1338.7h0M980.8 1340.4h0M981.3 1341.9h0M982.3 1342.9h0M983.3 1342.8h0M984.3 1343h0M985.3 1343.3h0M986.2 1344.5h0M987.2 1344.1h0M988.2 1343.2h0M989.2 1341.9h0M990.2 1343h0M991 1344.4h0M991.9 1343.8h0M992.9 1342.8h0M993.9 1343.3h0M994.9 1343.2h0M995.9 1343.4h0M996.9 1344.8h0M997.9 1344.1h0M998.9 1343.5h0M999.9 1344.6h0M1000.9 1345.5h0M1001.8 1344.8h0M1002.8 1344.7h0M1003.8 1344.2h0M1004.8 1344.1h0M1005.8 1343.8h0M1006.8 1343.6h0M1007.8 1344.8h0M1008.8 1345.6h0M1009.8 1344.3h0M1010.8 1342.9h0M1011.7 1343h0M1012.7 1343.2h0M1013.7 1342.9h0M1014.7 1343.2h0M1015.7 1342.4h0M1016.7 1343.4h0M1017.7 1343h0M1018.7 1341.9h0M1019.7 1342.6h0M1020.7 1343.5h0M1021.6 1342.8h0M1022.6 1342.8h0M1023.6 1343.9h0M1024.6 1345.4h0M1025.6 1345.6h0M1026.6 1344.9h0M1027.6 1343.4h0M1028.6 1342.1h0M1029.6 1342.3h0M1030.6 1343.4h0M1031.5 1343.3h0M1032.5 1342.9h0M1033.5 1342.2h0M1034.5 1341.7h0M1035.5 1341h0M1036.5 1340.7h0M1037.5 1341.1h0M1038.5 1340.8h0M1039.5 1339.6h0M1040.2 1337.7h0M1040.7 1336h0M1041.2 1334.2h0M1041.7 1332.2h0M1042.2 1330.4h0M1042.7 1328.9h0M1043.2 1327.5h0M1043.7 1325.6h0M1043.9 1324h0M1044.2 1321.9h0M1044.4 1318.9h0M1044.7 1315h0M1044.9 1309.9h0M1045.2 1303.4h0M1045.4 1295h0M1045.6 1284.2h0M1045.9 1270.4h0M1046.1 1253.2h0M1046.4 1232h0M1046.6 1206.5h0M1046.9 1177.3h0M1047.1 1145.2h0M1047.4 1112.8h0M1047.6 1084.4h0M1047.9 1065.5h0M1048.1 1060.5h0M1048.4 1070.5h0M1048.6 1091.7h0M1048.9 1118.7h0M1049.1 1146.2h0M1049.4 1170.8h0M1049.6 1190.3h0M1049.9 1203.7h0M1050.1 1210.9h0M1050.4 1212.1h0M1050.6 1208.2h0M1050.8 1201h0M1051.1 1192.6h0M1051.3 1186h0M1051.6 1184.4h0M1051.8 1189.6h0M1052.1 1201.3h0M1052.3 1217.3h0M1052.6 1234.8h0M1052.8 1252h0M1053.1 1267.6h0M1053.3 1281.1h0M1053.6 1292.4h0M1053.8 1301.5h0M1054.1 1308.8h0M1054.3 1314.3h0M1054.6 1318.5h0M1054.8 1321.8h0M1055.1 1324.3h0M1055.3 1326.5h0M1055.5 1328.3h0M1055.8 1329.9h0M1056 1331.3h0M1056.5 1333.4h0M1057 1334.9h0M1057.5 1336.4h0M1058 1337.7h0M1059 1339.2h0M1060 1340.5h0M1061 1341.8h0M1062 1342.6h0M1063 1342.5h0M1064 1343.3h0M1065 1342.7h0M1065.9 1342.1h0M1066.9 1342h0M1067.9 1341.6h0M1068.9 1342.4h0M1069.9 1343.7h0M1070.9 1343.5h0M1071.9 1342.6h0M1072.9 1341.8h0M1073.9 1342.2h0M1074.9 1343.4h0M1075.6 1344.7h0M1076.6 1345.9h0M1077.6 1345.9h0M1078.6 1346.3h0M1079.6 1345.9h0M1080.3 1344.2h0M1081 1343h0M1082 1343.7h0M1083 1344.1h0M1084 1343.6h0M1085 1342.7h0M1086 1343.7h0M1087 1344.9h0M1088 1344.1h0M1089 1343h0M1090 1342.5h0M1090.9 1342.7h0M1091.9 1342.5h0M1092.9 1342h0M1093.4 1343.3h0M1093.9 1344.8h0M1094.9 1344.6h0M1095.9 1343.9h0M1096.9 1344.8h0M1097.9 1344h0M1098.9 1344.2h0M1099.9 1344.3h0M1100.8 1342.7h0M1101.8 1342h0M1102.8 1341.5h0M1103.8 1341.3h0M1104.6 1343h0M1105.3 1344.5h0M1106.3 1345h0M1107.3 1345.2h0M1108.3 1345.7h0M1109.3 1345.6h0M1110.2 1344.8h0M1111.2 1344.8h0M1112.2 1345.3h0M1113.2 1345.8h0M1114.2 1345.6h0M1114.9 1344.1h0M1115.9 1344.4h0M1116.9 1345h0M1117.9 1344.6h0M1118.9 1345.3h0M1119.9 1344.9h0M1120.9 1345.3h0M1121.9 1345.1h0M1122.6 1343.9h0M1123.6 1343.2h0M1124.6 1343.3h0M1125.6 1343.6h0M1126.6 1343.7h0M1127.6 1343.7h0M1128.6 1344.3h0M1129.6 1345.5h0M1130.5 1344.7h0M1131.5 1343.4h0M1132.5 1342.9h0M1133.5 1343.3h0M1134.5 1342.1h0M1135.5 1343.4h0M1136 1344.6h0M1136.5 1345.8h0M1137.5 1346.4h0M1138 1345h0M1138.5 1343.4h0M1139.5 1342.8h0M1140.2 1344.1h0M1141.2 1343.9h0M1141.9 1342.5h0M1142.9 1342.7h0M1143.9 1343.4h0M1144.9 1342.8h0M1145.9 1343.2h0M1146.9 1343.5h0M1147.9 1343.5h0M1148.9 1343.8h0M1149.8 1344h0M1150.8 1344.6h0M1151.8 1344.5h0M1152.8 1345.2h0M1153.8 1344.1h0M1154.8 1342.8h0M1155.8 1343.6h0M1156.8 1344.5h0M1157.8 1344h0M1158.8 1343.2h0M1159.7 1342.6h0M1160.7 1342.3h0M1161.7 1341.9h0M1162.7 1342.4h0M1163.5 1343.6h0M1164.4 1343.8h0M1165.2 1342.2h0M1165.9 1340.6h0M1166.9 1339.9h0M1167.9 1339.3h0M1168.4 1338.1h0M1168.9 1336.7h0M1169.4 1335.5h0M1169.9 1334.2h0M1170.4 1332.4h0M1170.6 1331.2h0M1170.9 1329.6h0M1171.1 1327.4h0M1171.4 1324.4h0M1171.6 1320.6h0M1171.9 1315.5h0M1172.1 1309.2h0M1172.4 1301.5h0M1172.6 1292.2h0M1172.9 1281.1h0M1173.1 1268.3h0M1173.4 1253.9h0M1173.6 1238.5h0M1173.9 1223.4h0M1174.1 1210.6h0M1174.3 1202.4h0M1174.6 1200.7h0M1174.8 1205.8h0M1175.1 1216.1h0M1175.3 1229.4h0M1175.6 1243.3h0M1175.8 1256.1h0M1176.1 1267h0M1176.3 1275.4h0M1176.6 1281.2h0M1176.8 1284.4h0M1177.6 1280.5h0M1177.8 1276.2h0M1178.1 1271.6h0M1178.3 1268.1h0M1178.6 1266.8h0M1178.8 1268.4h0M1179.1 1272.9h0M1179.3 1279.5h0M1179.5 1286.9h0M1179.8 1294.4h0M1180 1301.6h0M1180.3 1308.1h0M1180.5 1314.1h0M1180.8 1319.3h0M1181 1323.7h0M1181.3 1327.3h0M1181.5 1330.1h0M1181.8 1332.2h0M1182 1333.7h0M1182.5 1335.5h0M1183 1336.8h0M1183.5 1338h0M1184.2 1339.4h0M1185.2 1340.1h0M1186.2 1340.6h0M1187.2 1340h0M1188.2 1340.8h0M1189.2 1341.5h0M1190.2 1341.2h0M1191.2 1342.3h0M1192.2 1343.2h0M1193.2 1344.5h0M1194.1 1344h0M1194.9 1342.4h0M1195.9 1342h0M1196.9 1341.2h0M1197.9 1342.6h0M1198.9 1343.5h0M1199.6 1342.1h0M1200.6 1342.1h0M1201.6 1342.4h0M1202.6 1343h0M1203.6 1343.5h0M1204.5 1342.8h0M1205.5 1341.7h0M1206.5 1341.8h0M1207.3 1343.1h0M1208.3 1343.8h0M1209.2 1344h0M1210.2 1343.6h0M1211.2 1344.2h0M1212.2 1345.5h0M1213.2 1346.6h0M1214.2 1345.4h0M1215.2 1345.1h0M1216.2 1344h0M1217.2 1343h0M1218.2 1342.5h0M1219.1 1342.5h0M1220.1 1342h0M1221.1 1343.2h0M1222.1 1344.7h0M1223.1 1345.1h0M1224.1 1344.1h0M1225.1 1344.3h0M1226.1 1346h0M1227.1 1345.9h0M1227.8 1344.3h0M1228.8 1344.4h0M1229.8 1344.9h0M1230.8 1345.6h0M1231.5 1347.3h0M1232.5 1347.2h0M1233.3 1345.6h0M1234.2 1346h0M1235.2 1346.9h0M1236.2 1346h0M1237.2 1345.3h0M1238.2 1344.2h0M1239.2 1343.4h0M1240.2 1343.8h0M1241.2 1342.8h0M1242.2 1342.9h0M1243.2 1343.5h0M1244.1 1342.3h0M1244.6 1340.8h0M1245.1 1338.6h0M1245.4 1337.3h0M1245.6 1336h0M1245.9 1334.7h0M1246.4 1332.6h0M1247.1 1331.3h0M1248.1 1332.7h0M1248.6 1334.1h0M1249.1 1335.3h0M1250.1 1336h0M1251.1 1335.8h0M1252.1 1337.3h0M1252.8 1338.5h0M1253.8 1339.8h0M1254.5 1341.6h0M1255.3 1342.9h0M1256.3 1343.8h0M1257 1345.1h0M1258 1345.7h0M1259 1345.9h0M1260 1344.8h0M1261 1343.5h0M1262 1343.1h0M1263 1342.9h0M1263.9 1344.1h0M1264.9 1345h0M1265.7 1346.5h0M1266.7 1345.9h0M1267.2 1344.2h0M1267.7 1343h0M1268.6 1342.9h0M1269.6 1343.1h0M1270.6 1344.5h0M1271.6 1344.9h0M1272.6 1345.1h0M1273.6 1345.3h0M1274.6 1344.6h0M1275.6 1344.4h0M1276.6 1345.2h0M1277.6 1346h0M1278.5 1344.6h0M1279.5 1343.8h0M1280.5 1343h0M1281.5 1342.3h0M1282.5 1342.6h0M1283.5 1342.8h0M1284.5 1342.4h0M1285.5 1343.6h0M1286.2 1345.3h0M1287.2 1346.5h0M1288.2 1345.4h0M1288.9 1344h0M1289.9 1344.7h0M1290.9 1345.7h0M1291.9 1346.6h0M1292.9 1345.4h0M1293.9 1344.4h0M1294.9 1345.7h0M1295.9 1345.3h0M1296.6 1344h0M1297.6 1343.5h0M1298.6 1344.8h0M1299.6 1344.5h0M1300.3 1343.3h0M1301.3 1343.9h0M1302.3 1344.1h0M1303.3 1344.4h0M1304.3 1344.8h0M1305.3 1343.7h0M1306.3 1344.1h0M1307 1345.8h0M1308 1346h0M1309 1345h0M1310 1343.8h0M1311 1345.1h0M1312 1344.8h0M1312.9 1343.6h0M1313.9 1342.8h0M1314.9 1343.6h0M1315.7 1345.1h0M1316.7 1345h0M1317.7 1344.6h0M1318.6 1343.9h0M1319.6 1345.6h0M1320.4 1346.8h0M1321.4 1347.1h0M1322.4 1346h0M1323.3 1344.8h0M1324.3 1343.4h0M1325.3 1343.4h0M1326.3 1343.5h0M1327.3 1343.4h0M1328.3 1344.2h0M1329.3 1345.3h0M1330.3 1346.5h0M1331.3 1346.1h0M1332.3 1345.5h0M1333.2 1344.3h0M1334.2 1343.7h0M1335.2 1343.5h0M1336.2 1342.2h0M1337.2 1342.7h0M1337.7 1344h0M1338.7 1344.7h0M1339.7 1345.1h0M1340.7 1344.7h0M1341.7 1344h0M1342.6 1342.9h0M1343.6 1343h0M1344.6 1343.2h0M1345.6 1342.5h0M1346.6 1343.7h0M1347.1 1345h0M1347.6 1346.2h0M1348.6 1346.4h0M1349.6 1345.3h0M1350.6 1345.1h0M1351.6 1344.6h0M1352.5 1345.5h0M1353.5 1345.5h0M1354.5 1345.6h0M1355.5 1345.6h0M1356.5 1344.1h0M1357.3 1342.9h0M1358.2 1341.8h0M1359.2 1342.6h0M1360.2 1341.5h0M1360.7 1340.2h0M1361.2 1339h0M1362 1337.5h0M1362.7 1335.7h0M1363.2 1333.9h0M1363.4 1332.5h0M1363.7 1330.7h0M1363.9 1328.5h0M1364.2 1325.7h0M1364.4 1322.4h0M1364.7 1318.7h0M1364.9 1314.5h0M1365.2 1309.8h0M1365.4 1304.6h0M1365.7 1299h0M1365.9 1293.2h0M1366.2 1287.5h0M1366.4 1282.3h0M1366.7 1278.4h0M1366.9 1276.1h0M1367.4 1277.7h0M1367.6 1281.1h0M1367.9 1285.7h0M1368.1 1290.8h0M1368.4 1295.9h0M1368.6 1300.7h0M1368.9 1304.9h0M1369.1 1308.4h0M1369.4 1311h0M1369.6 1312.9h0M1370.6 1311.7h0M1370.9 1309.7h0M1371.1 1307.6h0M1371.4 1305.8h0M1371.6 1304.6h0M1372.3 1307.1h0M1372.6 1309.9h0M1372.8 1313.2h0M1373.1 1316.6h0M1373.3 1319.9h0M1373.6 1323.1h0M1373.8 1326h0M1374.1 1328.7h0M1374.3 1331.1h0M1374.6 1333.2h0M1374.8 1334.8h0M1375.1 1336.1h0M1375.6 1337.7h0M1376.1 1339h0M1376.6 1340.3h0M1377.1 1341.6h0M1378 1342.4h0M1379 1341.7h0M1380 1342.7h0M1381 1343.5h0M1382 1344.5h0M1383 1343.3h0M1383.5 1341.9h0M1384.2 1340.5h0M1385.2 1341.7h0M1385.7 1343.7h0M1386.2 1345.1h0M1387.2 1343.3h0M1387.7 1341.9h0M1388.7 1341.7h0M1389.7 1342.8h0M1390.7 1342.3h0M1391.7 1342.2h0M1392.6 1342h0M1393.6 1342.4h0M1394.6 1342.9h0M1395.4 1344.3h0M1396.4 1345.2h0M1397.1 1343.6h0M1398.1 1342.6h0M1399.1 1343.5h0M1400.1 1343.5h0M1401.1 1342.9h0M1402 1344h0M1403 1344.9h0M1404 1344.3h0M1405 1344.3h0M1406 1344.9h0M1407 1345.3h0M1408 1345.9h0M1409 1345h0M1410 1345.4h0M1411 1345.5h0M1411.9 1344.1h0M1412.9 1343.9h0M1413.9 1343.2h0M1414.9 1342.9h0M1415.9 1342.4h0M1416.9 1342.7h0M1417.9 1343.9h0M1418.9 1344.2h0M1419.9 1343.3h0M1420.9 1342.8h0M1421.8 1342.7h0M1422.8 1343.3h0M1423.8 1343.9h0M1424.8 1345h0M1425.8 1344.6h0M1426.8 1343.9h0M1427.8 1342.9h0M1428.8 1341.3h0M1429.8 1340h0M1430.8 1339.7h0M1431.7 1339h0M1432.7 1337.6h0M1433.7 1336.5h0M1434.7 1334.7h0M1435 1333.5h0M1435.2 1331.9h0M1435.5 1330h0M1435.7 1327.8h0M1436 1325.3h0M1436.2 1322.3h0M1436.5 1318.9h0M1436.7 1315.1h0M1436.9 1310.7h0M1437.2 1306.1h0M1437.4 1301.2h0M1437.7 1296.4h0M1437.9 1292h0M1438.2 1288.4h0M1438.4 1285.9h0M1439.4 1289.7h0M1439.7 1293.4h0M1439.9 1297.5h0M1440.2 1301.6h0M1440.4 1305.4h0M1440.7 1308.8h0M1440.9 1311.7h0M1441.2 1314.1h0M1441.4 1316h0M1441.6 1317.4h0M1442.6 1317.1h0M1442.9 1315.8h0M1443.1 1314.4h0M1443.6 1312.5h0M1444.4 1314.3h0M1444.6 1316.1h0M1444.9 1318.3h0M1445.1 1320.5h0M1445.4 1322.8h0M1445.6 1325h0M1445.9 1327.2h0M1446.1 1329.1h0M1446.4 1330.8h0M1446.6 1332.3h0M1447.1 1334.2h0M1447.6 1335.6h0M1448.1 1337h0M1448.6 1338.5h0M1449.3 1340.1h0M1450.3 1341.3h0M1451.1 1342.5h0M1451.8 1343.9h0M1452.8 1343.8h0M1453.3 1342.5h0M1453.8 1341h0M1454.8 1340.5h0M1455.5 1342.2h0M1456 1343.4h0M1457 1343.8h0M1457.5 1342.5h0M1458 1340.7h0M1458.5 1338.4h0M1458.7 1337h0M1459 1335.3h0M1459.2 1333.4h0M1459.5 1331.2h0M1459.7 1328.9h0M1460 1326.5h0M1460.2 1324.1h0M1460.5 1321.7h0M1460.7 1319.5h0M1461 1317.6h0M1461.2 1316.1h0M1461.7 1314.4h0M1462.4 1316.7h0M1462.7 1318.4h0M1462.9 1320h0M1463.2 1321.4h0M1463.7 1323.6h0M1464.2 1325.3h0M1464.7 1326.9h0M1465.2 1328.6h0M1465.9 1330h0M1466.6 1328.7h0M1467.1 1327.3h0M1468.1 1328.9h0M1468.4 1330.4h0M1468.6 1332h0M1468.9 1333.6h0M1469.1 1335.1h0M1469.4 1336.3h0M1469.9 1338h0M1470.9 1339.2h0M1471.6 1340.4h0M1472.6 1341.1h0M1473.6 1342h0M1474.6 1342.3h0M1475.6 1341.6h0M1476.5 1341h0M1477.3 1342.3h0M1478 1343.8h0M1479 1344.8h0M1480 1345.7h0M1481 1345.1h0M1482 1344.8h0M1483 1344.2h0M1484 1345.3h0M1485 1345.8h0M1486 1345.1h0M1486.7 1343.8h0M1487.7 1342.9h0M1488.7 1343.4h0M1489.7 1342.7h0M1490.7 1342.2h0M1491.6 1342.4h0M1492.6 1342.6h0M1493.6 1343.5h0M1494.6 1342.5h0M1495.6 1342h0M1496.6 1343.1h0M1497.6 1343.9h0M1498.6 1344.4h0M1499.3 1345.6h0M1500.3 1346.5h0M1501.3 1345.7h0M1502.3 1345.2h0M1503.3 1346.4h0M1504.3 1347.4h0M1505.3 1346h0M1506 1344.4h0M1507 1343.4h0M1508 1344.2h0M1509 1344.1h0M1510 1344.5h0M1510.9 1344.9h0M1511.9 1345h0M1512.9 1345.4h0M1513.9 1344.2h0M1514.9 1344h0M1515.9 1343.5h0M1516.9 1344.4h0M1517.9 1345.2h0M1518.6 1343.9h0M1519.6 1343.8h0M1520.6 1344.2h0M1521.6 1343.2h0M1522.6 1343h0M1523.3 1344.4h0M1524.3 1344.1h0M1525.3 1343.7h0M1526.3 1344h0M1527.3 1344.7h0M1528.3 1346.1h0M1529.3 1346.1h0M1530.3 1345.6h0M1531.2 1345.4h0M1532.2 1345.3h0M1533.2 1346h0M1534.2 1345.4h0M1535.2 1344.8h0M1536.2 1344.6h0M1537.2 1345.7h0M1538.2 1345.8h0M1539.2 1344.5h0M1539.9 1343.1h0M1540.9 1341.8h0M1541.9 1342.6h0M1542.4 1344h0M1543.1 1345.2h0M1544.1 1344.4h0M1545.1 1343.7h0M1546.1 1343.3h0M1547.1 1343.7h0M1548.1 1343h0M1549.1 1343.6h0M1550.1 1343.6h0M1551 1342.5h0M1551.8 1341.1h0M1552.8 1340.6h0M1553.8 1341h0M1554.8 1339.6h0M1555.7 1338.6h0M1556.7 1337.6h0M1557.7 1338.2h0M1558.7 1339.2h0M1559.7 1339.8h0M1560.7 1339.2h0M1561.7 1339.1h0M1562.7 1340.7h0M1563.4 1342h0M1564.4 1343.4h0M1565.4 1343.4h0M1566.4 1342.6h0M1567.4 1342.7h0M1568.4 1342.8h0M1569.4 1343.8h0M1570.1 1345.2h0M1571.1 1345.8h0M1572.1 1346.3h0M1573.1 1346.2h0M1574.1 1345.2h0M1575.1 1344.8h0M1575.8 1343.6h0M1576.5 1342.1h0M1577.5 1341.5h0M1578.5 1342.3h0M1579.3 1343.7h0M1579.8 1345h0M1580.7 1345.7h0M1581.5 1344.1h0M1582.5 1344.7h0M1583.5 1345.8h0M1584.5 1345.3h0M1585.4 1344.9h0M1586.4 1343.7h0M1587.4 1343.7h0M1588.4 1343.7h0M1589.4 1344.5h0M1590.4 1345.8h0M1591.4 1346.3h0M1592.4 1347.7h0M1593.4 1347.3h0M1593.9 1345.8h0M1594.4 1344.3h0M1595.1 1342.9h0M1596.1 1342.8h0M1597.1 1343.9h0M1598.1 1344.5h0M1599.1 1343.9h0M1600 1342.2h0M1600.8 1340.9h0M1601.8 1340.2h0M1602.8 1341.1h0M1603.8 1342.3h0M1604.8 1343.3h0M1605.7 1344.1h0M1606.5 1342.5h0M1607 1341.2h0M1608 1341.5h0M1608.5 1342.8h0M1609 1344.1h0M1609.9 1344.9h0M1610.9 1344.8h0M1611.7 1346.3h0M1612.7 1345.7h0M1613.2 1343.7h0M1613.7 1341.7h0M1614.7 1341.1h0M1615.1 1342.6h0M1615.6 1343.9h0M1616.6 1344.6h0M1617.6 1345.3h0M1618.6 1343.9h0M1619.1 1342.5h0M1620.1 1343.1h0M1621.1 1343.9h0M1622.1 1343.2h0M1623.1 1342.5h0M1624.1 1342.5h0M1625 1341.7h0M1625.8 1340.4h0M1626.5 1338.7h0M1627 1337.1h0M1627.5 1335.3h0M1628 1333.5h0M1629 1332.9h0M1629.5 1334.2h0M1630 1336h0M1630.5 1337.9h0M1631 1339.7h0M1631.5 1341.1h0M1632.5 1341.9h0M1633.5 1341.8h0M1634.5 1340h0M1635.4 1339.3h0M1636.2 1341.2h0M1637.2 1342.3h0M1638.2 1342.2h0M1639.2 1342.7h0M1640.1 1343.3h0M1641.1 1344.3h0M1642.1 1343.2h0M1643.1 1343.1h0M1644.1 1343.2h0M1645.1 1343.6h0M1646.1 1343.2h0M1647.1 1343.6h0M1648.1 1344.7h0M1649.1 1343.4h0M1650 1343.4h0M1651 1343.9h0M1652 1343.3h0M1653 1343h0M1654 1343.3h0M1655 1343.2h0M1656 1343h0M1657 1344h0M1658 1344.5h0M1659 1345.9h0M1659.9 1346.8h0M1660.9 1345.2h0M1661.9 1344.1h0M1662.9 1345.4h0M1663.9 1345.2h0M1664.9 1344.8h0M1665.9 1345.5h0M1666.9 1344.6h0M1667.6 1343.4h0M1668.6 1343.4h0M1669.6 1343.8h0M1670.6 1343.9h0M1671.6 1343.4h0M1672.6 1342.7h0M1673.6 1341.6h0M1674.5 1341.7h0M1675.3 1343h0M1675.8 1344.2h0M1676.8 1345h0M1677.8 1343.8h0M1678.8 1343h0M1679.7 1342.6h0M1680.7 1343.1h0M1681.7 1342.7h0M1682.7 1344.4h0M1683.7 1345.1h0M1684.7 1343.7h0M1685.7 1343.1h0M1686.7 1344h0M1687.7 1344.3h0M1688.7 1345.3h0M1689.6 1344.6h0M1690.6 1344h0M1691.6 1343.1h0M1692.6 1343h0M1693.4 1344.2h0M1694.3 1344.7h0M1695.3 1343.4h0M1696.3 1343.2h0M1697.3 1344.5h0M1698.3 1345.4h0M1699.3 1344.3h0M1700.3 1344.7h0M1701.3 1344h0M1702.3 1343.1h0M1703.3 1344.5h0M1704 1346h0M1705 1345.1h0M1705.5 1343.5h0M1706 1342.2h0M1707 1342.4h0M1707.7 1344h0M1708.7 1344.1h0M1709.7 1343.1h0M1710.7 1343.6h0M1711.7 1344.7h0M1712.7 1345.4h0M1713.7 1345.6h0M1714.4 1346.8h0M1715.4 1347.6h0M1716.4 1346.3h0M1717.4 1344.7h0M1717.9 1343.4h0M1718.8 1342.8h0M1719.8 1343.9h0M1720.8 1344.5h0M1721.8 1345.3h0M1722.8 1344.9h0M1723.8 1344.4h0M1724.8 1344.6h0M1725.8 1344.5h0M1726.5 1345.9h0M1727 1347.1h0M1728 1346.7h0M1728.5 1345.3h0M1729 1344.1h0M1730 1343.9h0M1731 1344.8h0M1732 1343.5h0M1732.7 1341.9h0M1733.7 1342.2h0M1734.4 1344h0M1735.4 1344.7h0M1735.9 1343.5h0M1736.4 1341.9h0M1737.4 1341h0M1738.4 1342.1h0M1739.4 1343h0M1740.4 1342h0M1741.4 1341.6h0M1742.4 1341.3h0M1743.1 1339.7h0M1743.6 1338.2h0M1744.1 1336.6h0M1744.6 1334.9h0M1745.1 1332.7h0M1745.3 1331.3h0M1745.6 1329.5h0M1745.8 1327.5h0M1746.1 1325.1h0M1746.3 1322.4h0M1746.6 1319.5h0M1746.8 1316.4h0M1747.1 1313.1h0M1747.3 1309.6h0M1747.6 1305.8h0M1747.8 1301.9h0M1748.1 1297.8h0M1748.3 1293.8h0M1748.5 1290h0M1748.8 1286.9h0M1749 1284.4h0M1749.3 1282.8h0M1750 1284h0M1750.3 1286.3h0M1750.5 1289.2h0M1750.8 1292.7h0M1751 1296.4h0M1751.3 1300.2h0M1751.5 1303.8h0M1751.8 1307.1h0M1752 1309.8h0M1752.3 1312h0M1752.5 1313.7h0M1753 1315.7h0M1753.5 1317h0M1754.5 1317.5h0M1755 1316.1h0M1755.5 1313.8h0M1755.7 1312.6h0M1756.2 1310.7h0M1757.2 1311.9h0M1757.7 1314.4h0M1758 1316.1h0M1758.2 1318h0M1758.4 1320.2h0M1758.7 1322.6h0M1758.9 1324.9h0M1759.2 1327.2h0M1759.4 1329.1h0M1759.7 1330.9h0M1759.9 1332.5h0M1760.2 1333.9h0M1760.4 1335.2h0M1760.9 1337.3h0M1761.4 1339.1h0M1761.9 1340.6h0M1762.7 1341.8h0M1763.6 1341.9h0M1764.6 1342.6h0M1765.6 1342.3h0M1766.6 1342.9h0M1767.6 1342.6h0M1768.6 1341.7h0M1769.6 1342.4h0M1770.6 1343.2h0M1771.6 1343.9h0M1772.6 1345.1h0M1773.5 1344.1h0M1774.5 1342.7h0M1775.5 1341.5h0M1776.5 1341.2h0M1777.3 1342.5h0M1778.2 1343.5h0M1779.2 1343h0M1780.2 1343.5h0M1781.2 1344.4h0M1782.2 1344.5h0M1783.2 1344.5h0M1784.2 1344.6h0M1785.2 1344.2h0M1786.2 1343h0M1787.2 1341.9h0M1788.1 1341.9h0M1789.1 1342.8h0M1790.1 1343.7h0M1791.1 1343.4h0M1792.1 1342.4h0M1793.1 1343.1h0M1794.1 1343.5h0M1795.1 1343.8h0M1796.1 1343.5h0M1797.1 1343.3h0M1798 1343.8h0M1799 1344.9h0M1800 1344.1h0M1801 1343.6h0M1802 1342.9h0M1803 1343.5h0M1804 1343.6h0M1805 1343.7h0M1806 1343.8h0M1807 1344.3h0M1807.9 1343.1h0M1808.9 1342.3h0M1809.9 1342.1h0M1810.9 1341.5h0M1811.9 1342h0M1812.9 1339.9h0M1813.4 1338.1h0M1814.4 1337.3h0M1815.4 1336.1h0M1815.9 1334.5h0M1816.4 1333.3h0M1817.4 1332.3h0M1817.8 1330.4h0M1818.1 1328.9h0M1818.3 1327.1h0M1818.6 1325.2h0M1818.8 1323h0M1819.1 1320.6h0M1819.3 1318h0M1819.6 1315h0M1819.8 1311.6h0M1820.1 1307.7h0M1820.3 1303.4h0M1820.6 1298.6h0M1820.8 1293.5h0M1821.1 1288h0M1821.3 1282.3h0M1821.6 1276.5h0M1821.8 1270.4h0M1822.1 1264.3h0M1822.3 1258.3h0M1822.6 1252.5h0M1822.8 1247.5h0M1823 1243.7h0M1823.3 1241.5h0M1824 1245.6h0M1824.3 1249.8h0M1824.5 1254.9h0M1824.8 1260.6h0M1825 1266.7h0M1825.3 1272.8h0M1825.5 1278.8h0M1825.8 1284.4h0M1826 1289.5h0M1826.3 1293.9h0M1826.5 1297.7h0M1826.8 1300.9h0M1827 1303.3h0M1827.3 1305h0M1827.7 1306.2h0M1828.5 1303.8h0M1828.7 1302.2h0M1829 1300.3h0M1829.2 1298.2h0M1829.5 1296.1h0M1829.7 1294.1h0M1830 1292.2h0M1830.2 1290.6h0M1830.5 1289.2h0M1831 1288h0M1831.7 1290.6h0M1832 1292.8h0M1832.2 1295.4h0M1832.5 1298.4h0M1832.7 1301.6h0M1832.9 1304.9h0M1833.2 1308.2h0M1833.4 1311.6h0M1833.7 1314.9h0M1833.9 1318.2h0M1834.2 1321.3h0M1834.4 1324h0M1834.7 1326.2h0M1834.9 1328.1h0M1835.2 1329.7h0M1835.4 1331.1h0M1835.7 1332.4h0M1836.2 1334.6h0M1836.7 1336.3h0M1837.6 1337.4h0M1838.6 1338.2h0M1839.4 1340h0M1840.4 1339.9h0M1840.9 1338.5h0M1841.9 1338.4h0M1842.4 1339.6h0M1842.8 1341h0M1843.6 1342.6h0M1844.6 1342.9h0M1845.6 1343.4h0M1846.6 1344.6h0M1847.5 1344.4h0M1848.5 1343.7h0M1849.5 1343.6h0M1850.5 1344.8h0M1851.5 1345h0M1852.5 1343.6h0M1853.5 1343.3h0M1854.5 1343.4h0M1855.5 1342.8h0M1856.5 1342.9h0M1857.4 1343.1h0M1858.4 1343.4h0M1859.4 1343.4h0M1860.4 1343.1h0M1861.4 1343.8h0M1862.4 1344.2h0M1863.4 1345.5h0M1864.4 1345.9h0M1865.1 1344.4h0M1865.6 1343.2h0M1866.6 1342.8h0M1867.6 1343.4h0M1868.6 1343.7h0M1869.6 1344.1h0M1870.6 1344.8h0M1871.6 1344.4h0M1872.5 1344.5h0M1873.5 1344.5h0M1874.5 1343.9h0M1875.5 1344.3h0M1876.5 1344h0M1877.5 1343.2h0M1878.5 1343.7h0M1879.5 1344.8h0M1880.5 1344.8h0M1881.5 1343.7h0M1882.4 1343.9h0M1883.4 1344.4h0M1884.4 1345.2h0M1885.4 1344.4h0M1886.4 1343.7h0M1887.4 1344h0M1888.4 1343.9h0M1889.4 1342.9h0M1890.4 1344.3h0M1890.9 1345.5h0M1891.9 1346.5h0M1892.8 1345.5h0M1893.8 1345.2h0M1894.8 1345.2h0M1895.6 1343.9h0M1896.3 1342.4h0M1897.3 1342.2h0M1898 1343.9h0M1899 1345.2h0M1900 1345.2h0M1901 1345.3h0M1902 1344.9h0M1903 1344.4h0M1904 1344.9h0M1905 1344.8h0M1906 1344.2h0M1906.9 1342.6h0M1907.9 1343.4h0M1908.4 1344.8h0M1909.4 1345.4h0M1910.2 1344.2h0M1911.2 1343.1h0M1912.1 1343h0M1913.1 1343.5h0M1914.1 1344.2h0M1915.1 1343.5h0M1916.1 1345h0M1916.6 1346.2h0M1917.6 1346.7h0M1918.6 1346.5h0M1919.6 1345.7h0M1920.3 1343.9h0M1921.1 1342.5h0M1922 1343.1h0M1923 1343.6h0M1924 1343.1h0M1925 1343.8h0M1926 1342.5h0M1927 1343.7h0M1927.5 1345.2h0M1928.5 1345.4h0M1929.2 1344.1h0M1930.2 1343.2h0M1931.2 1343.5h0M1932.2 1343.7h0M1933.2 1344.8h0M1934.2 1345.5h0M1935.2 1346.3h0M1936.2 1346.1h0M1936.6 1344.6h0M1937.1 1342.6h0M1937.6 1341.2h0M1938.6 1341.7h0M1939.4 1343h0M1940.4 1343.6h0M1941.4 1342.8h0M1942.3 1342.3h0M1943.3 1341.5h0M1944.3 1340.9h0M1945.3 1340.7h0M1946.3 1339.4h0M1947 1337.7h0M1947.5 1335.5h0M1947.8 1334.1h0M1948 1332.6h0M1948.3 1331.2h0M1948.5 1329.8h0M1948.8 1328.3h0M1949 1326.9h0M1949.3 1325.4h0M1949.5 1324h0M1949.8 1322.6h0M1950 1321.3h0M1950.5 1319.3h0M1951.5 1319.4h0M1952 1322.1h0M1952.2 1323.8h0M1952.5 1325.6h0M1952.7 1327.5h0M1953 1329.1h0M1953.2 1330.6h0M1953.7 1332.6h0M1954.5 1334.3h0M1955.2 1336.1h0M1956 1337.4h0M1956.9 1335.5h0M1957.4 1334.3h0M1958.4 1333.4h0M1959.4 1332.3h0M1960.4 1333.1h0M1960.9 1334.5h0M1961.4 1336h0M1961.9 1337.3h0M1962.4 1338.6h0M1963.1 1340h0M1964.1 1341.2h0M1964.6 1342.5h0M1965.1 1343.9h0M1965.9 1345.2h0M1966.8 1345.4h0M1967.8 1344.6h0M1968.8 1344.1h0M1969.8 1343.4h0M1970.8 1343.9h0M1971.8 1344.1h0M1972.8 1344h0M1973.8 1345.5h0M1974.8 1345.4h0M1975.8 1344.6h0M1976.7 1344.4h0M1977.7 1345.2h0M1978.7 1345.7h0M1979.7 1345.7h0M1980.7 1346.2h0M1981.7 1345.5h0M1982.4 1343.9h0M1983.4 1342.7h0M1984.4 1343h0M1985.4 1344.7h0M1986.1 1346.1h0M1987.1 1345.1h0M1987.9 1343.8h0M1988.9 1343.5h0M1989.9 1343.9h0M1990.9 1344.5h0M1991.8 1344.5h0M1992.8 1344.4h0M1993.6 1345.7h0M1994.6 1345.1h0M1995.3 1343.8h0M1996.3 1343.5h0M1997.3 1342.6h0M1998.3 1343.6h0M1998.8 1344.8h0M1999.5 1346.2h0M2000.5 1346.4h0M2001.5 1345.4h0M2002.5 1345.2h0M2003.5 1345.5h0M2004.5 1345.2h0M2005.5 1345.2h0M2006.4 1345.8h0M2007.4 1346h0M2008.4 1346.1h0M2009.4 1345.4h0M2010.4 1344.2h0M2011.4 1343.7h0M2012.4 1343.6h0M2013.4 1345.1h0M2014.4 1346.3h0M2015.4 1345.4h0M2016.3 1345.2h0M2017.3 1345.4h0M2018.3 1345.3h0M2019.1 1343.4h0M2019.6 1342.1h0M2020.6 1342.4h0M2021.3 1343.9h0M2022.3 1344.2h0M2023.3 1343.1h0M2024.3 1343h0M2025.3 1343.6h0M2026.2 1344.2h0M2027.2 1343.3h0M2028.2 1342.1h0M2029.2 1342.4h0M2030.2 1342.7h0M2031.2 1343.1h0M2032.2 1343.1h0M2033.2 1342.2h0M2034.2 1341.7h0M2035.2 1342.5h0M2036.1 1342.2h0M2037.1 1342.5h0M2038.1 1342.3h0M2039.1 1341.5h0M2040.1 1342.4h0M2041.1 1341.8h0M2042.1 1341.8h0M2043.1 1342.8h0M2044.1 1344.2h0M2045.1 1344.5h0M2046 1344.2h0M2047 1345h0M2048 1344.2h0M2049 1343.6h0M2050 1344.3h0M2051 1344.9h0M2052 1344.3h0M2053 1343.5h0M2054 1343.9h0M2055 1344h0M2055.9 1343.9h0M2056.9 1343.9h0M2057.9 1344.5h0M2058.9 1345.1h0M2059.9 1345.4h0M2060.9 1345.2h0M2061.9 1344.6h0M2062.6 1343.3h0M2063.6 1342.9h0M2064.6 1343.5h0M2065.3 1344.9h0M2066.3 1346.1h0M2067.3 1345.6h0M2068.3 1344.7h0M2069.3 1344.7h0M2070.3 1344.8h0M2071.3 1343.9h0M2072.3 1343.4h0M2073.3 1343.6h0M2074.3 1344.2h0M2075.2 1344.7h0M2076.2 1343.9h0M2077.2 1343.2h0M2078.2 1343.8h0M2079.2 1343.6h0M2080 1342.4h0M2080.9 1341.5h0M2081.7 1342.7h0M2082.2 1343.9h0M2083.2 1344.4h0M2084.2 1343.8h0M2085.1 1343.9h0M2086.1 1344.3h0M2087.1 1343.5h0M2087.9 1342.2h0M2088.9 1344h0M2089.4 1345.2h0M2090.3 1345.8h0M2091.3 1345.1h0M2092.3 1345.2h0M2093.3 1345.3h0M2094.3 1344.9h0M2095.3 1344.6h0M2096.3 1344h0M2097.3 1344.5h0M2098.3 1343.6h0M2099.3 1343.2h0M2100 1344.7h0M2100.7 1346.2h0M2101.7 1346.7h0M2102.7 1345.3h0M2103.7 1344.5h0M2104.7 1344h0M2105.7 1343.6h0M2106.7 1343.8h0M2107.7 1344h0M2108.7 1342.4h0M2109.7 1342.9h0M2110.1 1344.5h0M2110.6 1345.8h0M2111.6 1346.6h0M2112.6 1345.6h0M2113.4 1344.4h0M2114.4 1343.4h0M2115.3 1344.6h0M2116.1 1345.9h0M2117.1 1344.7h0M2118.1 1343.9h0M2119.1 1344.1h0M2120 1343.1h0M2121 1343.7h0M2122 1342.3h0M2123 1342.1h0M2124 1343.3h0M2125 1343.6h0M2126 1344.3h0M2127 1344.8h0M2128 1344.3h0M2129 1344.3h0M2129.9 1344.2h0M2130.9 1343.2h0M2131.9 1343h0M2132.9 1343.7h0M2133.9 1344.4h0M2134.9 1344.3h0M2135.9 1344.9h0M2136.9 1345.8h0M2137.9 1345.7h0M2138.6 1344.2h0M2139.6 1342.9h0M2140.6 1342h0M2141.6 1342.4h0M2142.6 1343.7h0M2143.6 1344.8h0M2144.5 1345.1h0M2145.5 1345.2h0M2146.5 1344.1h0M2147.3 1342.4h0M2148.3 1341.3h0M2149.3 1341.6h0M2150.2 1342.2h0M2151.2 1341.9h0M2152.2 1342.2h0M2153.2 1343.5h0M2154.2 1342.9h0M2155.2 1342.5h0M2156.2 1342.3h0M2157.2 1341.3h0M2158.2 1341.3h0M2159.2 1341.7h0M2160.1 1342.4h0M2161.1 1343.3h0M2162.1 1343.1h0M2163.1 1343.5h0M2164.1 1343.8h0M2165.1 1343.6h0M2166.1 1342.8h0M2167.1 1342.2h0M2168.1 1341.4h0M2168.8 1340h0M2169.3 1338.7h0M2170.3 1338h0M2171.3 1338.6h0M2172 1336.5h0M2172.3 1335.1h0M2172.5 1333.4h0M2172.8 1331.6h0M2173 1329.7h0M2173.3 1328h0M2173.5 1326.2h0M2173.8 1324.6h0M2174 1323.1h0M2174.2 1321.6h0M2174.5 1320.2h0M2174.7 1318.8h0M2175 1317.4h0M2175.2 1315.8h0M2175.5 1314.1h0M2175.7 1312.5h0M2176 1310.9h0M2176.2 1309.7h0M2177.2 1309.6h0M2177.7 1312.4h0M2178 1314.1h0M2178.2 1316h0M2178.5 1317.9h0M2178.7 1319.6h0M2179 1321.1h0M2179.2 1322.4h0M2179.7 1324.3h0M2180.2 1326h0M2180.7 1328.1h0M2181.2 1330.4h0M2181.7 1332.4h0M2182.2 1333.6h0M2182.9 1334.8h0M2183.9 1335.4h0M2184.9 1334.1h0M2185.6 1332.2h0M2186.1 1330.3h0M2186.6 1328.1h0M2187.1 1326h0M2187.6 1324.6h0M2188.6 1323.7h0M2189.6 1325.5h0M2190.1 1327h0M2190.6 1328.6h0M2191.1 1330.5h0M2191.6 1332.4h0M2192.1 1334.1h0M2192.6 1335.8h0M2193.1 1337.6h0M2193.6 1339.3h0M2194 1340.6h0M2195 1341.7h0M2196 1341.9h0M2197 1342.9h0M2198 1343.2h0M2199 1342.1h0M2200 1341.8h0M2201 1341.9h0M2202 1342.8h0M2203 1344.2h0M2203.9 1344.8h0M2204.7 1343.5h0M2205.7 1342.9h0M2206.7 1343.7h0M2207.7 1343.1h0M2208.7 1343h0M2209.6 1344h0M2210.6 1343.7h0M2211.6 1342.9h0M2212.6 1343.7h0M2213.6 1343h0M2214.6 1342.3h0M2215.6 1342.4h0M2216.3 1343.9h0M2217.3 1344.2h0M2218.1 1342.5h0M2218.8 1341h0M2219.8 1341.6h0M2220.5 1343.1h0M2221.5 1344.1h0M2222.5 1343h0M2223.5 1342.8h0M2224.5 1343.9h0M2225.5 1343.3h0M2226.5 1342.8h0M2227.5 1343.7h0M2228.5 1344.3h0M2229.2 1343h0M2229.9 1341.5h0M2230.9 1342.1h0M2231.4 1343.3h0M2231.9 1344.5h0M2232.9 1345.3h0M2233.9 1344h0M2234.9 1344h0M2235.9 1343.1h0M2236.9 1343.7h0M2237.9 1345h0M2238.8 1345.9h0M2239.8 1345.9h0M2240.8 1345.3h0M2241.8 1344.7h0M2242.8 1344h0M2243.8 1343.4h0M2244.8 1343.1h0M2245.8 1344.1h0M2246.8 1344.1h0M2247.8 1343.1h0M2248.7 1343.2h0M2249.7 1341.5h0M2250.5 1340.2h0M2251.5 1340.6h0M2252.2 1342h0M2253.2 1343.3h0M2254.2 1343.2h0M2254.9 1341.9h0M2255.7 1340.6h0M2256.7 1340.1h0M2257.7 1340.6h0M2258.6 1339.2h0M2259.4 1337.9h0M2260.4 1338.6h0M2261.4 1338.8h0M2262.4 1337.1h0M2263.3 1335.8h0M2264.1 1334.5h0M2264.6 1332.9h0M2265.1 1330.5h0M2265.3 1329h0M2265.6 1327.5h0M2265.8 1325.8h0M2266.1 1324h0M2266.3 1322.2h0M2266.6 1320.3h0M2266.8 1318.2h0M2267.1 1316.1h0M2267.3 1313.9h0M2267.6 1311.7h0M2267.8 1309.5h0M2268.1 1307.3h0M2268.3 1305.1h0M2268.5 1302.8h0M2268.8 1300.5h0M2269 1298h0M2269.3 1295.5h0M2269.5 1292.8h0M2269.8 1290h0M2270 1287.4h0M2270.3 1285h0M2270.5 1283.2h0M2271 1281.9h0M2271.5 1284.1h0M2271.8 1286.1h0M2272 1288.4h0M2272.3 1290.8h0M2272.5 1293.1h0M2272.8 1295.4h0M2273 1297.5h0M2273.2 1299.7h0M2273.5 1301.9h0M2273.7 1304.1h0M2274 1306.4h0M2274.2 1308.7h0M2274.5 1311h0M2274.7 1313.1h0M2275 1314.9h0M2275.2 1316.4h0M2275.5 1317.7h0M2276 1319.8h0M2276.5 1321.9h0M2277 1323.9h0M2277.5 1325.4h0M2278.4 1327h0M2279.4 1328h0M2279.9 1326.8h0M2280.4 1324.5h0M2280.7 1323.1h0M2280.9 1321.7h0M2281.2 1320.1h0M2281.4 1318.6h0M2281.7 1317.1h0M2281.9 1315.6h0M2282.2 1314.2h0M2282.4 1313h0M2282.9 1311.1h0M2283.9 1310.8h0M2284.4 1312.4h0M2284.9 1314.3h0M2285.4 1316.2h0M2285.9 1318.1h0M2286.4 1320.1h0M2286.6 1321.4h0M2286.9 1322.8h0M2287.1 1324.4h0M2287.4 1326.1h0M2287.6 1327.9h0M2287.9 1329.6h0M2288.1 1331.1h0M2288.3 1332.4h0M2288.8 1334.2h0M2289.8 1335.8h0M2290.6 1337.6h0M2291.1 1338.9h0M2292.1 1339.5h0M2293 1338.5h0M2294 1336.8h0M2295 1335.7h0M2296 1335.2h0M2297 1334.4h0M2297.8 1332.5h0M2298.2 1330.8h0M2298.7 1329.1h0M2299.2 1327.8h0M2300.2 1326.4h0M2301.2 1326.3h0M2302 1328h0M2302.5 1329.9h0M2302.9 1332.2h0M2303.4 1334.1h0M2304.4 1334.8h0M2305.4 1334h0M2306.4 1333.8h0M2307.4 1335.2h0M2307.9 1336.5h0M2308.4 1337.9h0M2308.9 1339.1h0M2309.9 1339.8h0M2310.9 1339.1h0M2311.9 1337.5h0M2312.6 1336.1h0M2313.6 1336.3h0M2314.6 1336.5h0M2315.3 1335.1h0M2316.3 1335.2h0M2316.8 1336.7h0M2317.3 1338.5h0M2317.8 1340.2h0M2318.8 1341h0M2319.8 1339.6h0M2320.8 1340.3h0M2321.8 1341.4h0M2322.7 1342.8h0M2323.5 1344.2h0M2324.2 1345.6h0M2325.2 1345.5h0M2326 1344h0M2326.7 1342.3h0M2327.7 1340.9h0M2328.7 1341.9h0M2329.4 1343.4h0M2330.4 1344.2h0M2331.4 1344.3h0M2332.4 1344.8h0M2333.4 1345.5h0M2334.4 1346.2h0M2335.4 1346.4h0M2336.1 1345.1h0M2337.1 1344.4h0M2338.1 1345h0M2339.1 1346.1h0M2340.1 1345.7h0M2340.8 1344.1h0M2341.6 1342.7h0M2342.5 1342.5h0M2343.5 1342.8h0M2344.3 1344.2h0M2345.3 1344h0M2346 1342.8h0M2347 1344.2h0M2347.7 1345.5h0M2348.7 1345.7h0M2349.5 1344.2h0M2350 1342.8h0M2351 1342.3h0M2352 1342.4h0M2352.9 1343.3h0M2353.7 1344.8h0M2354.7 1345.8h0M2355.7 1344.6h0M2356.4 1343.1h0M2357.4 1342h0M2358.1 1343.7h0M2358.6 1345.2h0M2359.6 1346.5h0M2360.6 1346.5h0M2361.6 1346.9h0M2362.6 1346.5h0M2363.1 1345.1h0M2363.8 1343.6h0M2364.8 1343.6h0M2365.8 1343.2h0M2366.8 1344.8h0M2367.8 1344.8h0M2368.8 1343.5h0M2369.8 1343.4h0M2370.8 1344.3h0M2371.8 1344.8h0M2372.7 1343.8h0M2373.7 1343.7h0M2374.7 1345.3h0M2375.7 1346.6h0M2376.7 1346.5h0M2377.7 1345.3h0M2378.7 1345.4h0M2379.4 1346.8h0M2380.4 1345.6h0M2380.9 1344.2h0M2381.9 1343.5h0M2382.9 1344.5h0M2383.9 1344.7h0" stroke="#000" stroke-width="16.8"/>
<path d="M184.1 1344.2L188.3 1344.1L192.5 1344L196.7 1343.7L200.4 1343L202.2 1342.4L203.2 1341.7L203.9 1341L204.4 1340.3L204.9 1339.4L205.4 1338.2L205.6 1337.4L205.9 1336.5L206.1 1335.3L206.4 1333.8L206.6 1331.7L206.9 1328.9L207.1 1325.1L207.4 1319.7L207.6 1312.3L207.9 1302.5L208.1 1290L208.4 1274.9L208.6 1258L208.9 1241.4L209.1 1228.5L209.3 1222.4L209.6 1223.4L209.8 1229.5L210.1 1238.9L210.3 1251.1L210.6 1265.3L210.8 1279.9L211.1 1293.3L211.3 1304.5L211.6 1313.5L211.8 1320.3L212.1 1325.4L212.3 1329.2L212.6 1331.9L212.8 1333.9L213.1 1335.5L213.3 1336.6L213.6 1337.6L213.8 1338.3L214 1339L214.5 1340L215 1340.7L215.8 1341.5L216.8 1342.3L218.3 1342.9L221 1343.5L225.2 1343.9L229.4 1344.1L233.6 1344.2L237.8 1344.2L242 1344.3L246.2 1344.3L250.4 1344.3L254.6 1344.3L258.8 1344.3L263.1 1344.3L267.3 1344.3L271.5 1344.3L275.7 1344.3L279.9 1344.3L284.1 1344.3L288.3 1344.3L292.5 1344.3L296.7 1344.3L300.9 1344.3L305.1 1344.3L309.3 1344.3L313.5 1344.3L317.8 1344.3L322 1344.3L326.2 1344.3L330.4 1344.3L334.6 1344.3L338.8 1344.3L343 1344.3L347.2 1344.3L351.4 1344.3L355.6 1344.3L359.8 1344.3L364 1344.3L368.2 1344.3L372.4 1344.3L376.7 1344.3L380.9 1344.3L385.1 1344.2L389.3 1344.2L393.5 1344.2L397.7 1344.2L401.9 1344.2L406.1 1344.1L410.3 1344.1L414.5 1344L418.7 1344L422.9 1343.9L427.1 1343.8L431.4 1343.6L435.6 1343.4L439.8 1343L443.7 1342.3L446.2 1341.7L447.9 1341L449.2 1340.3L450.2 1339.6L450.9 1339L451.6 1338.2L452.1 1337.6L452.6 1336.9L453.1 1336L453.6 1335L454.1 1333.9L454.4 1333.2L454.6 1332.5L454.9 1331.7L455.1 1330.8L455.4 1329.8L455.6 1328.6L455.9 1327.4L456.1 1326L456.4 1324.4L456.6 1322.6L456.8 1320.6L457.1 1318.2L457.3 1315.5L457.6 1312.3L457.8 1308.6L458.1 1304.1L458.3 1298.6L458.6 1291.8L458.8 1283L459.1 1271.3L459.3 1255.2L459.6 1232.7L459.8 1201.6L460.1 1159.1L460.3 1103L460.6 1032.3L460.8 948.2L461.1 856.3L461.3 769.8L461.5 708.5L461.8 689.3L462 710.8L462.3 754L462.5 799L462.8 835.2L463 863.6L463.3 893.1L463.5 933.5L463.8 986.7L464 1045.8L464.3 1102.6L464.5 1152.2L464.8 1193L465 1225.1L465.3 1249.6L465.5 1267.7L465.8 1281.1L466 1291.1L466.3 1298.5L466.5 1304.3L466.7 1309L467 1312.8L467.2 1315.9L467.5 1318.6L467.7 1321L468 1323L468.2 1324.8L468.5 1326.3L468.7 1327.7L469 1328.9L469.2 1330L469.5 1331L469.7 1331.9L470 1332.7L470.2 1333.4L470.5 1334L471 1335.2L471.4 1336.1L471.9 1337L472.4 1337.7L472.9 1338.3L473.7 1339L474.4 1339.6L475.4 1340.3L476.6 1341L478.4 1341.6L480.9 1342.3L484.8 1342.9L489 1343.3L493.2 1343.5L497.4 1343.6L501.6 1343.7L505.9 1343.8L510.1 1343.8L514.3 1343.8L518.5 1343.8L522.7 1343.8L526.9 1343.8L531.1 1343.7L535.3 1343.6L539.5 1343.5L543.7 1343.3L547.9 1343L552.1 1342.5L555.8 1341.8L558.3 1341.2L560.1 1340.5L561.5 1339.8L562.5 1339.2L563.5 1338.5L564.3 1337.8L565 1337.1L565.5 1336.5L566 1335.8L566.5 1335L567 1334.1L567.5 1333.1L568 1331.9L568.2 1331.2L568.5 1330.5L568.7 1329.7L569 1328.9L569.2 1328L569.5 1327L569.7 1325.9L570 1324.6L570.2 1323.3L570.4 1321.8L570.7 1320.2L570.9 1318.3L571.2 1316.3L571.4 1313.9L571.7 1311.3L571.9 1308.4L572.2 1305L572.4 1301.1L572.7 1296.6L572.9 1291.3L573.2 1285.1L573.4 1277.7L573.7 1268.6L573.9 1257.3L574.2 1242.5L574.4 1222.8L574.7 1195.5L574.9 1157.6L575.2 1104.8L575.4 1033.1L575.6 938.8L575.9 820.6L576.1 681.3L576.4 531.8L576.6 395.5L576.9 306.6L577.1 292.2L577.4 346.6L577.6 435.8L577.9 524.2L578.1 590.7L578.4 629.9L578.6 649L578.9 666.4L579.1 702.8L579.4 767.1L579.6 850.5L579.9 938L580.1 1018.5L580.3 1086.8L580.6 1141.6L580.8 1183.9L581.1 1215.5L581.3 1238.8L581.6 1256L581.8 1268.8L582.1 1278.6L582.3 1286.3L582.6 1292.6L582.8 1297.8L583.1 1302.3L583.3 1306.1L583.6 1309.4L583.8 1312.2L584.1 1314.8L584.3 1317L584.6 1319L584.8 1320.8L585.1 1322.4L585.3 1323.8L585.5 1325.1L585.8 1326.2L586 1327.3L586.3 1328.3L586.5 1329.2L586.8 1330L587 1330.7L587.3 1331.4L587.5 1332L588 1333.2L588.5 1334.1L589 1335L589.5 1335.7L590 1336.4L590.7 1337.2L591.5 1337.9L592.5 1338.6L593.7 1339.3L595.2 1340L597.4 1340.6L601.6 1340.8L604.1 1340.1L605.1 1339.5L605.8 1338.8L606.3 1338.2L606.8 1337.4L607.3 1336.3L607.6 1335.7L607.8 1335L608.1 1334.1L608.3 1333.1L608.6 1331.9L608.8 1330.4L609.1 1328.4L609.3 1325.9L609.6 1322.6L609.8 1318L610 1311.9L610.3 1303.5L610.5 1292.6L610.8 1278.6L611 1261.6L611.3 1241.9L611.5 1221L611.8 1201.7L612 1188L612.3 1183.4L612.5 1188.3L612.8 1199.3L613 1211.7L613.3 1222.4L613.5 1229.9L613.8 1234.3L614 1237.2L614.3 1241.1L614.5 1248L614.8 1258.3L615 1270.4L615.2 1282.8L615.5 1294.1L615.7 1303.7L616 1311.6L616.2 1317.9L616.5 1322.7L616.7 1326.4L617 1329.1L617.2 1331.2L617.5 1332.8L617.7 1334.1L618 1335.1L618.2 1336L618.5 1336.7L618.7 1337.3L619.2 1338.3L619.7 1339.1L620.2 1339.8L620.9 1340.5L621.9 1341.2L623.2 1341.9L625.1 1342.5L628.6 1343.1L632.8 1343.5L637 1343.7L641.2 1343.8L645.4 1343.9L649.6 1344L653.9 1344.1L658.1 1344.1L662.3 1344.1L666.5 1344.2L670.7 1344.2L674.9 1344.2L679.1 1344.2L683.3 1344.2L687.5 1344.2L691.7 1344.2L695.9 1344.3L700.1 1344.3L704.3 1344.3L708.6 1344.3L712.8 1344.3L717 1344.3L721.2 1344.3L725.4 1344.3L729.6 1344.2L733.8 1344.1L738 1343.5L739.2 1342.9L740.2 1342.1L741.2 1341.4L744.2 1342.2L745.2 1342.8L746.4 1343.4L749.1 1344L753.4 1344.2L757.6 1344.3L761.8 1344.3L766 1344.3L770.2 1344.3L774.4 1344.3L778.6 1344.3L782.8 1344.3L787 1344.3L791.2 1344.3L795.4 1344.3L799.6 1344.3L803.8 1344.3L808 1344.2L812.3 1344.2L816.5 1344.1L820.7 1343.9L824.6 1343.2L826.1 1342.5L826.9 1341.9L827.4 1341.1L827.8 1339.9L828.1 1339L828.3 1337.9L828.6 1336.4L828.8 1334.7L829.1 1332.6L829.3 1330.2L829.6 1327.5L829.8 1324.6L830.1 1321.8L830.3 1319.4L830.6 1317.8L831.3 1319.4L831.6 1321.2L831.8 1323.1L832.1 1324.6L832.3 1325.8L832.6 1326.5L833.3 1327.3L833.8 1328.7L834 1330L834.3 1331.5L834.5 1333.2L834.8 1334.8L835 1336.3L835.3 1337.6L835.5 1338.7L835.8 1339.6L836 1340.4L836.3 1341L836.8 1341.8L837.5 1342.6L838.7 1343.2L842 1343.8L846.2 1344.1L850.4 1344.2L854.6 1344.2L858.8 1344.3L863 1344.3L867.2 1344.3L871.4 1344.3L875.6 1344.3L879.8 1344.3L884 1344.3L888.2 1344.3L892.4 1344.3L896.7 1344.3L900.9 1344.3L905.1 1344.3L909.3 1344.3L913.5 1344.2L917.7 1344.2L921.9 1344.2L926.1 1344.2L930.3 1344.1L934.5 1344.1L938.7 1344L942.9 1343.9L947.1 1343.7L951.4 1343.5L955.6 1342.9L958 1342.2L959.5 1341.6L960.8 1340.9L961.5 1340.3L962.2 1339.5L962.7 1338.8L963.2 1338L963.7 1337L964.2 1335.8L964.5 1335L964.7 1334.1L965 1333.1L965.2 1332L965.5 1330.6L965.7 1328.9L966 1326.8L966.2 1324.2L966.4 1320.8L966.7 1316.4L966.9 1310.6L967.2 1303.1L967.4 1293.5L967.7 1281.4L967.9 1266.6L968.2 1249.1L968.4 1229.5L968.7 1208.6L968.9 1188.6L969.2 1172.3L969.4 1163.3L969.9 1172.5L970.2 1187.1L970.4 1203.8L970.7 1219.8L970.9 1233L971.2 1242.6L971.4 1248.2L971.6 1250.1L971.9 1248.7L972.1 1245.3L972.4 1241.6L972.6 1239.5L972.9 1240.8L973.1 1246.4L973.4 1255.4L973.6 1266.4L973.9 1277.7L974.1 1288.4L974.4 1298L974.6 1306.1L974.9 1312.8L975.1 1318.3L975.4 1322.5L975.6 1325.9L975.9 1328.5L976.1 1330.5L976.3 1332.1L976.6 1333.4L976.8 1334.4L977.1 1335.3L977.3 1336.1L977.6 1336.7L978.1 1337.8L978.6 1338.7L979.1 1339.4L979.8 1340.2L980.6 1340.8L981.5 1341.5L983 1342.1L985.3 1342.7L989.5 1343.3L993.7 1343.6L997.9 1343.8L1002.1 1343.8L1006.3 1343.9L1010.5 1343.9L1014.7 1343.8L1018.9 1343.7L1023.1 1343.6L1027.3 1343.3L1031.5 1342.7L1034.3 1342.1L1036 1341.5L1037.2 1340.9L1038.2 1340.2L1039 1339.6L1039.7 1338.8L1040.2 1338.1L1040.7 1337.3L1041.2 1336.4L1041.7 1335.2L1041.9 1334.5L1042.2 1333.8L1042.4 1332.9L1042.7 1331.9L1042.9 1330.9L1043.2 1329.6L1043.4 1328.2L1043.7 1326.5L1043.9 1324.5L1044.2 1322.1L1044.4 1319.1L1044.7 1315.3L1044.9 1310.4L1045.2 1304L1045.4 1295.7L1045.6 1284.8L1045.9 1270.9L1046.1 1253.4L1046.4 1232L1046.6 1206.6L1046.9 1178.1L1047.1 1147.7L1047.4 1118.4L1047.6 1094.7L1047.9 1081.3L1048.4 1095L1048.6 1117.2L1048.9 1143L1049.1 1168L1049.4 1189.4L1049.6 1205.9L1049.9 1216.6L1050.1 1221.6L1050.6 1216.7L1050.8 1209.4L1051.1 1201.6L1051.3 1196.2L1051.8 1202L1052.1 1213.8L1052.3 1229L1052.6 1245.3L1052.8 1261L1053.1 1275.2L1053.3 1287.3L1053.6 1297.5L1053.8 1305.6L1054.1 1312.1L1054.3 1317.2L1054.6 1321.1L1054.8 1324.1L1055.1 1326.5L1055.3 1328.5L1055.5 1330L1055.8 1331.3L1056 1332.5L1056.3 1333.4L1056.5 1334.3L1056.8 1335L1057 1335.7L1057.5 1336.8L1058 1337.7L1058.5 1338.4L1059 1339.1L1059.8 1339.8L1060.5 1340.4L1061.5 1341.1L1063 1341.8L1065 1342.4L1068.2 1343L1072.4 1343.4L1076.6 1343.7L1080.8 1343.9L1085 1344L1089.2 1344L1093.4 1344.1L1097.6 1344.1L1101.8 1344.1L1106 1344.2L1110.2 1344.2L1114.5 1344.2L1118.7 1344.2L1122.9 1344.2L1127.1 1344.2L1131.3 1344.1L1135.5 1344.1L1139.7 1344.1L1143.9 1344L1148.1 1343.9L1152.3 1343.8L1156.5 1343.5L1160.7 1343L1163.2 1342.3L1164.9 1341.6L1165.9 1341L1166.9 1340.2L1167.7 1339.3L1168.2 1338.6L1168.7 1337.7L1169.2 1336.6L1169.4 1335.9L1169.6 1335.1L1169.9 1334.2L1170.1 1333.2L1170.4 1331.9L1170.6 1330.4L1170.9 1328.4L1171.1 1326L1171.4 1322.9L1171.6 1318.9L1171.9 1313.7L1172.1 1307.1L1172.4 1298.9L1172.6 1288.8L1172.9 1276.7L1173.1 1262.8L1173.4 1247.3L1173.6 1231.1L1173.9 1215.7L1174.1 1203.2L1174.3 1195.8L1174.8 1201.6L1175.1 1212.9L1175.3 1226.7L1175.6 1240.9L1175.8 1253.9L1176.1 1264.8L1176.3 1273.1L1176.6 1278.5L1176.8 1281.2L1177.3 1279.1L1177.6 1275.2L1177.8 1270.3L1178.1 1265.5L1178.3 1262.1L1178.6 1261.3L1178.8 1263.9L1179.1 1269.4L1179.3 1277.1L1179.5 1285.6L1179.8 1294L1180 1301.9L1180.3 1308.9L1180.5 1314.8L1180.8 1319.8L1181 1323.8L1181.3 1327L1181.5 1329.6L1181.8 1331.6L1182 1333.1L1182.3 1334.4L1182.5 1335.4L1182.8 1336.3L1183 1337L1183.3 1337.6L1183.8 1338.6L1184.2 1339.3L1184.7 1339.9L1185.5 1340.7L1186.5 1341.4L1187.7 1342L1189.7 1342.7L1193.2 1343.3L1197.4 1343.7L1201.6 1343.9L1205.8 1344L1210 1344.1L1214.2 1344.1L1218.4 1344.1L1222.6 1344.1L1226.8 1344.1L1231 1344.1L1235.2 1344L1239.4 1343.7L1241.9 1343.1L1242.9 1342.4L1243.6 1341.4L1244.1 1340.4L1244.4 1339.7L1244.6 1338.9L1244.9 1338L1245.1 1336.9L1245.4 1335.8L1245.6 1334.6L1245.9 1333.4L1246.1 1332.3L1246.4 1331.3L1246.6 1330.6L1247.6 1331.6L1247.9 1332.5L1248.1 1333.5L1248.4 1334.4L1248.6 1335.3L1248.8 1335.9L1249.3 1336.8L1252.1 1337.5L1252.3 1338.2L1252.6 1338.8L1252.8 1339.5L1253.1 1340.1L1253.5 1341.1L1254 1341.9L1254.8 1342.7L1256 1343.4L1260.2 1344L1264.4 1344.1L1268.6 1344.2L1272.9 1344.2L1277.1 1344.3L1281.3 1344.3L1285.5 1344.3L1289.7 1344.3L1293.9 1344.3L1298.1 1344.3L1302.3 1344.3L1306.5 1344.3L1310.7 1344.3L1314.9 1344.3L1319.1 1344.3L1323.3 1344.2L1327.6 1344.2L1331.8 1344.2L1336 1344.2L1340.2 1344.1L1344.4 1344L1348.6 1343.8L1352.8 1343.5L1356.5 1342.9L1358.5 1342.2L1359.7 1341.6L1360.7 1340.7L1361.5 1339.8L1362 1339L1362.4 1337.8L1362.7 1337.1L1362.9 1336.1L1363.2 1335L1363.4 1333.6L1363.7 1331.9L1363.9 1329.8L1364.2 1327.4L1364.4 1324.4L1364.7 1320.9L1364.9 1316.9L1365.2 1312.4L1365.4 1307.5L1365.7 1302.2L1365.9 1296.9L1366.2 1291.7L1366.4 1287.3L1366.7 1284L1366.9 1282.3L1367.4 1284.5L1367.6 1287.9L1367.9 1292.2L1368.1 1296.8L1368.4 1301.4L1368.6 1305.6L1368.9 1309.3L1369.1 1312.2L1369.4 1314.5L1369.6 1315.9L1369.9 1316.6L1370.6 1315L1370.9 1313.6L1371.1 1312.1L1371.4 1310.7L1371.6 1309.8L1372.3 1311.7L1372.6 1313.9L1372.8 1316.5L1373.1 1319.3L1373.3 1322.2L1373.6 1324.9L1373.8 1327.4L1374.1 1329.7L1374.3 1331.7L1374.6 1333.4L1374.8 1334.9L1375.1 1336.1L1375.3 1337.1L1375.6 1338L1375.8 1338.7L1376.3 1339.8L1376.8 1340.5L1377.5 1341.3L1378.5 1342L1380 1342.6L1382.7 1343.2L1387 1343.7L1391.2 1343.9L1395.4 1344L1399.6 1344L1403.8 1344L1408 1344L1412.2 1344L1416.4 1343.9L1420.6 1343.7L1424.8 1343.4L1428.5 1342.8L1430.5 1342.1L1431.7 1341.4L1432.5 1340.7L1433.2 1339.8L1433.7 1339L1434.2 1337.7L1434.5 1336.9L1434.7 1336L1435 1334.8L1435.2 1333.4L1435.5 1331.6L1435.7 1329.6L1436 1327.2L1436.2 1324.4L1436.5 1321.1L1436.7 1317.5L1436.9 1313.5L1437.2 1309.2L1437.4 1304.8L1437.7 1300.4L1437.9 1296.4L1438.2 1293.1L1438.4 1290.9L1438.7 1290.2L1438.9 1290.9L1439.2 1292.9L1439.4 1296L1439.7 1299.6L1439.9 1303.5L1440.2 1307.3L1440.4 1310.9L1440.7 1313.9L1440.9 1316.5L1441.2 1318.5L1441.4 1319.8L1441.6 1320.6L1442.4 1319.9L1442.6 1318.8L1442.9 1317.5L1443.1 1316.2L1443.4 1315L1443.6 1314.2L1444.4 1315.6L1444.6 1317.3L1444.9 1319.4L1445.1 1321.7L1445.4 1324.1L1445.6 1326.3L1445.9 1328.5L1446.1 1330.4L1446.4 1332.2L1446.6 1333.7L1446.8 1335.1L1447.1 1336.2L1447.3 1337.1L1447.6 1337.9L1447.8 1338.6L1448.3 1339.6L1448.8 1340.3L1449.6 1341L1450.8 1341.6L1455 1341.8L1456.5 1341.2L1457.2 1340.5L1457.7 1339.7L1458.2 1338.6L1458.5 1337.9L1458.7 1337L1459 1335.9L1459.2 1334.7L1459.5 1333.3L1459.7 1331.7L1460 1329.9L1460.2 1328L1460.5 1325.9L1460.7 1323.8L1461 1321.8L1461.2 1319.9L1461.4 1318.4L1461.7 1317.3L1462.4 1318.1L1462.7 1319.5L1462.9 1321.2L1463.2 1323L1463.4 1324.8L1463.7 1326.5L1463.9 1328.1L1464.2 1329.4L1464.4 1330.4L1464.7 1331.2L1465.2 1331.9L1465.9 1331.3L1466.4 1330.2L1466.9 1329.2L1467.9 1330.1L1468.1 1331L1468.4 1332L1468.6 1333.2L1468.9 1334.3L1469.1 1335.4L1469.4 1336.4L1469.6 1337.4L1469.9 1338.2L1470.1 1338.9L1470.4 1339.6L1470.9 1340.6L1471.3 1341.4L1472.1 1342.1L1473.3 1342.8L1475.8 1343.4L1480 1343.8L1484.2 1344L1488.4 1344.1L1492.6 1344.2L1496.8 1344.2L1501 1344.2L1505.3 1344.2L1509.5 1344.3L1513.7 1344.3L1517.9 1344.3L1522.1 1344.3L1526.3 1344.3L1530.5 1344.3L1534.7 1344.2L1538.9 1344.2L1543.1 1344.1L1547.3 1344L1551.3 1343.3L1552.8 1342.6L1553.8 1341.8L1554.5 1341.1L1555.3 1340.4L1556 1339.8L1559.5 1340.4L1561.7 1341L1563.9 1341.7L1565.2 1342.4L1566.4 1343L1568.4 1343.6L1572.6 1344.1L1576.8 1344.2L1581 1344.2L1585.2 1344.2L1589.4 1344.3L1593.6 1344.3L1597.8 1344.3L1602 1344.2L1606.2 1344.2L1610.4 1344.2L1614.7 1344.1L1618.9 1343.8L1622.1 1343.2L1623.3 1342.5L1624.1 1341.8L1624.6 1341.1L1625 1340.1L1625.5 1338.9L1625.8 1338.2L1626 1337.4L1626.3 1336.6L1626.5 1335.8L1626.8 1335L1627 1334.2L1627.3 1333.5L1627.8 1332.5L1628.8 1333.2L1629 1333.8L1629.3 1334.5L1629.5 1335.2L1629.7 1335.9L1630 1336.6L1630.2 1337.2L1630.7 1338.2L1631.2 1338.9L1633.5 1338.1L1635.4 1338.8L1635.9 1339.7L1636.4 1340.5L1636.9 1341.3L1637.4 1341.9L1638.2 1342.6L1639.4 1343.3L1643.1 1343.9L1647.3 1344.1L1651.5 1344.2L1655.7 1344.2L1659.9 1344.2L1664.2 1344.3L1668.4 1344.3L1672.6 1344.3L1676.8 1344.3L1681 1344.3L1685.2 1344.3L1689.4 1344.2L1693.6 1344.2L1697.8 1344.2L1702 1344.2L1706.2 1344.2L1710.4 1344.1L1714.6 1344.1L1718.8 1344L1723.1 1343.9L1727.3 1343.7L1731.5 1343.5L1735.7 1342.9L1738.4 1342.2L1740.1 1341.5L1741.1 1340.9L1742.1 1340.1L1742.9 1339.2L1743.4 1338.4L1743.8 1337.3L1744.1 1336.7L1744.3 1335.9L1744.6 1335.1L1744.8 1334L1745.1 1332.9L1745.3 1331.5L1745.6 1329.9L1745.8 1328.1L1746.1 1326.1L1746.3 1323.8L1746.6 1321.2L1746.8 1318.3L1747.1 1315.2L1747.3 1311.9L1747.6 1308.3L1747.8 1304.6L1748.1 1300.8L1748.3 1297L1748.5 1293.5L1748.8 1290.4L1749 1287.8L1749.3 1286.1L1749.5 1285.3L1750 1286.6L1750.3 1288.6L1750.5 1291.2L1750.8 1294.3L1751 1297.6L1751.3 1301L1751.5 1304.3L1751.8 1307.5L1752 1310.4L1752.3 1313L1752.5 1315.2L1752.8 1317.1L1753 1318.5L1753.3 1319.6L1753.5 1320.3L1754.5 1319.7L1754.7 1318.9L1755 1317.8L1755.2 1316.6L1755.5 1315.4L1755.7 1314.1L1756 1313L1756.2 1312.2L1757.2 1313L1757.5 1314.3L1757.7 1315.9L1758 1317.8L1758.2 1319.7L1758.4 1321.7L1758.7 1323.7L1758.9 1325.6L1759.2 1327.4L1759.4 1329.1L1759.7 1330.7L1759.9 1332.1L1760.2 1333.3L1760.4 1334.5L1760.7 1335.5L1760.9 1336.3L1761.2 1337.1L1761.4 1337.8L1761.9 1338.8L1762.4 1339.7L1762.9 1340.3L1763.6 1340.9L1764.6 1341.6L1766.1 1342.2L1768.6 1342.8L1772.8 1343.3L1777 1343.6L1781.2 1343.7L1785.4 1343.7L1789.6 1343.7L1793.8 1343.6L1798 1343.4L1802.3 1343.1L1806.5 1342.6L1809.2 1342L1811.2 1341.3L1812.4 1340.7L1813.4 1340L1814.1 1339.4L1814.9 1338.7L1815.4 1338L1815.9 1337.3L1816.4 1336.4L1816.9 1335.2L1817.1 1334.5L1817.4 1333.7L1817.6 1332.8L1817.8 1331.7L1818.1 1330.5L1818.3 1329.1L1818.6 1327.5L1818.8 1325.6L1819.1 1323.5L1819.3 1321L1819.6 1318.2L1819.8 1315L1820.1 1311.4L1820.3 1307.4L1820.6 1303L1820.8 1298.2L1821.1 1293.1L1821.3 1287.6L1821.6 1281.8L1821.8 1275.9L1822.1 1270.1L1822.3 1264.5L1822.6 1259.4L1822.8 1255L1823 1251.8L1823.3 1249.8L1824 1252.7L1824.3 1256.2L1824.5 1260.7L1824.8 1265.7L1825 1271L1825.3 1276.3L1825.5 1281.5L1825.8 1286.5L1826 1291.1L1826.3 1295.2L1826.5 1298.8L1826.8 1301.8L1827 1304.3L1827.3 1306.3L1827.5 1307.6L1827.7 1308.5L1828.7 1306.9L1829 1305.5L1829.2 1303.7L1829.5 1301.8L1829.7 1299.7L1830 1297.6L1830.2 1295.7L1830.5 1294L1830.7 1292.9L1831.7 1294.7L1832 1296.7L1832.2 1299.3L1832.5 1302.2L1832.7 1305.2L1832.9 1308.3L1833.2 1311.4L1833.4 1314.3L1833.7 1317.1L1833.9 1319.8L1834.2 1322.2L1834.4 1324.4L1834.7 1326.4L1834.9 1328.2L1835.2 1329.8L1835.4 1331.2L1835.7 1332.5L1835.9 1333.6L1836.2 1334.5L1836.4 1335.3L1836.7 1336.1L1836.9 1336.7L1837.4 1337.7L1837.9 1338.5L1838.4 1339.2L1839.1 1339.9L1840.1 1340.7L1841.4 1341.3L1843.1 1342L1845.6 1342.6L1849.8 1343.2L1854 1343.5L1858.2 1343.7L1862.4 1343.9L1866.6 1344L1870.8 1344L1875 1344.1L1879.2 1344.1L1883.4 1344.2L1887.6 1344.2L1891.9 1344.2L1896.1 1344.2L1900.3 1344.2L1904.5 1344.2L1908.7 1344.2L1912.9 1344.2L1917.1 1344.2L1921.3 1344.2L1925.5 1344.2L1929.7 1344.1L1933.9 1344L1938.1 1343.8L1942.3 1343.2L1944.3 1342.6L1945.3 1341.9L1946.1 1341L1946.5 1340.2L1947 1339.3L1947.5 1338.1L1947.8 1337.4L1948 1336.6L1948.3 1335.8L1948.5 1334.9L1948.8 1334L1949 1333.1L1949.3 1332.2L1949.5 1331.3L1949.8 1330.4L1950 1329.7L1950.3 1329.1L1950.8 1328.4L1951.7 1329.5L1952 1330.2L1952.2 1331L1952.5 1331.8L1952.7 1332.7L1953 1333.5L1953.2 1334.4L1953.5 1335.1L1953.7 1335.8L1954 1336.5L1954.5 1337.6L1955 1338.4L1956 1339L1957.2 1338.3L1957.7 1337.6L1958.2 1336.9L1958.7 1336.3L1959.7 1335.6L1960.7 1336.6L1961.2 1337.5L1961.6 1338.4L1962.1 1339.4L1962.6 1340.2L1963.1 1341L1963.6 1341.6L1964.4 1342.3L1965.4 1342.9L1967.6 1343.5L1971.8 1343.9L1976 1344.1L1980.2 1344.2L1984.4 1344.2L1988.6 1344.2L1992.8 1344.3L1997 1344.3L2001.2 1344.3L2005.5 1344.3L2009.7 1344.3L2013.9 1344.3L2018.1 1344.2L2022.3 1344.1L2026.5 1343.9L2029 1343.2L2030.2 1342.6L2031.4 1341.9L2035.6 1342.4L2037.1 1343L2041.3 1342.8L2045.5 1343.4L2048.8 1344L2053 1344.2L2057.2 1344.3L2061.4 1344.3L2065.6 1344.3L2069.8 1344.3L2074 1344.3L2078.2 1344.3L2082.4 1344.3L2086.6 1344.3L2090.8 1344.3L2095 1344.3L2099.3 1344.3L2103.5 1344.3L2107.7 1344.3L2111.9 1344.3L2116.1 1344.3L2120.3 1344.3L2124.5 1344.2L2128.7 1344.2L2132.9 1344.2L2137.1 1344.2L2141.3 1344.1L2145.5 1344.1L2149.7 1344L2154 1343.9L2158.2 1343.7L2162.4 1343.3L2165.6 1342.6L2167.6 1341.9L2168.8 1341.2L2169.5 1340.5L2170 1339.9L2170.5 1339.1L2171 1338.2L2171.5 1337L2171.8 1336.3L2172 1335.5L2172.3 1334.7L2172.5 1333.8L2172.8 1332.8L2173 1331.8L2173.3 1330.6L2173.5 1329.4L2173.8 1328.2L2174 1326.9L2174.2 1325.5L2174.5 1324.1L2174.7 1322.7L2175 1321.3L2175.2 1320L2175.5 1318.7L2175.7 1317.6L2176 1316.7L2176.2 1316L2176.7 1315.3L2177.5 1316.3L2177.7 1317.2L2178 1318.2L2178.2 1319.3L2178.5 1320.6L2178.7 1321.9L2179 1323.2L2179.2 1324.5L2179.4 1325.8L2179.7 1327.1L2179.9 1328.3L2180.2 1329.4L2180.4 1330.4L2180.7 1331.3L2180.9 1332.2L2181.2 1333L2181.4 1333.6L2181.9 1334.7L2182.4 1335.4L2184.6 1334.7L2185.1 1333.8L2185.6 1332.8L2186.1 1331.6L2186.6 1330.5L2187.1 1329.5L2187.6 1328.9L2189.1 1329.9L2189.6 1331.2L2189.8 1331.8L2190.1 1332.6L2190.3 1333.3L2190.6 1334L2190.8 1334.7L2191.1 1335.4L2191.3 1336.1L2191.6 1336.7L2192.1 1337.8L2192.6 1338.8L2193.1 1339.7L2193.6 1340.3L2194.3 1341.2L2195.3 1341.9L2196.8 1342.6L2199.7 1343.2L2203.9 1343.6L2208.2 1343.8L2212.4 1343.9L2216.6 1343.9L2220.8 1343.9L2225 1343.9L2229.2 1343.9L2233.4 1343.8L2237.6 1343.7L2241.8 1343.6L2246 1343.4L2250.2 1343L2254.4 1342.4L2256.9 1341.7L2258.6 1341L2259.9 1340.4L2260.9 1339.7L2261.6 1338.9L2262.4 1338L2262.9 1337.2L2263.3 1336.2L2263.8 1335L2264.1 1334.3L2264.3 1333.6L2264.6 1332.7L2264.8 1331.8L2265.1 1330.7L2265.3 1329.6L2265.6 1328.4L2265.8 1327.1L2266.1 1325.6L2266.3 1324L2266.6 1322.4L2266.8 1320.6L2267.1 1318.6L2267.3 1316.6L2267.6 1314.5L2267.8 1312.3L2268.1 1310L2268.3 1307.6L2268.5 1305.2L2268.8 1302.8L2269 1300.5L2269.3 1298.2L2269.5 1296.1L2269.8 1294.1L2270 1292.4L2270.3 1291L2270.5 1290L2270.8 1289.4L2271.5 1290.1L2271.8 1291.1L2272 1292.5L2272.3 1294.1L2272.5 1296L2272.8 1298.1L2273 1300.3L2273.2 1302.6L2273.5 1304.8L2273.7 1307.1L2274 1309.3L2274.2 1311.4L2274.5 1313.4L2274.7 1315.4L2275 1317.2L2275.2 1318.9L2275.5 1320.4L2275.7 1321.8L2276 1323.1L2276.2 1324.2L2276.5 1325.2L2276.7 1326.1L2277 1326.8L2277.5 1327.9L2278.2 1328.5L2279.2 1327.7L2279.7 1326.7L2279.9 1326.1L2280.2 1325.4L2280.4 1324.6L2280.7 1323.7L2280.9 1322.8L2281.2 1321.8L2281.4 1320.8L2281.7 1319.8L2281.9 1318.8L2282.2 1317.8L2282.4 1316.9L2282.7 1316.1L2282.9 1315.4L2283.4 1314.5L2284.4 1315.2L2284.6 1315.8L2284.9 1316.6L2285.1 1317.6L2285.4 1318.6L2285.6 1319.8L2285.9 1321L2286.1 1322.2L2286.4 1323.4L2286.6 1324.6L2286.9 1325.8L2287.1 1326.9L2287.4 1328L2287.6 1329.1L2287.9 1330.1L2288.1 1331L2288.3 1331.9L2288.6 1332.7L2288.8 1333.4L2289.1 1334.1L2289.3 1334.7L2289.8 1335.8L2290.3 1336.7L2290.8 1337.4L2291.6 1338.1L2295.5 1337.3L2296 1336.7L2296.5 1335.9L2297 1335L2297.5 1334.1L2298 1333L2298.5 1332L2299 1330.9L2299.5 1330L2300 1329.4L2302 1330.4L2302.5 1331.4L2302.9 1332.5L2303.4 1333.6L2303.9 1334.7L2304.4 1335.7L2304.9 1336.7L2305.4 1337.5L2305.9 1338.2L2306.7 1338.9L2307.9 1339.6L2310.4 1338.9L2311.1 1338.2L2311.9 1337.6L2312.6 1336.9L2315.8 1337.7L2316.6 1338.6L2317.1 1339.2L2317.8 1340.1L2318.5 1340.8L2319.3 1341.4L2320.3 1342.1L2321.8 1342.7L2324.7 1343.3L2328.9 1343.7L2333.1 1343.9L2337.4 1344L2341.6 1344.1L2345.8 1344.1L2350 1344.2L2354.2 1344.2L2358.4 1344.2L2362.6 1344.2L2366.8 1344.2L2371 1344.3L2375.2 1344.3L2379.4 1344.3L2383.6 1344.3L2383.9 1344.3" stroke="#f00" stroke-width="8.5" transform="translate(0,-1.0)"/>
<path d="M184.1 1344.2L188.3 1344.1L192.5 1344L196.7 1343.7L200.4 1343L202.2 1342.4L203.2 1341.7L203.9 1341L204.4 1340.3L204.9 1339.4L205.4 1338.2L205.6 1337.4L205.9 1336.5L206.1 1335.3L206.4 1333.8L206.6 1331.7L206.9 1328.9L207.1 1325.1L207.4 1319.7L207.6 1312.3L207.9 1302.5L208.1 1290L208.4 1274.9L208.6 1258L208.9 1241.4L209.1 1228.5L209.3 1222.4L209.6 1223.4L209.8 1229.5L210.1 1238.9L210.3 1251.1L210.6 1265.3L210.8 1279.9L211.1 1293.3L211.3 1304.5L211.6 1313.5L211.8 1320.3L212.1 1325.4L212.3 1329.2L212.6 1331.9L212.8 1333.9L213.1 1335.5L213.3 1336.6L213.6 1337.6L213.8 1338.3L214 1339L214.5 1340L215 1340.7L215.8 1341.5L216.8 1342.3L218.3 1342.9L221 1343.5L225.2 1343.9L229.4 1344.1L233.6 1344.2L237.8 1344.2L242 1344.3L246.2 1344.3L250.4 1344.3L254.6 1344.3L258.8 1344.3L263.1 1344.3L267.3 1344.3L271.5 1344.3L275.7 1344.3L279.9 1344.3L284.1 1344.3L288.3 1344.3L292.5 1344.3L296.7 1344.3L300.9 1344.3L305.1 1344.3L309.3 1344.3L313.5 1344.3L317.8 1344.3L322 1344.3L326.2 1344.3L330.4 1344.3L334.6 1344.3L338.8 1344.3L343 1344.3L347.2 1344.3L351.4 1344.3L355.6 1344.3L359.8 1344.3L364 1344.3L368.2 1344.3L372.4 1344.3L376.7 1344.3L380.9 1344.3L385.1 1344.2L389.3 1344.2L393.5 1344.2L397.7 1344.2L401.9 1344.2L406.1 1344.1L410.3 1344.1L414.5 1344L418.7 1344L422.9 1343.9L427.1 1343.8L431.4 1343.6L435.6 1343.4L439.8 1343L443.7 1342.3L446.2 1341.7L447.9 1341L449.2 1340.3L450.2 1339.6L450.9 1339L451.6 1338.2L452.1 1337.6L452.6 1336.9L453.1 1336L453.6 1335L454.1 1333.9L454.4 1333.2L454.6 1332.5L454.9 1331.7L455.1 1330.8L455.4 1329.8L455.6 1328.6L455.9 1327.4L456.1 1326L456.4 1324.4L456.6 1322.6L456.8 1320.6L457.1 1318.2L457.3 1315.5L457.6 1312.3L457.8 1308.6L458.1 1304.1L458.3 1298.6L458.6 1291.8L458.8 1283L459.1 1271.3L459.3 1255.2L459.6 1232.7L459.8 1201.6L460.1 1159.1L460.3 1103L460.6 1032.3L460.8 948.2L461.1 856.3L461.3 769.8L461.5 708.5L461.8 689.3L462 710.8L462.3 754L462.5 799L462.8 835.2L463 863.6L463.3 893.1L463.5 933.5L463.8 986.7L464 1045.8L464.3 1102.6L464.5 1152.2L464.8 1193L465 1225.1L465.3 1249.6L465.5 1267.7L465.8 1281.1L466 1291.1L466.3 1298.5L466.5 1304.3L466.7 1309L467 1312.8L467.2 1315.9L467.5 1318.6L467.7 1321L468 1323L468.2 1324.8L468.5 1326.3L468.7 1327.7L469 1328.9L469.2 1330L469.5 1331L469.7 1331.9L470 1332.7L470.2 1333.4L470.5 1334L471 1335.2L471.4 1336.1L471.9 1337L472.4 1337.7L472.9 1338.3L473.7 1339L474.4 1339.6L475.4 1340.3L476.6 1341L478.4 1341.6L480.9 1342.3L484.8 1342.9L489 1343.3L493.2 1343.5L497.4 1343.6L501.6 1343.7L505.9 1343.8L510.1 1343.8L514.3 1343.8L518.5 1343.8L522.7 1343.8L526.9 1343.8L531.1 1343.7L535.3 1343.6L539.5 1343.5L543.7 1343.3L547.9 1343L552.1 1342.5L555.8 1341.8L558.3 1341.2L560.1 1340.5L561.5 1339.8L562.5 1339.2L563.5 1338.5L564.3 1337.8L565 1337.1L565.5 1336.5L566 1335.8L566.5 1335L567 1334.1L567.5 1333.1L568 1331.9L568.2 1331.2L568.5 1330.5L568.7 1329.7L569 1328.9L569.2 1328L569.5 1327L569.7 1325.9L570 1324.6L570.2 1323.3L570.4 1321.8L570.7 1320.2L570.9 1318.3L571.2 1316.3L571.4 1313.9L571.7 1311.3L571.9 1308.4L572.2 1305L572.4 1301.1L572.7 1296.6L572.9 1291.3L573.2 1285.1L573.4 1277.7L573.7 1268.6L573.9 1257.3L574.2 1242.5L574.4 1222.8L574.7 1195.5L574.9 1157.6L575.2 1104.8L575.4 1033.1L575.6 938.8L575.9 820.6L576.1 681.3L576.4 531.8L576.6 395.5L576.9 306.6L577.1 292.2L577.4 346.6L577.6 435.8L577.9 524.2L578.1 590.7L578.4 629.9L578.6 649L578.9 666.4L579.1 702.8L579.4 767.1L579.6 850.5L579.9 938L580.1 1018.5L580.3 1086.8L580.6 1141.6L580.8 1183.9L581.1 1215.5L581.3 1238.8L581.6 1256L581.8 1268.8L582.1 1278.6L582.3 1286.3L582.6 1292.6L582.8 1297.8L583.1 1302.3L583.3 1306.1L583.6 1309.4L583.8 1312.2L584.1 1314.8L584.3 1317L584.6 1319L584.8 1320.8L585.1 1322.4L585.3 1323.8L585.5 1325.1L585.8 1326.2L586 1327.3L586.3 1328.3L586.5 1329.2L586.8 1330L587 1330.7L587.3 1331.4L587.5 1332L588 1333.2L588.5 1334.1L589 1335L589.5 1335.7L590 1336.4L590.7 1337.2L591.5 1337.9L592.5 1338.6L593.7 1339.3L595.2 1340L597.4 1340.6L601.6 1340.8L604.1 1340.1L605.1 1339.5L605.8 1338.8L606.3 1338.2L606.8 1337.4L607.3 1336.3L607.6 1335.7L607.8 1335L608.1 1334.1L608.3 1333.1L608.6 1331.9L608.8 1330.4L609.1 1328.4L609.3 1325.9L609.6 1322.6L609.8 1318L610 1311.9L610.3 1303.5L610.5 1292.6L610.8 1278.6L611 1261.6L611.3 1241.9L611.5 1221L611.8 1201.7L612 1188L612.3 1183.4L612.5 1188.3L612.8 1199.3L613 1211.7L613.3 1222.4L613.5 1229.9L613.8 1234.3L614 1237.2L614.3 1241.1L614.5 1248L614.8 1258.3L615 1270.4L615.2 1282.8L615.5 1294.1L615.7 1303.7L616 1311.6L616.2 1317.9L616.5 1322.7L616.7 1326.4L617 1329.1L617.2 1331.2L617.5 1332.8L617.7 1334.1L618 1335.1L618.2 1336L618.5 1336.7L618.7 1337.3L619.2 1338.3L619.7 1339.1L620.2 1339.8L620.9 1340.5L621.9 1341.2L623.2 1341.9L625.1 1342.5L628.6 1343.1L632.8 1343.5L637 1343.7L641.2 1343.8L645.4 1343.9L649.6 1344L653.9 1344.1L658.1 1344.1L662.3 1344.1L666.5 1344.2L670.7 1344.2L674.9 1344.2L679.1 1344.2L683.3 1344.2L687.5 1344.2L691.7 1344.2L695.9 1344.3L700.1 1344.3L704.3 1344.3L708.6 1344.3L712.8 1344.3L717 1344.3L721.2 1344.3L725.4 1344.3L729.6 1344.2L733.8 1344.1L738 1343.5L739.2 1342.9L740.2 1342.1L741.2 1341.4L744.2 1342.2L745.2 1342.8L746.4 1343.4L749.1 1344L753.4 1344.2L757.6 1344.3L761.8 1344.3L766 1344.3L770.2 1344.3L774.4 1344.3L778.6 1344.3L782.8 1344.3L787 1344.3L791.2 1344.3L795.4 1344.3L799.6 1344.3L803.8 1344.3L808 1344.2L812.3 1344.2L816.5 1344.1L820.7 1343.9L824.6 1343.2L826.1 1342.5L826.9 1341.9L827.4 1341.1L827.8 1339.9L828.1 1339L828.3 1337.9L828.6 1336.4L828.8 1334.7L829.1 1332.6L829.3 1330.2L829.6 1327.5L829.8 1324.6L830.1 1321.8L830.3 1319.4L830.6 1317.8L831.3 1319.4L831.6 1321.2L831.8 1323.1L832.1 1324.6L832.3 1325.8L832.6 1326.5L833.3 1327.3L833.8 1328.7L834 1330L834.3 1331.5L834.5 1333.2L834.8 1334.8L835 1336.3L835.3 1337.6L835.5 1338.7L835.8 1339.6L836 1340.4L836.3 1341L836.8 1341.8L837.5 1342.6L838.7 1343.2L842 1343.8L846.2 1344.1L850.4 1344.2L854.6 1344.2L858.8 1344.3L863 1344.3L867.2 1344.3L871.4 1344.3L875.6 1344.3L879.8 1344.3L884 1344.3L888.2 1344.3L892.4 1344.3L896.7 1344.3L900.9 1344.3L905.1 1344.3L909.3 1344.3L913.5 1344.2L917.7 1344.2L921.9 1344.2L926.1 1344.2L930.3 1344.1L934.5 1344.1L938.7 1344L942.9 1343.9L947.1 1343.7L951.4 1343.5L955.6 1342.9L958 1342.2L959.5 1341.6L960.8 1340.9L961.5 1340.3L962.2 1339.5L962.7 1338.8L963.2 1338L963.7 1337L964.2 1335.8L964.5 1335L964.7 1334.1L965 1333.1L965.2 1332L965.5 1330.6L965.7 1328.9L966 1326.8L966.2 1324.2L966.4 1320.8L966.7 1316.4L966.9 1310.6L967.2 1303.1L967.4 1293.5L967.7 1281.4L967.9 1266.6L968.2 1249.1L968.4 1229.5L968.7 1208.6L968.9 1188.6L969.2 1172.3L969.4 1163.3L969.9 1172.5L970.2 1187.1L970.4 1203.8L970.7 1219.8L970.9 1233L971.2 1242.6L971.4 1248.2L971.6 1250.1L971.9 1248.7L972.1 1245.3L972.4 1241.6L972.6 1239.5L972.9 1240.8L973.1 1246.4L973.4 1255.4L973.6 1266.4L973.9 1277.7L974.1 1288.4L974.4 1298L974.6 1306.1L974.9 1312.8L975.1 1318.3L975.4 1322.5L975.6 1325.9L975.9 1328.5L976.1 1330.5L976.3 1332.1L976.6 1333.4L976.8 1334.4L977.1 1335.3L977.3 1336.1L977.6 1336.7L978.1 1337.8L978.6 1338.7L979.1 1339.4L979.8 1340.2L980.6 1340.8L981.5 1341.5L983 1342.1L985.3 1342.7L989.5 1343.3L993.7 1343.6L997.9 1343.8L1002.1 1343.8L1006.3 1343.9L1010.5 1343.9L1014.7 1343.8L1018.9 1343.7L1023.1 1343.6L1027.3 1343.3L1031.5 1342.7L1034.3 1342.1L1036 1341.5L1037.2 1340.9L1038.2 1340.2L1039 1339.6L1039.7 1338.8L1040.2 1338.1L1040.7 1337.3L1041.2 1336.4L1041.7 1335.2L1041.9 1334.5L1042.2 1333.8L1042.4 1332.9L1042.7 1331.9L1042.9 1330.9L1043.2 1329.6L1043.4 1328.2L1043.7 1326.5L1043.9 1324.5L1044.2 1322.1L1044.4 1319.1L1044.7 1315.3L1044.9 1310.4L1045.2 1304L1045.4 1295.7L1045.6 1284.8L1045.9 1270.9L1046.1 1253.4L1046.4 1232L1046.6 1206.6L1046.9 1178.1L1047.1 1147.7L1047.4 1118.4L1047.6 1094.7L1047.9 1081.3L1048.4 1095L1048.6 1117.2L1048.9 1143L1049.1 1168L1049.4 1189.4L1049.6 1205.9L1049.9 1216.6L1050.1 1221.6L1050.6 1216.7L1050.8 1209.4L1051.1 1201.6L1051.3 1196.2L1051.8 1202L1052.1 1213.8L1052.3 1229L1052.6 1245.3L1052.8 1261L1053.1 1275.2L1053.3 1287.3L1053.6 1297.5L1053.8 1305.6L1054.1 1312.1L1054.3 1317.2L1054.6 1321.1L1054.8 1324.1L1055.1 1326.5L1055.3 1328.5L1055.5 1330L1055.8 1331.3L1056 1332.5L1056.3 1333.4L1056.5 1334.3L1056.8 1335L1057 1335.7L1057.5 1336.8L1058 1337.7L1058.5 1338.4L1059 1339.1L1059.8 1339.8L1060.5 1340.4L1061.5 1341.1L1063 1341.8L1065 1342.4L1068.2 1343L1072.4 1343.4L1076.6 1343.7L1080.8 1343.9L1085 1344L1089.2 1344L1093.4 1344.1L1097.6 1344.1L1101.8 1344.1L1106 1344.2L1110.2 1344.2L1114.5 1344.2L1118.7 1344.2L1122.9 1344.2L1127.1 1344.2L1131.3 1344.1L1135.5 1344.1L1139.7 1344.1L1143.9 1344L1148.1 1343.9L1152.3 1343.8L1156.5 1343.5L1160.7 1343L1163.2 1342.3L1164.9 1341.6L1165.9 1341L1166.9 1340.2L1167.7 1339.3L1168.2 1338.6L1168.7 1337.7L1169.2 1336.6L1169.4 1335.9L1169.6 1335.1L1169.9 1334.2L1170.1 1333.2L1170.4 1331.9L1170.6 1330.4L1170.9 1328.4L1171.1 1326L1171.4 1322.9L1171.6 1318.9L1171.9 1313.7L1172.1 1307.1L1172.4 1298.9L1172.6 1288.8L1172.9 1276.7L1173.1 1262.8L1173.4 1247.3L1173.6 1231.1L1173.9 1215.7L1174.1 1203.2L1174.3 1195.8L1174.8 1201.6L1175.1 1212.9L1175.3 1226.7L1175.6 1240.9L1175.8 1253.9L1176.1 1264.8L1176.3 1273.1L1176.6 1278.5L1176.8 1281.2L1177.3 1279.1L1177.6 1275.2L1177.8 1270.3L1178.1 1265.5L1178.3 1262.1L1178.6 1261.3L1178.8 1263.9L1179.1 1269.4L1179.3 1277.1L1179.5 1285.6L1179.8 1294L1180 1301.9L1180.3 1308.9L1180.5 1314.8L1180.8 1319.8L1181 1323.8L1181.3 1327L1181.5 1329.6L1181.8 1331.6L1182 1333.1L1182.3 1334.4L1182.5 1335.4L1182.8 1336.3L1183 1337L1183.3 1337.6L1183.8 1338.6L1184.2 1339.3L1184.7 1339.9L1185.5 1340.7L1186.5 1341.4L1187.7 1342L1189.7 1342.7L1193.2 1343.3L1197.4 1343.7L1201.6 1343.9L1205.8 1344L1210 1344.1L1214.2 1344.1L1218.4 1344.1L1222.6 1344.1L1226.8 1344.1L1231 1344.1L1235.2 1344L1239.4 1343.7L1241.9 1343.1L1242.9 1342.4L1243.6 1341.4L1244.1 1340.4L1244.4 1339.7L1244.6 1338.9L1244.9 1338L1245.1 1336.9L1245.4 1335.8L1245.6 1334.6L1245.9 1333.4L1246.1 1332.3L1246.4 1331.3L1246.6 1330.6L1247.6 1331.6L1247.9 1332.5L1248.1 1333.5L1248.4 1334.4L1248.6 1335.3L1248.8 1335.9L1249.3 1336.8L1252.1 1337.5L1252.3 1338.2L1252.6 1338.8L1252.8 1339.5L1253.1 1340.1L1253.5 1341.1L1254 1341.9L1254.8 1342.7L1256 1343.4L1260.2 1344L1264.4 1344.1L1268.6 1344.2L1272.9 1344.2L1277.1 1344.3L1281.3 1344.3L1285.5 1344.3L1289.7 1344.3L1293.9 1344.3L1298.1 1344.3L1302.3 1344.3L1306.5 1344.3L1310.7 1344.3L1314.9 1344.3L1319.1 1344.3L1323.3 1344.2L1327.6 1344.2L1331.8 1344.2L1336 1344.2L1340.2 1344.1L1344.4 1344L1348.6 1343.8L1352.8 1343.5L1356.5 1342.9L1358.5 1342.2L1359.7 1341.6L1360.7 1340.7L1361.5 1339.8L1362 1339L1362.4 1337.8L1362.7 1337.1L1362.9 1336.1L1363.2 1335L1363.4 1333.6L1363.7 1331.9L1363.9 1329.8L1364.2 1327.4L1364.4 1324.4L1364.7 1320.9L1364.9 1316.9L1365.2 1312.4L1365.4 1307.5L1365.7 1302.2L1365.9 1296.9L1366.2 1291.7L1366.4 1287.3L1366.7 1284L1366.9 1282.3L1367.4 1284.5L1367.6 1287.9L1367.9 1292.2L1368.1 1296.8L1368.4 1301.4L1368.6 1305.6L1368.9 1309.3L1369.1 1312.2L1369.4 1314.5L1369.6 1315.9L1369.9 1316.6L1370.6 1315L1370.9 1313.6L1371.1 1312.1L1371.4 1310.7L1371.6 1309.8L1372.3 1311.7L1372.6 1313.9L1372.8 1316.5L1373.1 1319.3L1373.3 1322.2L1373.6 1324.9L1373.8 1327.4L1374.1 1329.7L1374.3 1331.7L1374.6 1333.4L1374.8 1334.9L1375.1 1336.1L1375.3 1337.1L1375.6 1338L1375.8 1338.7L1376.3 1339.8L1376.8 1340.5L1377.5 1341.3L1378.5 1342L1380 1342.6L1382.7 1343.2L1387 1343.7L1391.2 1343.9L1395.4 1344L1399.6 1344L1403.8 1344L1408 1344L1412.2 1344L1416.4 1343.9L1420.6 1343.7L1424.8 1343.4L1428.5 1342.8L1430.5 1342.1L1431.7 1341.4L1432.5 1340.7L1433.2 1339.8L1433.7 1339L1434.2 1337.7L1434.5 1336.9L1434.7 1336L1435 1334.8L1435.2 1333.4L1435.5 1331.6L1435.7 1329.6L1436 1327.2L1436.2 1324.4L1436.5 1321.1L1436.7 1317.5L1436.9 1313.5L1437.2 1309.2L1437.4 1304.8L1437.7 1300.4L1437.9 1296.4L1438.2 1293.1L1438.4 1290.9L1438.7 1290.2L1438.9 1290.9L1439.2 1292.9L1439.4 1296L1439.7 1299.6L1439.9 1303.5L1440.2 1307.3L1440.4 1310.9L1440.7 1313.9L1440.9 1316.5L1441.2 1318.5L1441.4 1319.8L1441.6 1320.6L1442.4 1319.9L1442.6 1318.8L1442.9 1317.5L1443.1 1316.2L1443.4 1315L1443.6 1314.2L1444.4 1315.6L1444.6 1317.3L1444.9 1319.4L1445.1 1321.7L1445.4 1324.1L1445.6 1326.3L1445.9 1328.5L1446.1 1330.4L1446.4 1332.2L1446.6 1333.7L1446.8 1335.1L1447.1 1336.2L1447.3 1337.1L1447.6 1337.9L1447.8 1338.6L1448.3 1339.6L1448.8 1340.3L1449.6 1341L1450.8 1341.6L1455 1341.8L1456.5 1341.2L1457.2 1340.5L1457.7 1339.7L1458.2 1338.6L1458.5 1337.9L1458.7 1337L1459 1335.9L1459.2 1334.7L1459.5 1333.3L1459.7 1331.7L1460 1329.9L1460.2 1328L1460.5 1325.9L1460.7 1323.8L1461 1321.8L1461.2 1319.9L1461.4 1318.4L1461.7 1317.3L1462.4 1318.1L1462.7 1319.5L1462.9 1321.2L1463.2 1323L1463.4 1324.8L1463.7 1326.5L1463.9 1328.1L1464.2 1329.4L1464.4 1330.4L1464.7 1331.2L1465.2 1331.9L1465.9 1331.3L1466.4 1330.2L1466.9 1329.2L1467.9 1330.1L1468.1 1331L1468.4 1332L1468.6 1333.2L1468.9 1334.3L1469.1 1335.4L1469.4 1336.4L1469.6 1337.4L1469.9 1338.2L1470.1 1338.9L1470.4 1339.6L1470.9 1340.6L1471.3 1341.4L1472.1 1342.1L1473.3 1342.8L1475.8 1343.4L1480 1343.8L1484.2 1344L1488.4 1344.1L1492.6 1344.2L1496.8 1344.2L1501 1344.2L1505.3 1344.2L1509.5 1344.3L1513.7 1344.3L1517.9 1344.3L1522.1 1344.3L1526.3 1344.3L1530.5 1344.3L1534.7 1344.2L1538.9 1344.2L1543.1 1344.1L1547.3 1344L1551.3 1343.3L1552.8 1342.6L1553.8 1341.8L1554.5 1341.1L1555.3 1340.4L1556 1339.8L1559.5 1340.4L1561.7 1341L1563.9 1341.7L1565.2 1342.4L1566.4 1343L1568.4 1343.6L1572.6 1344.1L1576.8 1344.2L1581 1344.2L1585.2 1344.2L1589.4 1344.3L1593.6 1344.3L1597.8 1344.3L1602 1344.2L1606.2 1344.2L1610.4 1344.2L1614.7 1344.1L1618.9 1343.8L1622.1 1343.2L1623.3 1342.5L1624.1 1341.8L1624.6 1341.1L1625 1340.1L1625.5 1338.9L1625.8 1338.2L1626 1337.4L1626.3 1336.6L1626.5 1335.8L1626.8 1335L1627 1334.2L1627.3 1333.5L1627.8 1332.5L1628.8 1333.2L1629 1333.8L1629.3 1334.5L1629.5 1335.2L1629.7 1335.9L1630 1336.6L1630.2 1337.2L1630.7 1338.2L1631.2 1338.9L1633.5 1338.1L1635.4 1338.8L1635.9 1339.7L1636.4 1340.5L1636.9 1341.3L1637.4 1341.9L1638.2 1342.6L1639.4 1343.3L1643.1 1343.9L1647.3 1344.1L1651.5 1344.2L1655.7 1344.2L1659.9 1344.2L1664.2 1344.3L1668.4 1344.3L1672.6 1344.3L1676.8 1344.3L1681 1344.3L1685.2 1344.3L1689.4 1344.2L1693.6 1344.2L1697.8 1344.2L1702 1344.2L1706.2 1344.2L1710.4 1344.1L1714.6 1344.1L1718.8 1344L1723.1 1343.9L1727.3 1343.7L1731.5 1343.5L1735.7 1342.9L1738.4 1342.2L1740.1 1341.5L1741.1 1340.9L1742.1 1340.1L1742.9 1339.2L1743.4 1338.4L1743.8 1337.3L1744.1 1336.7L1744.3 1335.9L1744.6 1335.1L1744.8 1334L1745.1 1332.9L1745.3 1331.5L1745.6 1329.9L1745.8 1328.1L1746.1 1326.1L1746.3 1323.8L1746.6 1321.2L1746.8 1318.3L1747.1 1315.2L1747.3 1311.9L1747.6 1308.3L1747.8 1304.6L1748.1 1300.8L1748.3 1297L1748.5 1293.5L1748.8 1290.4L1749 1287.8L1749.3 1286.1L1749.5 1285.3L1750 1286.6L1750.3 1288.6L1750.5 1291.2L1750.8 1294.3L1751 1297.6L1751.3 1301L1751.5 1304.3L1751.8 1307.5L1752 1310.4L1752.3 1313L1752.5 1315.2L1752.8 1317.1L1753 1318.5L1753.3 1319.6L1753.5 1320.3L1754.5 1319.7L1754.7 1318.9L1755 1317.8L1755.2 1316.6L1755.5 1315.4L1755.7 1314.1L1756 1313L1756.2 1312.2L1757.2 1313L1757.5 1314.3L1757.7 1315.9L1758 1317.8L1758.2 1319.7L1758.4 1321.7L1758.7 1323.7L1758.9 1325.6L1759.2 1327.4L1759.4 1329.1L1759.7 1330.7L1759.9 1332.1L1760.2 1333.3L1760.4 1334.5L1760.7 1335.5L1760.9 1336.3L1761.2 1337.1L1761.4 1337.8L1761.9 1338.8L1762.4 1339.7L1762.9 1340.3L1763.6 1340.9L1764.6 1341.6L1766.1 1342.2L1768.6 1342.8L1772.8 1343.3L1777 1343.6L1781.2 1343.7L1785.4 1343.7L1789.6 1343.7L1793.8 1343.6L1798 1343.4L1802.3 1343.1L1806.5 1342.6L1809.2 1342L1811.2 1341.3L1812.4 1340.7L1813.4 1340L1814.1 1339.4L1814.9 1338.7L1815.4 1338L1815.9 1337.3L1816.4 1336.4L1816.9 1335.2L1817.1 1334.5L1817.4 1333.7L1817.6 1332.8L1817.8 1331.7L1818.1 1330.5L1818.3 1329.1L1818.6 1327.5L1818.8 1325.6L1819.1 1323.5L1819.3 1321L1819.6 1318.2L1819.8 1315L1820.1 1311.4L1820.3 1307.4L1820.6 1303L1820.8 1298.2L1821.1 1293.1L1821.3 1287.6L1821.6 1281.8L1821.8 1275.9L1822.1 1270.1L1822.3 1264.5L1822.6 1259.4L1822.8 1255L1823 1251.8L1823.3 1249.8L1824 1252.7L1824.3 1256.2L1824.5 1260.7L1824.8 1265.7L1825 1271L1825.3 1276.3L1825.5 1281.5L1825.8 1286.5L1826 1291.1L1826.3 1295.2L1826.5 1298.8L1826.8 1301.8L1827 1304.3L1827.3 1306.3L1827.5 1307.6L1827.7 1308.5L1828.7 1306.9L1829 1305.5L1829.2 1303.7L1829.5 1301.8L1829.7 1299.7L1830 1297.6L1830.2 1295.7L1830.5 1294L1830.7 1292.9L1831.7 1294.7L1832 1296.7L1832.2 1299.3L1832.5 1302.2L1832.7 1305.2L1832.9 1308.3L1833.2 1311.4L1833.4 1314.3L1833.7 1317.1L1833.9 1319.8L1834.2 1322.2L1834.4 1324.4L1834.7 1326.4L1834.9 1328.2L1835.2 1329.8L1835.4 1331.2L1835.7 1332.5L1835.9 1333.6L1836.2 1334.5L1836.4 1335.3L1836.7 1336.1L1836.9 1336.7L1837.4 1337.7L1837.9 1338.5L1838.4 1339.2L1839.1 1339.9L1840.1 1340.7L1841.4 1341.3L1843.1 1342L1845.6 1342.6L1849.8 1343.2L1854 1343.5L1858.2 1343.7L1862.4 1343.9L1866.6 1344L1870.8 1344L1875 1344.1L1879.2 1344.1L1883.4 1344.2L1887.6 1344.2L1891.9 1344.2L1896.1 1344.2L1900.3 1344.2L1904.5 1344.2L1908.7 1344.2L1912.9 1344.2L1917.1 1344.2L1921.3 1344.2L1925.5 1344.2L1929.7 1344.1L1933.9 1344L1938.1 1343.8L1942.3 1343.2L1944.3 1342.6L1945.3 1341.9L1946.1 1341L1946.5 1340.2L1947 1339.3L1947.5 1338.1L1947.8 1337.4L1948 1336.6L1948.3 1335.8L1948.5 1334.9L1948.8 1334L1949 1333.1L1949.3 1332.2L1949.5 1331.3L1949.8 1330.4L1950 1329.7L1950.3 1329.1L1950.8 1328.4L1951.7 1329.5L1952 1330.2L1952.2 1331L1952.5 1331.8L1952.7 1332.7L1953 1333.5L1953.2 1334.4L1953.5 1335.1L1953.7 1335.8L1954 1336.5L1954.5 1337.6L1955 1338.4L1956 1339L1957.2 1338.3L1957.7 1337.6L1958.2 1336.9L1958.7 1336.3L1959.7 1335.6L1960.7 1336.6L1961.2 1337.5L1961.6 1338.4L1962.1 1339.4L1962.6 1340.2L1963.1 1341L1963.6 1341.6L1964.4 1342.3L1965.4 1342.9L1967.6 1343.5L1971.8 1343.9L1976 1344.1L1980.2 1344.2L1984.4 1344.2L1988.6 1344.2L1992.8 1344.3L1997 1344.3L2001.2 1344.3L2005.5 1344.3L2009.7 1344.3L2013.9 1344.3L2018.1 1344.2L2022.3 1344.1L2026.5 1343.9L2029 1343.2L2030.2 1342.6L2031.4 1341.9L2035.6 1342.4L2037.1 1343L2041.3 1342.8L2045.5 1343.4L2048.8 1344L2053 1344.2L2057.2 1344.3L2061.4 1344.3L2065.6 1344.3L2069.8 1344.3L2074 1344.3L2078.2 1344.3L2082.4 1344.3L2086.6 1344.3L2090.8 1344.3L2095 1344.3L2099.3 1344.3L2103.5 1344.3L2107.7 1344.3L2111.9 1344.3L2116.1 1344.3L2120.3 1344.3L2124.5 1344.2L2128.7 1344.2L2132.9 1344.2L2137.1 1344.2L2141.3 1344.1L2145.5 1344.1L2149.7 1344L2154 1343.9L2158.2 1343.7L2162.4 1343.3L2165.6 1342.6L2167.6 1341.9L2168.8 1341.2L2169.5 1340.5L2170 1339.9L2170.5 1339.1L2171 1338.2L2171.5 1337L2171.8 1336.3L2172 1335.5L2172.3 1334.7L2172.5 1333.8L2172.8 1332.8L2173 1331.8L2173.3 1330.6L2173.5 1329.4L2173.8 1328.2L2174 1326.9L2174.2 1325.5L2174.5 1324.1L2174.7 1322.7L2175 1321.3L2175.2 1320L2175.5 1318.7L2175.7 1317.6L2176 1316.7L2176.2 1316L2176.7 1315.3L2177.5 1316.3L2177.7 1317.2L2178 1318.2L2178.2 1319.3L2178.5 1320.6L2178.7 1321.9L2179 1323.2L2179.2 1324.5L2179.4 1325.8L2179.7 1327.1L2179.9 1328.3L2180.2 1329.4L2180.4 1330.4L2180.7 1331.3L2180.9 1332.2L2181.2 1333L2181.4 1333.6L2181.9 1334.7L2182.4 1335.4L2184.6 1334.7L2185.1 1333.8L2185.6 1332.8L2186.1 1331.6L2186.6 1330.5L2187.1 1329.5L2187.6 1328.9L2189.1 1329.9L2189.6 1331.2L2189.8 1331.8L2190.1 1332.6L2190.3 1333.3L2190.6 1334L2190.8 1334.7L2191.1 1335.4L2191.3 1336.1L2191.6 1336.7L2192.1 1337.8L2192.6 1338.8L2193.1 1339.7L2193.6 1340.3L2194.3 1341.2L2195.3 1341.9L2196.8 1342.6L2199.7 1343.2L2203.9 1343.6L2208.2 1343.8L2212.4 1343.9L2216.6 1343.9L2220.8 1343.9L2225 1343.9L2229.2 1343.9L2233.4 1343.8L2237.6 1343.7L2241.8 1343.6L2246 1343.4L2250.2 1343L2254.4 1342.4L2256.9 1341.7L2258.6 1341L2259.9 1340.4L2260.9 1339.7L2261.6 1338.9L2262.4 1338L2262.9 1337.2L2263.3 1336.2L2263.8 1335L2264.1 1334.3L2264.3 1333.6L2264.6 1332.7L2264.8 1331.8L2265.1 1330.7L2265.3 1329.6L2265.6 1328.4L2265.8 1327.1L2266.1 1325.6L2266.3 1324L2266.6 1322.4L2266.8 1320.6L2267.1 1318.6L2267.3 1316.6L2267.6 1314.5L2267.8 1312.3L2268.1 1310L2268.3 1307.6L2268.5 1305.2L2268.8 1302.8L2269 1300.5L2269.3 1298.2L2269.5 1296.1L2269.8 1294.1L2270 1292.4L2270.3 1291L2270.5 1290L2270.8 1289.4L2271.5 1290.1L2271.8 1291.1L2272 1292.5L2272.3 1294.1L2272.5 1296L2272.8 1298.1L2273 1300.3L2273.2 1302.6L2273.5 1304.8L2273.7 1307.1L2274 1309.3L2274.2 1311.4L2274.5 1313.4L2274.7 1315.4L2275 1317.2L2275.2 1318.9L2275.5 1320.4L2275.7 1321.8L2276 1323.1L2276.2 1324.2L2276.5 1325.2L2276.7 1326.1L2277 1326.8L2277.5 1327.9L2278.2 1328.5L2279.2 1327.7L2279.7 1326.7L2279.9 1326.1L2280.2 1325.4L2280.4 1324.6L2280.7 1323.7L2280.9 1322.8L2281.2 1321.8L2281.4 1320.8L2281.7 1319.8L2281.9 1318.8L2282.2 1317.8L2282.4 1316.9L2282.7 1316.1L2282.9 1315.4L2283.4 1314.5L2284.4 1315.2L2284.6 1315.8L2284.9 1316.6L2285.1 1317.6L2285.4 1318.6L2285.6 1319.8L2285.9 1321L2286.1 1322.2L2286.4 1323.4L2286.6 1324.6L2286.9 1325.8L2287.1 1326.9L2287.4 1328L2287.6 1329.1L2287.9 1330.1L2288.1 1331L2288.3 1331.9L2288.6 1332.7L2288.8 1333.4L2289.1 1334.1L2289.3 1334.7L2289.8 1335.8L2290.3 1336.7L2290.8 1337.4L2291.6 1338.1L2295.5 1337.3L2296 1336.7L2296.5 1335.9L2297 1335L2297.5 1334.1L2298 1333L2298.5 1332L2299 1330.9L2299.5 1330L2300 1329.4L2302 1330.4L2302.5 1331.4L2302.9 1332.5L2303.4 1333.6L2303.9 1334.7L2304.4 1335.7L2304.9 1336.7L2305.4 1337.5L2305.9 1338.2L2306.7 1338.9L2307.9 1339.6L2310.4 1338.9L2311.1 1338.2L2311.9 1337.6L2312.6 1336.9L2315.8 1337.7L2316.6 1338.6L2317.1 1339.2L2317.8 1340.1L2318.5 1340.8L2319.3 1341.4L2320.3 1342.1L2321.8 1342.7L2324.7 1343.3L2328.9 1343.7L2333.1 1343.9L2337.4 1344L2341.6 1344.1L2345.8 1344.1L2350 1344.2L2354.2 1344.2L2358.4 1344.2L2362.6 1344.2L2366.8 1344.2L2371 1344.3L2375.2 1344.3L2379.4 1344.3L2383.6 1344.3L2383.9 1344.3" stroke="#f00" stroke-width="8.5" transform="translate(0,1.0)"/>
<path d="M184.1 1464.8L184.4 1465.1L184.7 1465L185 1464.4L185.3 1465.2L185.6 1464.1L185.9 1464.5L186.2 1463.4L186.4 1463.7L186.7 1464L187 1465.1L187.3 1464.8L187.6 1465.4L187.9 1462.1L188.2 1465.1L188.5 1464.4L188.8 1463.6L189.1 1466.4L189.4 1465.9L189.7 1465.6L190 1466.2L190.3 1466.4L190.6 1465.6L190.8 1463.9L191.1 1464.5L191.4 1465.1L191.7 1465.1L192 1466.7L192.3 1464.3L192.6 1464.6L192.9 1466.1L193.2 1464.8L193.5 1465.3L193.8 1465.7L194.1 1466.1L194.4 1465.7L194.7 1466L195 1464.5L195.2 1464.8L195.5 1464.9L195.8 1465.4L196.1 1465.5L196.4 1463.1L196.7 1466.9L197 1463.8L197.3 1464.7L197.6 1464.9L197.9 1465.6L198.2 1465.2L198.5 1466.2L198.8 1466.3L199.1 1465.2L199.4 1466.7L199.6 1464.1L199.9 1463.9L200.2 1468.3L200.5 1466.4L200.8 1464.6L201.1 1464.6L201.4 1464.7L201.7 1464.4L202 1463.9L202.3 1463.9L202.6 1462.9L202.9 1464.7L203.2 1463.9L203.5 1466.4L203.8 1464.9L204 1465.9L204.3 1463.3L204.6 1462.3L204.9 1464.1L205.2 1465.8L205.5 1464.7L205.8 1464.4L206.1 1464.4L206.4 1463.5L206.7 1463.8L207 1467.2L207.3 1463.2L207.6 1465L207.9 1465.2L208.2 1463.1L208.4 1464.8L208.7 1466L208.8 1470.1L208.9 1469.7L208.9 1468.2L209 1469L209 1465.9L209.1 1468.6L209.1 1469.4L209.1 1453L209.2 1470L209.2 1469.8L209.3 1465L209.3 1471.1L209.3 1464.6L209.4 1467.2L209.4 1478.5L209.4 1471.3L209.5 1468L209.5 1465L209.6 1469.9L209.6 1463.6L209.6 1468.9L209.7 1470.1L209.8 1466.4L209.8 1468.7L209.9 1470.7L209.9 1463.2L210 1468L210 1468.4L210.1 1468.9L210.1 1469.6L210.2 1464.9L210.2 1470.2L210.3 1468.6L210.3 1470.6L210.4 1468.2L210.5 1467L210.5 1465.4L210.5 1469.6L210.6 1470.4L210.8 1463.2L211.1 1465.4L211.4 1463.4L211.7 1464.6L212 1464.7L212.3 1465.2L212.6 1464.6L212.8 1465.4L213.1 1465.6L213.4 1465.1L213.7 1465.7L214 1464.7L214.3 1464.9L214.6 1465.2L214.9 1465.2L215.2 1465.2L215.5 1463.2L215.8 1464.9L216.1 1465.6L216.4 1465.3L216.7 1464.3L217 1465.2L217.2 1465.1L217.5 1465.2L217.8 1464.8L218.1 1464.6L218.4 1464.4L218.7 1466.6L219 1466L219.3 1467.5L219.6 1464L219.9 1463.7L220.2 1463.5L220.5 1464.6L220.8 1463.5L221.1 1464.6L221.4 1464.7L221.6 1466L221.9 1465.4L222.2 1465L222.5 1463.6L222.8 1462.8L223.1 1465.1L223.4 1464.2L223.7 1464.3L224 1465.3L224.3 1466.4L224.6 1465.3L224.9 1465.9L225.2 1464.7L225.5 1464.5L225.8 1464.5L226 1464.6L226.3 1464L226.6 1465.3L226.9 1463.4L227.2 1465.9L227.5 1464.2L227.8 1463.7L228.1 1465L228.4 1465.9L228.7 1463.7L229 1465.1L229.3 1463.7L229.6 1463.6L229.9 1464.3L230.2 1464.4L230.4 1463.3L230.7 1463.9L231 1465.4L231.3 1464.3L231.6 1463.9L231.9 1464.4L232.2 1464.4L232.5 1464.5L232.8 1464.5L233.1 1465.3L233.4 1465.8L233.7 1463.2L234 1465L234.3 1464.1L234.6 1465.9L234.8 1464.3L235.1 1465.3L235.4 1461.5L235.7 1465.6L236 1465.5L236.3 1463.5L236.6 1463.4L236.9 1466.6L237.2 1464.2L237.5 1463.6L237.8 1465.6L238.1 1463.8L238.4 1464.9L238.7 1465.5L239 1464.9L239.2 1465L239.5 1466L239.8 1462.4L240.1 1465.1L240.4 1465.4L240.7 1463.7L241 1464.6L241.3 1463.1L241.6 1464.8L241.9 1464.2L242.2 1464.5L242.5 1464.4L242.8 1464.7L243.1 1464.7L243.4 1462.9L243.6 1465L243.9 1465L244.2 1465.1L244.5 1464.2L244.8 1464.4L245.1 1463.8L245.4 1466.1L245.7 1464.6L246 1465.1L246.3 1465.1L246.6 1464.5L246.9 1466.6L247.2 1464.3L247.5 1464.3L247.8 1466L248 1464.7L248.3 1463L248.6 1465.1L248.9 1464.2L249.2 1464.9L249.5 1465.4L249.8 1465.5L250.1 1464.9L250.4 1463.2L250.7 1463.6L251 1465.2L251.3 1463.6L251.6 1464.6L251.9 1465.1L252.2 1464.1L252.4 1465.6L252.7 1466.2L253 1463.4L253.3 1466.6L253.6 1464.3L253.9 1466.3L254.2 1464.8L254.5 1465L254.8 1465.3L255.1 1466.9L255.4 1464.9L255.7 1464.8L256 1465.6L256.3 1464.9L256.6 1463.7L256.8 1465.5L257.1 1464.4L257.4 1465.6L257.7 1464.1L258 1464L258.3 1462.1L258.6 1463.7L258.9 1464.1L259.2 1463.2L259.5 1465.4L259.8 1463.3L260.1 1465.1L260.4 1465.1L260.7 1463.4L261 1464.3L261.2 1463.4L261.5 1466.1L261.8 1464.5L262.1 1465.4L262.4 1465.1L262.7 1466.7L263 1463.9L263.3 1464.6L263.6 1465.8L263.9 1466L264.2 1465.5L264.5 1463.4L264.8 1464.9L265.1 1465L265.4 1464.2L265.6 1464.6L265.9 1464.4L266.2 1463.7L266.5 1464.1L266.8 1463.5L267.1 1465.6L267.4 1464.4L267.7 1464.8L268 1464.2L268.3 1464.3L268.6 1464.9L268.9 1464.6L269.2 1463.4L269.5 1464.8L269.8 1465.5L270 1463.7L270.3 1463.3L270.6 1464.6L270.9 1464.4L271.2 1465.3L271.5 1464.8L271.8 1463.4L272.1 1463.7L272.4 1464.3L272.7 1464.8L273 1466.1L273.3 1464.3L273.6 1464L273.9 1463.4L274.2 1462.5L274.4 1464L274.7 1463.4L275 1465.5L275.3 1463.3L275.6 1463.7L275.9 1463.1L276.2 1463.8L276.5 1464L276.8 1462.9L277.1 1464.9L277.4 1463.6L277.7 1463.2L278 1465.2L278.3 1465.6L278.6 1464.2L278.8 1464.5L279.1 1463.9L279.4 1463.9L279.7 1465.3L280 1464.3L280.3 1463.5L280.6 1465.1L280.9 1465L281.2 1465.7L281.5 1463.8L281.8 1462.9L282.1 1466.1L282.4 1464L282.7 1463.7L283 1465.1L283.2 1464.9L283.5 1465.6L283.8 1465.4L284.1 1464.6L284.4 1464.2L284.7 1464.5L285 1463.7L285.3 1464.2L285.6 1465.6L285.9 1463L286.2 1463.3L286.5 1465.2L286.8 1462.7L287.1 1463.9L287.4 1464.2L287.6 1462.4L287.9 1466.9L288.2 1466L288.5 1463.8L288.8 1464.8L289.1 1465.4L289.4 1462.9L289.7 1463.8L290 1465.6L290.3 1464.8L290.6 1463.3L290.9 1462.5L291.2 1466.2L291.5 1463.9L291.8 1464.5L292 1465.8L292.3 1464.2L292.6 1465.5L292.9 1464.5L293.2 1462.2L293.5 1463.3L293.8 1462.9L294.1 1463.2L294.4 1463.4L294.7 1462.9L295 1464.9L295.3 1464.2L295.6 1462.9L295.9 1464.4L296.2 1464.1L296.4 1462.6L296.7 1462.3L297 1464.5L297.3 1464.8L297.6 1463.5L297.9 1463.8L298.2 1464.7L298.5 1463.4L298.8 1463.5L299.1 1463.9L299.4 1461L299.7 1462.4L300 1462.8L300.3 1462.6L300.6 1460.8L300.8 1462.5L301.1 1464.4L301.4 1463.5L301.7 1463.8L302 1464.5L302.3 1463.7L302.6 1463.6L302.9 1463.9L303.2 1464.4L303.5 1463.1L303.8 1465.5L304.1 1463.2L304.4 1464L304.7 1463.8L305 1466.4L305.2 1462.5L305.5 1465.9L305.8 1464.9L306.1 1463.6L306.4 1464.8L306.7 1464.6L307 1466.3L307.3 1464.6L307.6 1463.8L307.9 1463.4L308.2 1464.3L308.5 1463.8L308.8 1463.6L309.1 1464.7L309.4 1464.7L309.6 1462L309.9 1464.8L310.2 1462.9L310.5 1464.1L310.8 1462.7L311.1 1464.9L311.4 1463.6L311.7 1463.9L312 1464.4L312.3 1463.7L312.6 1465L312.9 1464.2L313.2 1464.5L313.5 1463.3L313.8 1464.1L314 1465.5L314.3 1464.5L314.6 1464.3L314.9 1465L315.2 1462.9L315.5 1463.8L315.8 1463.2L316.1 1464.9L316.4 1464.4L316.7 1463.1L317 1465.5L317.3 1463.7L317.6 1464L317.9 1464.6L318.2 1464L318.4 1465.1L318.7 1463.8L319 1465.2L319.3 1465.3L319.6 1462.7L319.9 1464.8L320.2 1466.1L320.5 1463L320.8 1464.7L321.1 1467.5L321.4 1464.2L321.7 1463.3L322 1463.8L322.3 1462.3L322.6 1464.1L322.8 1463.4L323.1 1465.1L323.4 1463.9L323.7 1462.7L324 1463.9L324.3 1463.9L324.6 1466.2L324.9 1464.6L325.2 1465.6L325.5 1463.5L325.8 1465L326.1 1463.9L326.4 1465.3L326.7 1462.4L327 1465.4L327.2 1464.1L327.5 1461.8L327.8 1464.1L328.1 1465.2L328.4 1463.6L328.7 1463.4L329 1463.7L329.3 1466.5L329.6 1464.3L329.9 1466.7L330.2 1462.9L330.5 1464.7L330.8 1465.4L331.1 1464.4L331.4 1464.4L331.6 1466L331.9 1463.3L332.2 1465.1L332.5 1466.5L332.8 1463.2L333.1 1463.1L333.4 1463.4L333.7 1464.1L334 1465.7L334.3 1463.8L334.6 1462.9L334.9 1463.8L335.2 1463L335.5 1465.2L335.8 1463.4L336 1463.6L336.3 1465.9L336.6 1466.1L336.9 1465.1L337.2 1464.4L337.5 1464L337.8 1464.7L338.1 1464.7L338.4 1464.8L338.7 1464.7L339 1464.3L339.3 1464.3L339.6 1464.9L339.9 1464.8L340.2 1465.5L340.4 1464.1L340.7 1465.2L341 1463L341.3 1464.7L341.6 1464.3L341.9 1465.2L342.2 1464.8L342.5 1464.2L342.8 1464.3L343.1 1465L343.4 1465.5L343.7 1464.4L344 1464.4L344.3 1464.1L344.6 1463.4L344.8 1464.9L345.1 1466.4L345.4 1464.5L345.7 1466.1L346 1465.8L346.3 1463.6L346.6 1464.2L346.9 1465.5L347.2 1465.6L347.5 1465.1L347.8 1466.8L348.1 1464.6L348.4 1465.4L348.7 1463.2L349 1466.1L349.2 1464.1L349.5 1465.7L349.8 1463.8L350.1 1465.8L350.4 1464.2L350.7 1465.4L351 1465.9L351.3 1465.2L351.6 1464.5L351.9 1464.6L352.2 1463.5L352.5 1464.4L352.8 1467.8L353.1 1465.5L353.4 1467.1L353.6 1465.7L353.9 1464.7L354.2 1466.7L354.5 1466.6L354.8 1465.2L355.1 1465.7L355.4 1463.8L355.7 1465L356 1464.8L356.3 1463.6L356.6 1465.8L356.9 1465.4L357.2 1466.4L357.5 1465.2L357.8 1464.3L358 1463.9L358.3 1465.3L358.6 1465.9L358.9 1465.9L359.2 1466.4L359.5 1464.8L359.8 1463.6L360.1 1467.4L360.4 1467.2L360.7 1463.4L361 1466.4L361.3 1464.5L361.6 1466.1L361.9 1464L362.2 1463.8L362.4 1464.3L362.7 1463.7L363 1464.4L363.3 1464L363.6 1462.7L363.9 1463.4L364.2 1465.1L364.5 1465.3L364.8 1464.8L365.1 1464.8L365.4 1464.4L365.7 1465.1L366 1463.8L366.3 1464.4L366.6 1464.2L366.8 1464.4L367.1 1463.9L367.4 1465.7L367.7 1462.9L368 1464.1L368.3 1464L368.6 1463.9L368.9 1463.5L369.2 1463.7L369.5 1464.2L369.8 1464.6L370.1 1466L370.4 1464.2L370.7 1464.7L371 1464.9L371.2 1462.3L371.5 1466.5L371.8 1464.4L372.1 1463.3L372.4 1463.7L372.7 1463.3L373 1465.8L373.3 1465.6L373.6 1464L373.9 1465L374.2 1463L374.5 1464.4L374.8 1464.3L375.1 1464.1L375.4 1464.6L375.6 1464.3L375.9 1465L376.2 1464.5L376.5 1464.9L376.8 1464.1L377.1 1466L377.4 1466L377.7 1464.1L378 1464.3L378.3 1465.5L378.6 1464.9L378.9 1465.7L379.2 1462.6L379.5 1466.2L379.8 1463L380 1465.5L380.3 1464.2L380.6 1464.8L380.9 1464.9L381.2 1463.6L381.5 1463.7L381.8 1464.9L382.1 1465.5L382.4 1462.5L382.7 1463.2L383 1464.4L383.3 1464.9L383.6 1464.3L383.9 1464.5L384.2 1463.3L384.4 1465.5L384.7 1464.5L385 1465.4L385.3 1463.4L385.6 1462.9L385.9 1464.7L386.2 1464.1L386.5 1463.4L386.8 1465L387.1 1465.8L387.4 1463.8L387.7 1464.4L388 1465.1L388.3 1463.3L388.6 1464.6L388.8 1466.5L389.1 1464.3L389.4 1464.8L389.7 1462.8L390 1464.7L390.3 1464.8L390.6 1464.2L390.9 1464.5L391.2 1466.1L391.5 1464.7L391.8 1465.2L392.1 1463.5L392.4 1462.7L392.7 1466.2L393 1466.1L393.2 1466L393.5 1465.8L393.8 1465.9L394.1 1465.1L394.4 1463.9L394.7 1466.3L395 1466.5L395.3 1466.8L395.6 1464L395.9 1463.8L396.2 1466.5L396.5 1466.5L396.8 1464.8L397.1 1463.7L397.4 1463.8L397.6 1464.7L397.9 1464.3L398.2 1464.5L398.5 1465.3L398.8 1462.9L399.1 1464.8L399.4 1465.9L399.7 1465.3L400 1466.4L400.3 1464.8L400.6 1463.6L400.9 1465.9L401.2 1463.4L401.5 1462.4L401.8 1464.3L402 1465.8L402.3 1465.5L402.6 1464.8L402.9 1465.7L403.2 1465.6L403.5 1464.6L403.8 1464.5L404.1 1463.6L404.4 1465.4L404.7 1462.5L405 1463.1L405.3 1463.3L405.6 1464.8L405.9 1462.5L406.2 1464.5L406.4 1462.4L406.7 1463L407 1465L407.3 1464.5L407.6 1462.2L407.9 1463.2L408.2 1464.5L408.5 1464.1L408.8 1464.2L409.1 1465.2L409.4 1464.6L409.7 1465L410 1464.9L410.3 1464.2L410.6 1465.6L410.8 1464L411.1 1464.7L411.4 1464L411.7 1463.8L412 1463.5L412.3 1464.1L412.6 1464.1L412.9 1465L413.2 1464.2L413.5 1465.5L413.8 1465L414.1 1463.9L414.4 1464.7L414.7 1464.2L415 1465.6L415.2 1463.2L415.5 1465.1L415.8 1464.2L416.1 1464.8L416.4 1463.6L416.7 1464.9L417 1465.5L417.3 1466.5L417.6 1464.8L417.9 1465.8L418.2 1464.2L418.5 1463.3L418.8 1466.9L419.1 1465.9L419.4 1464.4L419.6 1463.4L419.9 1464.3L420.2 1464.3L420.5 1463.9L420.8 1464L421.1 1462.9L421.4 1464L421.7 1465.9L422 1465L422.3 1464.3L422.6 1465.3L422.9 1464.7L423.2 1464.9L423.5 1465.1L423.8 1463.7L424 1464.8L424.3 1465.5L424.6 1465.2L424.9 1464.5L425.2 1462.3L425.5 1464.1L425.8 1463L426.1 1464L426.4 1466.9L426.7 1464.2L427 1465.4L427.3 1465.9L427.6 1465.5L427.9 1462.5L428.2 1465.9L428.4 1465.1L428.7 1463.3L429 1463.7L429.3 1466L429.6 1464.3L429.9 1464.7L430.2 1464.4L430.5 1463.3L430.8 1464.7L431.1 1464.4L431.4 1462.6L431.7 1465.9L432 1464.3L432.3 1463.7L432.6 1465.3L432.8 1464.7L433.1 1465.2L433.4 1463.6L433.7 1464.4L434 1462.9L434.3 1462.6L434.6 1463.6L434.9 1464.1L435.2 1463.4L435.5 1463.6L435.8 1464.9L436.1 1462.5L436.4 1463.3L436.7 1462.6L437 1464.7L437.2 1462.4L437.5 1461L437.8 1462.5L438.1 1464.4L438.4 1462.9L438.7 1462.8L439 1462.6L439.3 1463.2L439.6 1462.4L439.9 1463.3L440.2 1462.5L440.5 1463.3L440.8 1462.5L441.1 1461.7L441.4 1463.3L441.6 1461.9L441.9 1463.4L442.2 1463L442.5 1462.9L442.8 1461.4L443.1 1463.4L443.4 1461.4L443.7 1464.3L444 1462.7L444.3 1461.6L444.6 1461.7L444.9 1463.5L445.2 1463.6L445.5 1461.5L445.8 1463.6L446 1461.7L446.3 1462.8L446.6 1462.2L446.9 1459.7L447.2 1460.4L447.5 1461.1L447.8 1463.2L448.1 1461.5L448.4 1461.7L448.7 1461.8L449 1460.3L449.3 1463.4L449.6 1461.2L449.9 1461.3L450.2 1462.1L450.4 1459.4L450.7 1462.1L451 1460.5L451.3 1460.3L451.6 1462.4L451.9 1461.4L452.2 1460.7L452.5 1458.6L452.8 1458L453.1 1457.8L453.4 1457.7L453.7 1459.8L454 1456.8L454.3 1456.8L454.6 1454.5L454.8 1453.6L455.1 1452L455.4 1452.7L455.7 1451.9L456 1453.1L456.3 1451.3L456.6 1452.1L456.9 1449.6L457.2 1451.3L457.5 1450.2L457.8 1450.8L458.1 1450.7L458.4 1450.3L458.7 1451.9L459 1451.7L459.2 1453.3L459.5 1451.3L459.8 1453.5L460.1 1452.1L460.4 1450.9L460.5 1476.5L460.5 1480L460.6 1482.7L460.7 1486.1L460.7 1455.4L460.7 1482.9L460.8 1479.4L460.9 1489.9L460.9 1491.5L461 1478.1L461 1454.1L461 1491.1L461.1 1491.2L461.2 1482.5L461.2 1479.9L461.3 1453.1L461.3 1492.9L461.4 1492.7L461.4 1486.1L461.5 1487.5L461.6 1482.3L461.6 1451.7L461.6 1407.6L461.6 1483.6L461.7 1479.9L461.7 1465L461.8 1484.4L461.8 1480.1L461.9 1510.6L461.9 1484.7L461.9 1465.3L461.9 1488.3L462 1465L462 1478.9L462.1 1485.3L462.1 1486.8L462.2 1464.5L462.2 1493.6L462.3 1482.7L462.3 1482.3L462.4 1491.8L462.5 1492.7L462.5 1465.6L462.5 1487L462.6 1488.8L462.6 1488.3L462.7 1490.8L462.8 1464.4L462.8 1480.9L462.8 1481.3L462.9 1485.7L463 1481L463 1481.4L463.1 1466.2L463.1 1490.6L463.2 1487.5L463.2 1485.1L463.3 1492.1L463.4 1463.9L463.4 1484.9L463.4 1492.1L463.5 1482.6L463.5 1482.2L463.6 1486.4L463.6 1467.9L463.7 1485.2L463.7 1489.3L463.8 1482.1L463.9 1484.6L463.9 1489.5L463.9 1466.9L464 1479.4L464.1 1492.6L464.1 1492.9L464.2 1480.3L464.2 1463.1L464.3 1478.2L464.3 1479.4L464.4 1488.2L464.4 1483.6L464.5 1483.3L464.5 1464.8L464.6 1486.5L464.6 1489L464.7 1484.6L464.8 1490.8L464.8 1465.9L464.8 1481L464.9 1484.9L465 1485.6L465 1493L465.1 1489.6L465.1 1462.8L465.2 1485.2L465.2 1478.6L465.3 1489.6L465.3 1478.2L465.4 1464L465.4 1482.3L465.5 1483.5L465.5 1487.3L465.6 1477.4L465.7 1476.3L465.7 1463.9L466 1465.4L466.3 1464.4L466.6 1464.5L466.9 1466.7L467.2 1464.3L467.5 1465.2L467.8 1463.7L468 1463.6L468.3 1465.7L468.6 1465.6L468.9 1464.8L469.2 1464.2L469.5 1465.3L469.8 1465.1L470.1 1464.3L470.4 1464.4L470.7 1463.6L471 1464.7L471.3 1465.7L471.6 1466.5L471.9 1463.8L472.2 1465L472.4 1465L472.7 1465L473 1466.4L473.3 1465.2L473.6 1467.4L473.9 1465.1L474.2 1465.6L474.5 1462.7L474.8 1464.1L475.1 1465L475.4 1464.6L475.7 1463.8L476 1465.4L476.3 1465L476.6 1465L476.8 1462L477.1 1464.3L477.4 1466.5L477.7 1463.8L478 1461.9L478.3 1465.5L478.6 1460.9L478.9 1464.5L479.2 1463.4L479.5 1465.2L479.8 1464.8L480.1 1465.8L480.4 1465.5L480.7 1466.6L481 1463.4L481.2 1465.9L481.5 1464.2L481.8 1464.3L482.1 1465.4L482.4 1464.7L482.7 1464.7L483 1465.2L483.3 1464.6L483.6 1464.6L483.9 1465.9L484.2 1466.3L484.5 1465.7L484.8 1464.8L485.1 1463.5L485.4 1463.5L485.6 1464.7L485.9 1464.3L486.2 1465.2L486.5 1464.3L486.8 1465.2L487.1 1465L487.4 1465.7L487.7 1465.4L488 1463.3L488.3 1466.6L488.6 1465.5L488.9 1466.2L489.2 1464.5L489.5 1463.7L489.8 1465.9L490 1468.6L490.3 1465L490.6 1465.2L490.9 1467.7L491.2 1466.2L491.5 1466.1L491.8 1468.4L492.1 1465.3L492.4 1465.7L492.7 1465.8L493 1467.2L493.3 1466.9L493.6 1466.8L493.9 1465.7L494.2 1467.2L494.4 1464.7L494.7 1465.9L495 1468.6L495.3 1464.8L495.6 1466.1L495.9 1466.8L496.2 1466.2L496.5 1468.3L496.8 1466.3L497.1 1469.2L497.4 1467.8L497.7 1465.4L498 1465.4L498.3 1467.1L498.6 1467.9L498.8 1466L499.1 1467.2L499.4 1466.9L499.7 1466.6L500 1468.4L500.3 1466.4L500.6 1469.5L500.9 1465.9L501.2 1469L501.5 1468L501.8 1468L502.1 1466.7L502.4 1466.7L502.7 1467L503 1467L503.2 1467.3L503.5 1467.7L503.8 1469.8L504.1 1470.1L504.4 1470.1L504.7 1467.8L505 1468L505.3 1467.9L505.6 1467.5L505.9 1468L506.2 1469L506.5 1469.5L506.8 1470L507.1 1466.7L507.4 1467.1L507.6 1469.6L507.9 1468.5L508.2 1467.8L508.5 1466.4L508.8 1468.6L509.1 1467.6L509.4 1466.6L509.7 1469.5L510 1468.5L510.3 1467.7L510.6 1468.5L510.9 1465.4L511.2 1466.7L511.5 1467.2L511.8 1468.3L512 1466.5L512.3 1466.7L512.6 1467.8L512.9 1467.7L513.2 1468.9L513.5 1467.4L513.8 1466.3L514.1 1466.1L514.4 1466.4L514.7 1466.1L515 1467.4L515.3 1467.3L515.6 1465.4L515.9 1466.2L516.2 1467.4L516.4 1466L516.7 1465.6L517 1465.6L517.3 1466.3L517.6 1466.9L517.9 1465.7L518.2 1464.4L518.5 1465.9L518.8 1466.7L519.1 1465.6L519.4 1467L519.7 1465.4L520 1465.8L520.3 1464.5L520.6 1465.4L520.8 1464.4L521.1 1463L521.4 1465.7L521.7 1466.3L522 1464.9L522.3 1465.3L522.6 1465L522.9 1466L523.2 1464.6L523.5 1465L523.8 1467.3L524.1 1465.2L524.4 1464.7L524.7 1463.7L525 1465.6L525.2 1465.8L525.5 1463.8L525.8 1465.6L526.1 1464.8L526.4 1464.4L526.7 1464L527 1464.7L527.3 1466L527.6 1463.8L527.9 1465.4L528.2 1465.5L528.5 1462.8L528.8 1464.1L529.1 1466.1L529.4 1465.5L529.6 1465.3L529.9 1465.8L530.2 1467L530.5 1464.1L530.8 1464.1L531.1 1464.7L531.4 1465.3L531.7 1464.6L532 1464.2L532.3 1466L532.6 1465.1L532.9 1465.3L533.2 1463.9L533.5 1464.4L533.8 1465.9L534 1465.2L534.3 1462.8L534.6 1465.5L534.9 1464.5L535.2 1465.4L535.5 1463.5L535.8 1464.8L536.1 1465L536.4 1465.8L536.7 1464.8L537 1463.7L537.3 1463.8L537.6 1465.9L537.9 1462.8L538.2 1464.7L538.4 1465.6L538.7 1464.5L539 1465.2L539.3 1465.1L539.6 1465.1L539.9 1464.6L540.2 1465.1L540.5 1466.2L540.8 1463.8L541.1 1464.7L541.4 1462.8L541.7 1463.5L542 1463.4L542.3 1463.8L542.6 1462.7L542.8 1464.2L543.1 1464.9L543.4 1463.6L543.7 1466.8L544 1464.2L544.3 1463.6L544.6 1464.4L544.9 1462.8L545.2 1463.1L545.5 1463.9L545.8 1464.4L546.1 1462.8L546.4 1464.6L546.7 1464.3L547 1463.1L547.2 1463.2L547.5 1461.7L547.8 1464.1L548.1 1465.9L548.4 1463.2L548.7 1462.5L549 1464.1L549.3 1462.3L549.6 1462.1L549.9 1464.5L550.2 1464.3L550.5 1465L550.8 1463.1L551.1 1462.9L551.4 1463L551.6 1464.8L551.9 1464.3L552.2 1465L552.5 1465.1L552.8 1464.9L553.1 1465.3L553.4 1463.9L553.7 1463.4L554 1463.3L554.3 1463.9L554.6 1464.7L554.9 1464.2L555.2 1463.4L555.5 1464.2L555.8 1463.9L556 1464.3L556.3 1464.3L556.6 1463.8L556.9 1465.1L557.2 1462.7L557.5 1465.3L557.8 1463.2L558.1 1465.2L558.4 1462.1L558.7 1462.7L559 1464.3L559.3 1464L559.6 1464.6L559.9 1463.3L560.2 1463L560.4 1460.6L560.7 1464.5L561 1461.7L561.3 1463.5L561.6 1462.5L561.9 1461.8L562.2 1462.1L562.5 1462.2L562.8 1462.8L563.1 1462.6L563.4 1462.2L563.7 1461L564 1463.5L564.3 1462.3L564.6 1462.8L564.8 1462.3L565.1 1461.9L565.4 1459.5L565.7 1458.2L566 1458.7L566.3 1460.8L566.6 1459.1L566.9 1460L567.2 1457.9L567.5 1456.5L567.8 1456.6L568.1 1455.8L568.4 1456.1L568.7 1457.1L569 1456.5L569.2 1453.7L569.5 1452.2L569.8 1450.5L570.1 1451.1L570.4 1449.7L570.7 1448.5L571 1446.8L571.3 1446.8L571.6 1447L571.9 1443.8L572.2 1444L572.5 1443.5L572.8 1445L573.1 1443.7L573.4 1445.8L573.6 1446.8L573.9 1445.7L574.2 1446.6L574.5 1446.2L574.8 1445.8L575.1 1447.5L575.4 1445.8L575.7 1448.3L575.7 1495.3L575.8 1489.4L575.9 1497.1L575.9 1487.7L576 1493.7L576 1447L576 1488.7L576.1 1491.7L576.2 1497.8L576.2 1493.2L576.3 1449.1L576.3 1518.2L576.4 1515.2L576.4 1491.9L576.5 1501.2L576.6 1515.1L576.6 1447.5L576.6 1498.2L576.7 1520L576.8 1496.3L576.8 1502.3L576.9 1448L576.9 1512.1L576.9 1331L576.9 1498.5L577 1503.7L577 1465L577.1 1514.5L577.1 1506.4L577.2 1464.7L577.2 1556.6L577.2 1506.8L577.3 1507.9L577.3 1465L577.3 1499L577.4 1501.9L577.5 1505.3L577.5 1463.9L577.5 1492.9L577.6 1503.4L577.6 1506.2L577.7 1500.5L577.8 1466.3L577.8 1504.7L577.8 1513.7L577.9 1515.8L578 1492.4L578 1494.8L578 1464.2L578.1 1489.7L578.2 1509.7L578.2 1517.9L578.3 1492L578.3 1465.1L578.4 1503.2L578.4 1509.6L578.5 1494.8L578.5 1490.9L578.6 1501.6L578.6 1464L578.7 1513.1L578.7 1492.9L578.8 1489.7L578.9 1492.8L578.9 1463.8L578.9 1495.6L579 1513.5L579.1 1517.3L579.1 1516L579.2 1510.9L579.2 1464.6L579.3 1496.7L579.3 1499.7L579.4 1504L579.4 1507.7L579.5 1519.9L579.5 1464.8L579.6 1513.8L579.6 1505.4L579.7 1518.8L579.8 1513.2L579.8 1465.5L579.8 1507.7L579.9 1501L580 1501.7L580 1494.8L580.1 1519L580.1 1463.8L580.2 1499.2L580.2 1502.9L580.3 1516L580.3 1512.7L580.4 1465.2L580.4 1512.4L580.5 1495.7L580.5 1508.2L580.6 1501.9L580.7 1495.4L580.7 1464.1L580.7 1502.4L580.8 1516.7L580.9 1503.8L580.9 1491.2L581 1466L581 1507.9L581 1493.6L581.1 1494.7L581.2 1495.9L581.3 1463.1L581.6 1465.5L581.9 1463.3L582.2 1464.8L582.4 1463.7L582.7 1464.3L583 1463.4L583.3 1463.8L583.6 1462L583.9 1462.2L584.2 1461.6L584.5 1459.9L584.8 1461.8L585.1 1459.3L585.4 1460.2L585.7 1461.9L586 1460L586.3 1461.1L586.6 1459.7L586.8 1462.7L587.1 1462.8L587.4 1463.3L587.7 1466L588 1464L588.3 1465.8L588.6 1463.7L588.9 1463.7L589.2 1465.5L589.5 1467.3L589.8 1465.6L590.1 1465.7L590.4 1465.3L590.7 1466.3L591 1467.2L591.2 1466L591.5 1466.8L591.8 1464L592.1 1466.4L592.4 1466.4L592.7 1465.7L593 1467L593.3 1466.3L593.6 1466L593.9 1466.4L594.2 1466.3L594.5 1464.8L594.8 1465.7L595.1 1467.7L595.4 1467.2L595.6 1466.1L595.9 1467.8L596.2 1467.5L596.5 1468L596.8 1467.8L597.1 1469L597.4 1469.2L597.7 1470.2L598 1469.2L598.3 1470.7L598.6 1467.8L598.9 1469.6L599.2 1469.5L599.5 1468.1L599.8 1468.6L600 1468L600.3 1467.6L600.6 1467.6L600.9 1467.2L601.2 1466.5L601.5 1464.3L601.8 1465.9L602.1 1465.4L602.4 1465.2L602.7 1464L603 1462.6L603.3 1465.6L603.6 1464.1L603.9 1464.7L604.2 1465L604.4 1464.3L604.7 1466L605 1463.9L605.3 1464.5L605.6 1465.7L605.9 1463L606.2 1463.8L606.5 1463.5L606.8 1466.1L607.1 1464.9L607.4 1465.3L607.7 1464.2L608 1463.6L608.3 1466.9L608.6 1464.9L608.8 1465.1L609.1 1464L609.4 1465.2L609.7 1466.4L610 1465.4L610.3 1466.3L610.6 1466.1L610.9 1465.1L611.2 1465.6L611.5 1464.8L611.6 1468.1L611.6 1468L611.7 1471.3L611.8 1473.1L611.8 1466.7L611.8 1470.5L611.9 1469.9L612 1472.5L612 1468.4L612.1 1462.7L612.1 1469.8L612.1 1445L612.2 1470.3L612.2 1465L612.2 1471.2L612.3 1468.3L612.4 1470.9L612.4 1463.8L612.4 1483L612.4 1470.7L612.5 1465L612.5 1470.6L612.5 1470.8L612.6 1469.2L612.7 1464.4L612.7 1472.5L612.7 1471.1L612.8 1472.1L612.9 1471.2L612.9 1473.6L613 1466.3L613 1471.6L613.1 1468.6L613.1 1471.3L613.2 1470L613.2 1467.2L613.3 1470.8L613.3 1472.1L613.4 1470.5L613.4 1470.8L613.5 1469.6L613.5 1465.9L613.6 1471.3L613.6 1472.9L613.7 1470.7L613.8 1470.9L613.8 1470.5L613.8 1465.3L613.9 1469.2L614 1468.6L614 1469.3L614.1 1468.9L614.1 1462.8L614.2 1470L614.4 1463.8L614.7 1465.5L615 1463.6L615.3 1463.6L615.6 1464.8L615.9 1463.5L616.2 1464.4L616.5 1465.5L616.8 1465.9L617.1 1464.9L617.4 1463.9L617.6 1466.3L617.9 1466.6L618.2 1464.3L618.5 1467.8L618.8 1463L619.1 1465.2L619.4 1464L619.7 1462.9L620 1466.2L620.3 1465.8L620.6 1462.6L620.9 1465.2L621.2 1465.1L621.5 1464.7L621.8 1463.9L622 1463.6L622.3 1464.9L622.6 1465.4L622.9 1465.1L623.2 1464.8L623.5 1463.8L623.8 1465.1L624.1 1463.4L624.4 1466.2L624.7 1464.9L625 1463.5L625.3 1463.9L625.6 1464.8L625.9 1466L626.2 1465.8L626.4 1465.2L626.7 1464.7L627 1465.3L627.3 1466.7L627.6 1466L627.9 1464.7L628.2 1464.3L628.5 1466.7L628.8 1465.5L629.1 1466.8L629.4 1465.7L629.7 1461.4L630 1465L630.3 1465.5L630.6 1465.8L630.8 1466.5L631.1 1467L631.4 1464.9L631.7 1465.2L632 1463.3L632.3 1466.4L632.6 1464.1L632.9 1463.3L633.2 1466.6L633.5 1463.7L633.8 1466L634.1 1463.7L634.4 1462.8L634.7 1464.3L635 1464L635.2 1464.9L635.5 1463.9L635.8 1463.1L636.1 1464.4L636.4 1464.3L636.7 1463.8L637 1463.5L637.3 1465.9L637.6 1464L637.9 1464.9L638.2 1463.7L638.5 1463.3L638.8 1464L639.1 1462.9L639.4 1465.1L639.6 1464.2L639.9 1464.2L640.2 1462.3L640.5 1461.3L640.8 1460.2L641.1 1459.9L641.4 1457.9L641.7 1457.9L642 1457L642.3 1458.9L642.6 1458.6L642.9 1461L643.2 1464.5L643.5 1463.6L643.8 1465.6L644 1463.6L644.3 1463.3L644.6 1464.8L644.9 1464.3L645.2 1466.1L645.5 1467L645.8 1465.2L646.1 1464.8L646.4 1466.1L646.7 1464.5L647 1464.3L647.3 1464L647.6 1463.1L647.9 1464L648.2 1465.2L648.4 1464.8L648.7 1464.2L649 1465.9L649.3 1463.8L649.6 1464.1L649.9 1465.3L650.2 1465.6L650.5 1461L650.8 1463.9L651.1 1463.7L651.4 1462.8L651.7 1463.8L652 1464.7L652.3 1464.2L652.6 1465.9L652.8 1464.1L653.1 1466.4L653.4 1464.3L653.7 1464.3L654 1466.5L654.3 1463L654.6 1466.2L654.9 1463.9L655.2 1465.6L655.5 1464.5L655.8 1465.4L656.1 1462.2L656.4 1463.6L656.7 1463L657 1464.1L657.2 1464.2L657.5 1464.7L657.8 1465.2L658.1 1464.4L658.4 1464.9L658.7 1465.2L659 1466.5L659.3 1465.5L659.6 1464.4L659.9 1465.6L660.2 1464.6L660.5 1465.3L660.8 1466.2L661.1 1465.9L661.4 1465.8L661.6 1465.4L661.9 1465.2L662.2 1463.9L662.5 1466.2L662.8 1467.3L663.1 1464.4L663.4 1465.5L663.7 1465L664 1462.3L664.3 1463.5L664.6 1464.5L664.9 1464.1L665.2 1465.1L665.5 1464.3L665.8 1465.8L666 1465.9L666.3 1465.6L666.6 1463.5L666.9 1463.4L667.2 1465.7L667.5 1464L667.8 1465.3L668.1 1464.1L668.4 1465.5L668.7 1464.2L669 1465.4L669.3 1465.7L669.6 1465.3L669.9 1465L670.2 1465.7L670.4 1466.4L670.7 1463.3L671 1465.4L671.3 1466.9L671.6 1467.3L671.9 1468L672.2 1465.6L672.5 1463.6L672.8 1466.8L673.1 1465.4L673.4 1466.9L673.7 1464.1L674 1464.8L674.3 1464.8L674.6 1463.6L674.8 1463.3L675.1 1464L675.4 1465.6L675.7 1466.3L676 1466L676.3 1466.7L676.6 1463L676.9 1465.2L677.2 1464.8L677.5 1464.9L677.8 1462.9L678.1 1465.7L678.4 1463.9L678.7 1464.6L679 1465.1L679.2 1466.9L679.5 1463.9L679.8 1465.6L680.1 1465.4L680.4 1464.6L680.7 1464.9L681 1463.9L681.3 1465.9L681.6 1465.2L681.9 1465.2L682.2 1465.4L682.5 1464.7L682.8 1465.6L683.1 1464.1L683.4 1466.2L683.6 1466.9L683.9 1465.5L684.2 1464.1L684.5 1465.8L684.8 1465.9L685.1 1465.7L685.4 1465.2L685.7 1465.5L686 1465L686.3 1467.1L686.6 1463.9L686.9 1464.9L687.2 1466.4L687.5 1464.2L687.8 1465.2L688 1464L688.3 1466.7L688.6 1463.7L688.9 1465.4L689.2 1467.4L689.5 1464.6L689.8 1465.6L690.1 1466.3L690.4 1465.6L690.7 1467.3L691 1464.7L691.3 1465.5L691.6 1465.5L691.9 1463.7L692.2 1465.2L692.4 1465.8L692.7 1466L693 1465L693.3 1463.7L693.6 1465.3L693.9 1465.8L694.2 1463.7L694.5 1464.6L694.8 1464.6L695.1 1462.2L695.4 1465.6L695.7 1464.1L696 1466.1L696.3 1464.7L696.6 1463.9L696.8 1463.3L697.1 1465.7L697.4 1463.5L697.7 1463.5L698 1464.5L698.3 1461.6L698.6 1464.2L698.9 1465.2L699.2 1463.7L699.5 1466.1L699.8 1462.7L700.1 1463.2L700.4 1464.7L700.7 1463.6L701 1463.7L701.2 1462.3L701.5 1465L701.8 1465.7L702.1 1466.3L702.4 1464.6L702.7 1466L703 1464.7L703.3 1464.1L703.6 1464.9L703.9 1465.4L704.2 1463.2L704.5 1464.6L704.8 1464.1L705.1 1463.6L705.4 1465.9L705.6 1465.6L705.9 1462.1L706.2 1464.8L706.5 1465.8L706.8 1465L707.1 1465.4L707.4 1466.1L707.7 1465.3L708 1465L708.3 1464.9L708.6 1464.3L708.9 1466.7L709.2 1466.6L709.5 1464.3L709.8 1465.6L710 1464L710.3 1465L710.6 1466.6L710.9 1464.5L711.2 1466L711.5 1464.7L711.8 1463.8L712.1 1462.9L712.4 1465.1L712.7 1464.5L713 1464.9L713.3 1464.4L713.6 1467.8L713.9 1465.6L714.2 1464.9L714.4 1464.7L714.7 1465.9L715 1464.3L715.3 1464.2L715.6 1465.2L715.9 1465.5L716.2 1465.6L716.5 1465.2L716.8 1464L717.1 1463.8L717.4 1466L717.7 1466.8L718 1467L718.3 1465.5L718.6 1466.8L718.8 1467.2L719.1 1467.4L719.4 1467.7L719.7 1468.1L720 1468.5L720.3 1467.5L720.6 1466L720.9 1465.4L721.2 1465.7L721.5 1465.6L721.8 1463.5L722.1 1465.2L722.4 1464.6L722.7 1465.2L723 1465.8L723.2 1466.4L723.5 1465.4L723.8 1465.7L724.1 1464L724.4 1465.9L724.7 1465.1L725 1463.9L725.3 1464.7L725.6 1464L725.9 1463.7L726.2 1466.3L726.5 1465L726.8 1465.5L727.1 1463L727.4 1464.7L727.6 1464.1L727.9 1462.8L728.2 1464.9L728.5 1464.3L728.8 1464L729.1 1464.6L729.4 1463.1L729.7 1463.5L730 1463.3L730.3 1464.4L730.6 1464.9L730.9 1464.9L731.2 1464.9L731.5 1466.2L731.8 1464.3L732 1463.8L732.3 1464.7L732.6 1465.1L732.9 1464.6L733.2 1464.4L733.5 1464.4L733.8 1462.9L734.1 1465.5L734.4 1464.3L734.7 1464L735 1464.7L735.3 1464.9L735.6 1465.6L735.9 1465.3L736.2 1464L736.4 1463.2L736.7 1465.3L737 1464.4L737.3 1464.4L737.6 1463.9L737.9 1464.5L738.2 1464.3L738.5 1463.9L738.8 1465.9L739.1 1464.7L739.4 1466.5L739.7 1466.8L740 1465.7L740.3 1466.5L740.6 1464.3L740.8 1463.8L741.1 1465.2L741.4 1465.2L741.7 1465.3L742 1465.3L742.3 1464.8L742.6 1464.5L742.9 1465.5L743.2 1465.8L743.5 1465.5L743.8 1464.1L744.1 1465.3L744.4 1463.5L744.7 1465.2L745 1463.6L745.2 1466L745.5 1465.6L745.8 1464.4L746.1 1464.4L746.4 1465.1L746.7 1462.8L747 1464.8L747.3 1464.6L747.6 1465.4L747.9 1463.1L748.2 1464L748.5 1464.4L748.8 1466.4L749.1 1464.4L749.4 1465.4L749.6 1464.7L749.9 1464.2L750.2 1465.8L750.5 1464.9L750.8 1464.3L751.1 1465L751.4 1465.4L751.7 1466L752 1465.6L752.3 1466.3L752.6 1464.1L752.9 1465L753.2 1466.2L753.5 1464.9L753.8 1466.2L754 1468.2L754.3 1463.8L754.6 1463.6L754.9 1466.3L755.2 1465.5L755.5 1464.6L755.8 1465.2L756.1 1465.5L756.4 1465.1L756.7 1464.8L757 1465.2L757.3 1464.5L757.6 1465L757.9 1465.5L758.2 1464.6L758.4 1466.3L758.7 1463.2L759 1466.4L759.3 1464.6L759.6 1464.3L759.9 1464.3L760.2 1464.4L760.5 1463.4L760.8 1465.7L761.1 1464.5L761.4 1464.2L761.7 1464.7L762 1464.9L762.3 1463L762.6 1464.9L762.8 1464.7L763.1 1464.7L763.4 1464.6L763.7 1464.3L764 1464.7L764.3 1464L764.6 1464.2L764.9 1463.8L765.2 1463.1L765.5 1465.4L765.8 1462.8L766.1 1465L766.4 1463.8L766.7 1464.3L767 1464.7L767.2 1466.5L767.5 1463L767.8 1465.6L768.1 1465.7L768.4 1463.8L768.7 1464.9L769 1463.1L769.3 1463.3L769.6 1464.3L769.9 1464.9L770.2 1464.3L770.5 1466.4L770.8 1465L771.1 1465L771.4 1465.7L771.6 1464.9L771.9 1466.8L772.2 1464.4L772.5 1464L772.8 1466.6L773.1 1465.2L773.4 1463.9L773.7 1465.1L774 1466.5L774.3 1466.4L774.6 1464.5L774.9 1463.5L775.2 1466.4L775.5 1465.3L775.8 1466.1L776 1465.6L776.3 1465L776.6 1465.4L776.9 1466L777.2 1463.2L777.5 1465.5L777.8 1465.5L778.1 1464.2L778.4 1465.4L778.7 1465.7L779 1464.4L779.3 1466.2L779.6 1464.3L779.9 1464L780.2 1464.4L780.4 1465.2L780.7 1465.1L781 1466.7L781.3 1465.2L781.6 1464.6L781.9 1464L782.2 1464.8L782.5 1465.4L782.8 1465.9L783.1 1465L783.4 1464.8L783.7 1463.5L784 1464.7L784.3 1465.4L784.6 1464.9L784.8 1465.2L785.1 1464.9L785.4 1466.9L785.7 1466.4L786 1466L786.3 1464.4L786.6 1465L786.9 1464.8L787.2 1463.8L787.5 1465.8L787.8 1463.7L788.1 1464.4L788.4 1465.5L788.7 1463.3L789 1466.2L789.2 1466L789.5 1464.9L789.8 1464.3L790.1 1464.8L790.4 1466.7L790.7 1464.9L791 1464.6L791.3 1462.1L791.6 1463.2L791.9 1464.5L792.2 1465.7L792.5 1464.4L792.8 1465.9L793.1 1464.5L793.4 1464.5L793.6 1465.2L793.9 1464.5L794.2 1465L794.5 1465.3L794.8 1463.2L795.1 1464L795.4 1465L795.7 1465.5L796 1464.5L796.3 1464.2L796.6 1463.9L796.9 1463.3L797.2 1464.3L797.5 1465.8L797.8 1462.6L798 1463.4L798.3 1463.7L798.6 1463.2L798.9 1465.8L799.2 1464.8L799.5 1465L799.8 1463.3L800.1 1465.6L800.4 1464.9L800.7 1462.9L801 1463.7L801.3 1464.9L801.6 1462.7L801.9 1465.9L802.2 1464.2L802.4 1464.8L802.7 1464.3L803 1465L803.3 1465.7L803.6 1464.6L803.9 1466.1L804.2 1464.2L804.5 1465L804.8 1463.9L805.1 1465.3L805.4 1465.5L805.7 1464.5L806 1463.7L806.3 1467L806.6 1465L806.8 1464.5L807.1 1466.6L807.4 1466L807.7 1464.4L808 1465.9L808.3 1465.7L808.6 1463.5L808.9 1466.1L809.2 1466L809.5 1467.4L809.8 1466.4L810.1 1466.5L810.4 1463.7L810.7 1464.4L811 1466.8L811.2 1463.5L811.5 1464.7L811.8 1465.6L812.1 1464.6L812.4 1465.1L812.7 1466.2L813 1467.3L813.3 1466.6L813.6 1465.7L813.9 1465.9L814.2 1466.3L814.5 1464.6L814.8 1466.5L815.1 1464.5L815.4 1465.7L815.6 1465.1L815.9 1466.1L816.2 1465L816.5 1465.6L816.8 1466.4L817.1 1464.7L817.4 1464.8L817.7 1463.9L818 1464.3L818.3 1465.5L818.6 1465.2L818.9 1467.2L819.2 1465.8L819.5 1463.5L819.8 1463.3L820 1464L820.3 1464.4L820.6 1463.9L820.9 1464.1L821.2 1466.4L821.5 1465.3L821.8 1463.3L822.1 1463.2L822.4 1464L822.7 1464.6L823 1464.7L823.3 1464.9L823.6 1465.4L823.9 1466.4L824.2 1464.2L824.4 1464.7L824.7 1464.4L825 1462.3L825.3 1463.4L825.6 1464.8L825.9 1463.5L826.2 1465.6L826.5 1463.1L826.8 1463.9L827.1 1464.3L827.4 1463.6L827.7 1462.8L828 1464.7L828.3 1465.3L828.6 1462.4L828.8 1464.5L829.1 1463.1L829.4 1465.1L829.7 1463.9L830 1465L830.3 1463.6L830.6 1464.3L830.9 1464.8L831.2 1462.5L831.5 1463.6L831.8 1466L832.1 1464.2L832.4 1465L832.7 1465.3L833 1464.6L833.2 1464.5L833.5 1464L833.8 1464.8L834.1 1466.1L834.4 1464.7L834.7 1463.3L835 1465.5L835.3 1463.5L835.6 1463.7L835.9 1464.7L836.2 1464L836.5 1465.1L836.8 1464.7L837.1 1465.4L837.4 1463.9L837.6 1463L837.9 1465.1L838.2 1463.4L838.5 1466.6L838.8 1465.5L839.1 1465.6L839.4 1462.8L839.7 1465.1L840 1463.8L840.3 1466.6L840.6 1464.3L840.9 1464L841.2 1464.6L841.5 1467.4L841.8 1464.4L842 1463.9L842.3 1463.6L842.6 1464.4L842.9 1466.5L843.2 1465.1L843.5 1464L843.8 1465.9L844.1 1464.4L844.4 1465.4L844.7 1464.8L845 1464L845.3 1465.5L845.6 1461.9L845.9 1464.6L846.2 1464.5L846.4 1465.6L846.7 1464.7L847 1465L847.3 1466.2L847.6 1466.2L847.9 1464.5L848.2 1464.7L848.5 1467.4L848.8 1466.9L849.1 1465L849.4 1464.8L849.7 1464.1L850 1465.9L850.3 1464.3L850.6 1465.1L850.8 1465.3L851.1 1464.9L851.4 1463.9L851.7 1464.2L852 1463.8L852.3 1465.4L852.6 1465.1L852.9 1466L853.2 1465.5L853.5 1465.4L853.8 1465.5L854.1 1464.2L854.4 1464.6L854.7 1464.2L855 1464.8L855.2 1463.9L855.5 1464.8L855.8 1463.9L856.1 1464.5L856.4 1464.4L856.7 1465.3L857 1466.5L857.3 1466.7L857.6 1463.2L857.9 1464.7L858.2 1464.7L858.5 1465.3L858.8 1465.6L859.1 1462.2L859.4 1466.3L859.6 1465.1L859.9 1465.2L860.2 1466.2L860.5 1466.4L860.8 1465.9L861.1 1465.6L861.4 1465.7L861.7 1464.4L862 1466.2L862.3 1464.9L862.6 1463.8L862.9 1464.4L863.2 1466.5L863.5 1468.3L863.8 1464.4L864 1464.8L864.3 1465.6L864.6 1463.8L864.9 1465.4L865.2 1464.8L865.5 1466L865.8 1464.6L866.1 1465.2L866.4 1465.4L866.7 1463.9L867 1464.7L867.3 1466.3L867.6 1464.3L867.9 1464L868.2 1465.7L868.4 1465.2L868.7 1464.7L869 1464.9L869.3 1464.7L869.6 1464.2L869.9 1465.4L870.2 1462.7L870.5 1465.4L870.8 1465.3L871.1 1462.8L871.4 1462.4L871.7 1464.8L872 1465.1L872.3 1465.9L872.6 1463.6L872.8 1464.5L873.1 1465.5L873.4 1464.1L873.7 1463.2L874 1463.8L874.3 1462.4L874.6 1463.4L874.9 1464.1L875.2 1464.5L875.5 1463.9L875.8 1463.2L876.1 1463.6L876.4 1463.4L876.7 1464.3L877 1463.8L877.2 1463.3L877.5 1464.6L877.8 1465.8L878.1 1462.8L878.4 1463.9L878.7 1464.9L879 1464.3L879.3 1464.7L879.6 1466.1L879.9 1464.5L880.2 1465.8L880.5 1464.1L880.8 1464.5L881.1 1463.2L881.4 1464.5L881.6 1463.8L881.9 1464.6L882.2 1464.7L882.5 1465.6L882.8 1463.3L883.1 1464.1L883.4 1464.7L883.7 1463.8L884 1464.4L884.3 1464.7L884.6 1463.8L884.9 1462.8L885.2 1464.4L885.5 1465.6L885.8 1464.7L886 1462.4L886.3 1465L886.6 1462.9L886.9 1464.5L887.2 1463.5L887.5 1464.3L887.8 1465.9L888.1 1464.6L888.4 1461.9L888.7 1464.2L889 1463.4L889.3 1464.5L889.6 1464.3L889.9 1463.8L890.2 1463.8L890.4 1462.1L890.7 1464.4L891 1464.5L891.3 1465L891.6 1465.8L891.9 1466.1L892.2 1464L892.5 1466.5L892.8 1463.3L893.1 1463.9L893.4 1465.2L893.7 1466.2L894 1465.1L894.3 1465.2L894.6 1464.2L894.8 1466L895.1 1465.5L895.4 1465.3L895.7 1465.6L896 1466L896.3 1467.1L896.6 1467L896.9 1466L897.2 1465.6L897.5 1464.3L897.8 1463L898.1 1463.6L898.4 1464.8L898.7 1463.3L899 1465.3L899.2 1465.9L899.5 1463.1L899.8 1466.5L900.1 1466L900.4 1465.6L900.7 1464L901 1465.9L901.3 1464.5L901.6 1465.8L901.9 1466.6L902.2 1465.2L902.5 1465.2L902.8 1466.6L903.1 1466.2L903.4 1466.2L903.6 1464.3L903.9 1464.8L904.2 1464.9L904.5 1464.7L904.8 1465.5L905.1 1464.6L905.4 1465.6L905.7 1466.3L906 1465.5L906.3 1464.6L906.6 1464.7L906.9 1464L907.2 1466.8L907.5 1465.2L907.8 1464.6L908 1465.8L908.3 1464.6L908.6 1465.3L908.9 1466L909.2 1463.9L909.5 1466.5L909.8 1464L910.1 1465.4L910.4 1466.1L910.7 1466L911 1465.8L911.3 1465.8L911.6 1464.8L911.9 1466.8L912.2 1463.9L912.4 1464.2L912.7 1463.8L913 1466.1L913.3 1467.4L913.6 1465.7L913.9 1465.2L914.2 1464.9L914.5 1465.7L914.8 1465.3L915.1 1465.2L915.4 1467L915.7 1463.6L916 1466.6L916.3 1465.3L916.6 1464.6L916.8 1466.4L917.1 1465.5L917.4 1463.9L917.7 1466L918 1464.6L918.3 1465.3L918.6 1465.4L918.9 1464.8L919.2 1465.8L919.5 1465.7L919.8 1464.7L920.1 1465.4L920.4 1465.1L920.7 1466.7L921 1465.5L921.2 1464.2L921.5 1464.6L921.8 1465.2L922.1 1466L922.4 1466.3L922.7 1465.3L923 1464.3L923.3 1465.8L923.6 1464.6L923.9 1466.3L924.2 1464.8L924.5 1467L924.8 1465.8L925.1 1467L925.4 1465.3L925.6 1465.4L925.9 1466.8L926.2 1466.6L926.5 1466.3L926.8 1467.1L927.1 1466.4L927.4 1466.3L927.7 1464.7L928 1464.1L928.3 1465.7L928.6 1465.4L928.9 1465.1L929.2 1465.9L929.5 1465.6L929.8 1464.5L930 1465.1L930.3 1465.3L930.6 1465.8L930.9 1463.7L931.2 1465.8L931.5 1465L931.8 1466.1L932.1 1465.6L932.4 1465.1L932.7 1465.5L933 1464.6L933.3 1465L933.6 1466.4L933.9 1467.2L934.2 1463.8L934.4 1465.4L934.7 1463.2L935 1464.6L935.3 1465.2L935.6 1463.9L935.9 1464.6L936.2 1464.3L936.5 1465.2L936.8 1463.5L937.1 1463.1L937.4 1464.5L937.7 1462.3L938 1464.7L938.3 1464L938.6 1465.9L938.8 1466.1L939.1 1462.2L939.4 1462.9L939.7 1463.2L940 1466.2L940.3 1464.4L940.6 1464.1L940.9 1464.3L941.2 1464.1L941.5 1465.4L941.8 1464.6L942.1 1465.7L942.4 1464.9L942.7 1464.2L943 1465.6L943.2 1465L943.5 1465.1L943.8 1464.8L944.1 1463.7L944.4 1464.4L944.7 1464.1L945 1466.1L945.3 1465.1L945.6 1464.1L945.9 1465.6L946.2 1465.2L946.5 1465.8L946.8 1463.4L947.1 1465.2L947.4 1465.5L947.6 1464.3L947.9 1463.8L948.2 1464.6L948.5 1464.3L948.8 1465L949.1 1465.4L949.4 1465.7L949.7 1465.7L950 1465.6L950.3 1464.7L950.6 1465.3L950.9 1464.9L951.2 1464.3L951.5 1464.9L951.8 1466.2L952 1465.6L952.3 1465.9L952.6 1466.5L952.9 1464.4L953.2 1465.6L953.5 1465.7L953.8 1465.4L954.1 1463.4L954.4 1464.6L954.7 1463L955 1464.1L955.3 1464.5L955.6 1463.4L955.9 1463.4L956.2 1463.8L956.4 1464.9L956.7 1464.4L957 1465L957.3 1463.9L957.6 1463.5L957.9 1462.1L958.2 1462.1L958.5 1462.9L958.8 1462.4L959.1 1463.1L959.4 1460.3L959.7 1461.4L960 1460L960.3 1462.1L960.6 1461.9L960.8 1461.1L961.1 1461.7L961.4 1461.3L961.7 1462.4L962 1460.1L962.3 1460.6L962.6 1459.7L962.9 1460.6L963.2 1461.8L963.5 1459.1L963.8 1458.1L964.1 1460.3L964.4 1459.8L964.7 1458.8L965 1458.7L965.2 1460.1L965.5 1456.6L965.8 1457.4L966.1 1459.3L966.4 1460.8L966.7 1458.8L967 1457.5L967.3 1458.7L967.6 1458.5L967.9 1460.7L968.2 1459.5L968.5 1461L968.8 1457.4L969.1 1467.5L969.1 1458.9L969.1 1469.5L969.2 1471.8L969.2 1469.6L969.3 1467.8L969.4 1461.7L969.4 1467.7L969.4 1446L969.4 1471.8L969.5 1467.8L969.5 1465L969.6 1467.3L969.6 1468.6L969.6 1466.2L969.7 1481.6L969.7 1468.4L969.8 1469.3L969.8 1465L969.8 1472L969.9 1467.2L969.9 1463.8L969.9 1469.6L970 1469.3L970.1 1470.9L970.1 1469L970.2 1469.9L970.2 1464.2L970.3 1468.2L970.3 1471.2L970.4 1467.8L970.5 1468.8L970.5 1471L970.5 1464.8L970.6 1470.8L970.7 1470.5L970.7 1470L970.8 1469.4L970.8 1463.7L970.8 1467.5L970.9 1467.2L971 1468.9L971.1 1462.3L971.4 1463.9L971.7 1466.1L972 1464.3L972.3 1465.5L972.6 1465.1L972.9 1464.1L973.2 1464.6L973.5 1465.6L973.8 1464.8L974 1465.6L974.3 1464.3L974.6 1464.9L974.9 1464.3L975.2 1465.1L975.5 1464.2L975.8 1465.1L976.1 1465L976.4 1465.7L976.7 1465.1L977 1467.1L977.3 1462.6L977.6 1466.1L977.9 1465.2L978.2 1465.7L978.4 1465.8L978.7 1464.8L979 1465.8L979.3 1465.8L979.6 1466.7L979.9 1466.2L980.2 1466.7L980.5 1463.9L980.8 1466.9L981.1 1466.7L981.4 1465.4L981.7 1464.2L982 1467.2L982.3 1467.1L982.6 1465.6L982.8 1465.3L983.1 1467.2L983.4 1467.6L983.7 1466.8L984 1465L984.3 1465.7L984.6 1464.9L984.9 1465.6L985.2 1465.4L985.5 1464.7L985.8 1465.4L986.1 1465.1L986.4 1466.3L986.7 1466.1L987 1464.9L987.2 1465.7L987.5 1466.3L987.8 1465L988.1 1465.1L988.4 1465.4L988.7 1466.1L989 1464.6L989.3 1462.9L989.6 1466.2L989.9 1466.9L990.2 1466L990.5 1466.3L990.8 1466.6L991.1 1466.3L991.4 1464.3L991.6 1464.4L991.9 1463.6L992.2 1464.1L992.5 1465.3L992.8 1463.7L993.1 1465.3L993.4 1465.1L993.7 1466L994 1463.6L994.3 1463.7L994.6 1465.3L994.9 1465.1L995.2 1464.8L995.5 1464.6L995.8 1463.9L996 1464.8L996.3 1464.5L996.6 1466.5L996.9 1465.4L997.2 1466.9L997.5 1463.4L997.8 1463.7L998.1 1464.2L998.4 1463.9L998.7 1463L999 1463.9L999.3 1466.3L999.6 1464.9L999.9 1467.1L1000.2 1465.6L1000.4 1466.1L1000.7 1464.8L1001 1464.4L1001.3 1465.6L1001.6 1465L1001.9 1464.4L1002.2 1464.8L1002.5 1464.9L1002.8 1467.3L1003.1 1465.3L1003.4 1464L1003.7 1464.6L1004 1466.5L1004.3 1465.3L1004.6 1464.7L1004.8 1466L1005.1 1464.4L1005.4 1465.7L1005.7 1465.2L1006 1465.2L1006.3 1462.7L1006.6 1465.2L1006.9 1465.5L1007.2 1464.3L1007.5 1465.7L1007.8 1464.9L1008.1 1467.5L1008.4 1464.9L1008.7 1465L1009 1466.3L1009.2 1463.6L1009.5 1465.2L1009.8 1465.2L1010.1 1466.3L1010.4 1466.6L1010.7 1465.7L1011 1466.8L1011.3 1464.8L1011.6 1464.4L1011.9 1465.8L1012.2 1466.6L1012.5 1465.4L1012.8 1466L1013.1 1464.9L1013.4 1464.9L1013.6 1465.5L1013.9 1465.1L1014.2 1464L1014.5 1463.4L1014.8 1465.7L1015.1 1464.5L1015.4 1465.4L1015.7 1466.4L1016 1464.1L1016.3 1465L1016.6 1465.3L1016.9 1464.9L1017.2 1465.4L1017.5 1466.3L1017.8 1463.4L1018 1464.2L1018.3 1464.8L1018.6 1464.1L1018.9 1463.7L1019.2 1465L1019.5 1464.3L1019.8 1465L1020.1 1463.9L1020.4 1464.9L1020.7 1462.2L1021 1465.1L1021.3 1464.2L1021.6 1464.3L1021.9 1465.1L1022.2 1463.8L1022.4 1464.6L1022.7 1464.9L1023 1464.5L1023.3 1465.3L1023.6 1463.3L1023.9 1464.1L1024.2 1463.7L1024.5 1466L1024.8 1464.4L1025.1 1465.4L1025.4 1464.6L1025.7 1463.2L1026 1464.2L1026.3 1464.6L1026.6 1463.2L1026.8 1463.3L1027.1 1462.4L1027.4 1466.1L1027.7 1463.8L1028 1464.5L1028.3 1465L1028.6 1464L1028.9 1465.3L1029.2 1466.3L1029.5 1464.9L1029.8 1464.2L1030.1 1462.1L1030.4 1464.4L1030.7 1464.9L1031 1465.6L1031.2 1463.9L1031.5 1463.7L1031.8 1463.4L1032.1 1465L1032.4 1464.3L1032.7 1465.8L1033 1463.2L1033.3 1464.8L1033.6 1465.9L1033.9 1461.9L1034.2 1462.5L1034.5 1462.6L1034.8 1462.4L1035.1 1463.6L1035.4 1461.3L1035.6 1463.4L1035.9 1460.2L1036.2 1461.8L1036.5 1463.7L1036.8 1460.9L1037.1 1459.4L1037.4 1461.6L1037.7 1460.1L1038 1461.2L1038.3 1461.4L1038.6 1463.1L1038.9 1459L1039.2 1460.4L1039.5 1459.2L1039.8 1460.5L1040 1459.8L1040.3 1457.4L1040.6 1458.3L1040.9 1457.9L1041.2 1458.1L1041.5 1456.3L1041.8 1455.1L1042.1 1456L1042.4 1455.3L1042.7 1456L1043 1452.9L1043.3 1454.6L1043.6 1454L1043.9 1452L1044.2 1453.9L1044.4 1455.5L1044.7 1455.2L1045 1455.1L1045.3 1453.5L1045.6 1455.3L1045.9 1456L1046.2 1455.1L1046.5 1454.8L1046.8 1457.1L1047.1 1455L1047.4 1455.5L1047.5 1469.6L1047.6 1471.3L1047.6 1468.9L1047.7 1456L1047.7 1467.9L1047.8 1472.8L1047.8 1467.6L1047.9 1444L1047.9 1472.2L1048 1469.9L1048 1458.8L1048 1465L1048 1471.6L1048.1 1472.5L1048.2 1486.7L1048.2 1470.2L1048.2 1471.5L1048.3 1465L1048.3 1465L1048.3 1468.9L1048.4 1472.9L1048.4 1468.6L1048.5 1469.3L1048.5 1468.6L1048.6 1463.8L1048.6 1471.5L1048.7 1471.5L1048.7 1470.8L1048.8 1471L1048.8 1465.5L1048.9 1470.3L1048.9 1468L1049 1471.8L1049.1 1471.7L1049.1 1470.3L1049.1 1463L1049.2 1469.1L1049.2 1469.5L1049.3 1471.8L1049.4 1472L1049.4 1465.3L1049.4 1469.1L1049.7 1466.2L1050 1464.6L1050.3 1464.8L1050.6 1464.3L1050.9 1465.3L1051.2 1463.8L1051.5 1465.6L1051.8 1464.9L1052.1 1466.4L1052.4 1466.1L1052.7 1465.1L1053 1465.9L1053.2 1465.7L1053.5 1465.5L1053.8 1465L1054.1 1464.3L1054.4 1464.2L1054.7 1464.1L1055 1465L1055.3 1465.7L1055.6 1466.6L1055.9 1465.4L1056.2 1465.9L1056.5 1467L1056.8 1463.3L1057.1 1466.8L1057.4 1464.6L1057.6 1464.5L1057.9 1465.1L1058.2 1462.3L1058.5 1464.7L1058.8 1465.4L1059.1 1462.9L1059.4 1465.4L1059.7 1466L1060 1465.5L1060.3 1465.1L1060.6 1464.4L1060.9 1464.1L1061.2 1465.8L1061.5 1463.9L1061.8 1461.9L1062 1465L1062.3 1464.3L1062.6 1463.3L1062.9 1462.9L1063.2 1464.7L1063.5 1465L1063.8 1465L1064.1 1462.8L1064.4 1463L1064.7 1466L1065 1465.9L1065.3 1465.1L1065.6 1465.4L1065.9 1463.5L1066.2 1463.6L1066.4 1462L1066.7 1463.1L1067 1463.8L1067.3 1462.8L1067.6 1465L1067.9 1465.5L1068.2 1464L1068.5 1463.2L1068.8 1465.8L1069.1 1463.3L1069.4 1463.4L1069.7 1464.7L1070 1464L1070.3 1464.5L1070.6 1464.2L1070.8 1463.4L1071.1 1465L1071.4 1463.2L1071.7 1463.3L1072 1463.3L1072.3 1466.4L1072.6 1466.3L1072.9 1463.7L1073.2 1465L1073.5 1465.1L1073.8 1465.3L1074.1 1466L1074.4 1464.9L1074.7 1465.2L1075 1465.1L1075.2 1464.1L1075.5 1465.9L1075.8 1463.6L1076.1 1467.1L1076.4 1462.4L1076.7 1466.4L1077 1464.4L1077.3 1464.1L1077.6 1465.1L1077.9 1464.3L1078.2 1465.1L1078.5 1466.8L1078.8 1464.7L1079.1 1463.8L1079.4 1465.6L1079.6 1466.9L1079.9 1465.9L1080.2 1464.9L1080.5 1464.8L1080.8 1463.9L1081.1 1464.5L1081.4 1464.7L1081.7 1467.2L1082 1463L1082.3 1465.2L1082.6 1464.4L1082.9 1465.6L1083.2 1465.4L1083.5 1465.2L1083.8 1463.8L1084 1463.7L1084.3 1464.6L1084.6 1463.3L1084.9 1465.8L1085.2 1464.7L1085.5 1465.6L1085.8 1463.8L1086.1 1465.2L1086.4 1464.3L1086.7 1463.6L1087 1467.4L1087.3 1462.9L1087.6 1464.6L1087.9 1465.1L1088.2 1466.7L1088.4 1465L1088.7 1467L1089 1464.6L1089.3 1464.9L1089.6 1462.8L1089.9 1465.1L1090.2 1463.7L1090.5 1463.6L1090.8 1462.7L1091.1 1464.9L1091.4 1463.7L1091.7 1466.1L1092 1465.7L1092.3 1464.9L1092.6 1464.7L1092.8 1465.8L1093.1 1464.9L1093.4 1463.8L1093.7 1465L1094 1464.6L1094.3 1465.2L1094.6 1462.9L1094.9 1462.6L1095.2 1464.2L1095.5 1464.3L1095.8 1462.6L1096.1 1463.8L1096.4 1465L1096.7 1465.7L1097 1465.2L1097.2 1462.5L1097.5 1465.4L1097.8 1461.8L1098.1 1464.8L1098.4 1465.1L1098.7 1463.5L1099 1465.1L1099.3 1464.4L1099.6 1465.9L1099.9 1466.2L1100.2 1465.6L1100.5 1464.6L1100.8 1465.5L1101.1 1466.7L1101.4 1464.2L1101.6 1464.9L1101.9 1465.1L1102.2 1465.4L1102.5 1467L1102.8 1463L1103.1 1465.1L1103.4 1464L1103.7 1463.1L1104 1463.5L1104.3 1464.5L1104.6 1464.8L1104.9 1464.6L1105.2 1463.8L1105.5 1464.2L1105.8 1465.4L1106 1464.6L1106.3 1464.7L1106.6 1464.3L1106.9 1464.9L1107.2 1463.8L1107.5 1465.1L1107.8 1464.4L1108.1 1465.2L1108.4 1465.9L1108.7 1466.1L1109 1465.2L1109.3 1464.4L1109.6 1463.7L1109.9 1465.1L1110.2 1465.4L1110.4 1465.5L1110.7 1463.8L1111 1465.2L1111.3 1465.8L1111.6 1464.5L1111.9 1466.7L1112.2 1465.3L1112.5 1465.5L1112.8 1465.6L1113.1 1466.7L1113.4 1464.5L1113.7 1463.7L1114 1466.8L1114.3 1465.5L1114.6 1465.1L1114.8 1463.5L1115.1 1466.3L1115.4 1466.8L1115.7 1465.8L1116 1463.6L1116.3 1465.5L1116.6 1465.4L1116.9 1463.8L1117.2 1467.8L1117.5 1467.8L1117.8 1464.7L1118.1 1464.9L1118.4 1467L1118.7 1465.2L1119 1465.8L1119.2 1465.4L1119.5 1466.5L1119.8 1466.1L1120.1 1466.5L1120.4 1465.5L1120.7 1465.8L1121 1463.9L1121.3 1465L1121.6 1467.3L1121.9 1465.3L1122.2 1464.2L1122.5 1465.4L1122.8 1464.7L1123.1 1465.9L1123.4 1465.1L1123.6 1466.7L1123.9 1464.9L1124.2 1467L1124.5 1464.3L1124.8 1467L1125.1 1467.7L1125.4 1464.9L1125.7 1465.5L1126 1465.3L1126.3 1464.8L1126.6 1465.2L1126.9 1466L1127.2 1464.8L1127.5 1464.7L1127.8 1464.6L1128 1463.1L1128.3 1465.8L1128.6 1464.9L1128.9 1464.5L1129.2 1465.4L1129.5 1466.1L1129.8 1465.3L1130.1 1463.7L1130.4 1464.9L1130.7 1463.9L1131 1465.3L1131.3 1464L1131.6 1465.2L1131.9 1465.5L1132.2 1464.5L1132.4 1464.5L1132.7 1463L1133 1466.2L1133.3 1464L1133.6 1462.8L1133.9 1463.1L1134.2 1464.9L1134.5 1465.2L1134.8 1464.9L1135.1 1464.1L1135.4 1464.3L1135.7 1464.2L1136 1464L1136.3 1465.7L1136.6 1465.9L1136.8 1466L1137.1 1466.2L1137.4 1465L1137.7 1464.4L1138 1462.3L1138.3 1464.4L1138.6 1464.9L1138.9 1463.5L1139.2 1465.7L1139.5 1464.6L1139.8 1463.9L1140.1 1464.1L1140.4 1464.6L1140.7 1465.2L1141 1466.1L1141.2 1465L1141.5 1465.5L1141.8 1464.2L1142.1 1465L1142.4 1464.4L1142.7 1466.6L1143 1464.1L1143.3 1465.8L1143.6 1466.4L1143.9 1466.2L1144.2 1465.5L1144.5 1463.8L1144.8 1464.1L1145.1 1466L1145.4 1464.7L1145.6 1464.8L1145.9 1466.1L1146.2 1465.4L1146.5 1466.6L1146.8 1465.4L1147.1 1467.2L1147.4 1465L1147.7 1465.1L1148 1465.1L1148.3 1465L1148.6 1462.9L1148.9 1464.3L1149.2 1463.7L1149.5 1463.2L1149.8 1463L1150 1463.2L1150.3 1464.5L1150.6 1465.1L1150.9 1464.8L1151.2 1464.5L1151.5 1463.9L1151.8 1463.9L1152.1 1462.7L1152.4 1464L1152.7 1462L1153 1462.9L1153.3 1464.4L1153.6 1463L1153.9 1466.8L1154.2 1462.3L1154.4 1463.4L1154.7 1463.3L1155 1465.6L1155.3 1461.3L1155.6 1464.1L1155.9 1463.9L1156.2 1462.6L1156.5 1464L1156.8 1464.7L1157.1 1463.2L1157.4 1465L1157.7 1463.3L1158 1463.9L1158.3 1463L1158.6 1465.3L1158.8 1462.8L1159.1 1463.9L1159.4 1462.2L1159.7 1464.7L1160 1462.1L1160.3 1463.3L1160.6 1463.2L1160.9 1464.6L1161.2 1463.3L1161.5 1463L1161.8 1464.5L1162.1 1464.7L1162.4 1464.2L1162.7 1461.7L1163 1462.9L1163.2 1462.1L1163.5 1462.7L1163.8 1462.8L1164.1 1462.6L1164.4 1463.1L1164.7 1461.1L1165 1461.8L1165.3 1461.3L1165.6 1462.8L1165.9 1460.6L1166.2 1461.2L1166.5 1460.6L1166.8 1458.5L1167.1 1460.4L1167.4 1459.1L1167.6 1457.8L1167.9 1456.5L1168.2 1457.6L1168.5 1456.2L1168.8 1455.7L1169.1 1456.6L1169.4 1457.2L1169.7 1456.7L1170 1453.7L1170.3 1454.2L1170.6 1455.6L1170.9 1455.1L1171.2 1455.2L1171.5 1455.6L1171.8 1455.8L1172 1453.8L1172.3 1457.2L1172.6 1456.4L1172.9 1457.3L1173.2 1457.2L1173.5 1457.5L1173.8 1456.7L1174 1467.9L1174.1 1470.3L1174.1 1457.1L1174.1 1468.7L1174.2 1469.3L1174.3 1471L1174.3 1472L1174.4 1456.2L1174.4 1452.3L1174.4 1467.1L1174.5 1469.4L1174.5 1465L1174.5 1469L1174.6 1469.5L1174.6 1481.6L1174.7 1469.1L1174.7 1465.1L1174.7 1470.2L1174.8 1465L1174.8 1468.7L1174.9 1470L1174.9 1469.6L1175 1468.5L1175 1466.3L1175 1471.7L1175.1 1469.9L1175.2 1469.5L1175.2 1472.3L1175.3 1463.3L1175.3 1470.2L1175.4 1471.2L1175.4 1470L1175.5 1468.5L1175.6 1470.1L1175.6 1466.3L1175.6 1468.1L1175.7 1470.4L1175.7 1467.6L1175.8 1470.6L1175.9 1464.6L1175.9 1469.2L1175.9 1467.5L1176.2 1462.8L1176.4 1465.8L1176.7 1463.7L1177 1463.7L1177.3 1464.8L1177.6 1467.1L1177.9 1463.8L1178.2 1465.2L1178.5 1465.9L1178.8 1464L1179.1 1465.9L1179.4 1463.9L1179.7 1465.6L1180 1464.6L1180.3 1466.2L1180.6 1465.6L1180.8 1466.1L1181.1 1466L1181.4 1465.1L1181.7 1465.7L1182 1465.3L1182.3 1464.2L1182.6 1465.6L1182.9 1467.2L1183.2 1465.8L1183.5 1465.4L1183.8 1464.3L1184.1 1464.2L1184.4 1464.4L1184.7 1465.6L1185 1464.7L1185.2 1466.8L1185.5 1464L1185.8 1464.7L1186.1 1464.6L1186.4 1465.5L1186.7 1465.1L1187 1465.7L1187.3 1464.6L1187.6 1466.5L1187.9 1464L1188.2 1464.5L1188.5 1463.1L1188.8 1465.2L1189.1 1465.3L1189.4 1464.9L1189.6 1465.1L1189.9 1465.4L1190.2 1466.3L1190.5 1466.2L1190.8 1465.7L1191.1 1465.5L1191.4 1466.4L1191.7 1466.3L1192 1465.4L1192.3 1464.4L1192.6 1465.3L1192.9 1464.3L1193.2 1463.8L1193.5 1463.8L1193.8 1465.1L1194 1465.2L1194.3 1466.7L1194.6 1465.6L1194.9 1464.1L1195.2 1465.7L1195.5 1463.3L1195.8 1463.3L1196.1 1465.1L1196.4 1463.8L1196.7 1466.3L1197 1466L1197.3 1465.2L1197.6 1464.8L1197.9 1465.2L1198.2 1465.9L1198.4 1462.9L1198.7 1464.7L1199 1464.6L1199.3 1464.3L1199.6 1464.7L1199.9 1465.1L1200.2 1465.4L1200.5 1466.6L1200.8 1463.4L1201.1 1465.8L1201.4 1466.4L1201.7 1465.5L1202 1466.3L1202.3 1462.7L1202.6 1464.3L1202.8 1463.4L1203.1 1463.3L1203.4 1464.3L1203.7 1464.3L1204 1465.6L1204.3 1464.9L1204.6 1465.5L1204.9 1464.9L1205.2 1465.7L1205.5 1463.7L1205.8 1464L1206.1 1464.9L1206.4 1466.5L1206.7 1464.2L1207 1464.1L1207.2 1464.9L1207.5 1466.1L1207.8 1464.2L1208.1 1463.6L1208.4 1466.6L1208.7 1464L1209 1466.5L1209.3 1464.6L1209.6 1462.8L1209.9 1464.5L1210.2 1464.1L1210.5 1464.8L1210.8 1464.5L1211.1 1462.2L1211.4 1463.5L1211.6 1465.2L1211.9 1465.3L1212.2 1464.9L1212.5 1462.7L1212.8 1464.9L1213.1 1463.9L1213.4 1465.5L1213.7 1466.4L1214 1463.8L1214.3 1465.2L1214.6 1465.9L1214.9 1465.9L1215.2 1465.9L1215.5 1465.7L1215.8 1466.7L1216 1463.8L1216.3 1464.6L1216.6 1464L1216.9 1465.4L1217.2 1464.7L1217.5 1464.9L1217.8 1463.9L1218.1 1464.2L1218.4 1464.7L1218.7 1465.7L1219 1466.3L1219.3 1466.1L1219.6 1466L1219.9 1465.9L1220.2 1466.7L1220.4 1463.8L1220.7 1465.2L1221 1467.5L1221.3 1466.5L1221.6 1466.7L1221.9 1465L1222.2 1464.2L1222.5 1466.4L1222.8 1464.6L1223.1 1465.4L1223.4 1464L1223.7 1463.6L1224 1464.7L1224.3 1464.3L1224.6 1464.9L1224.8 1465.3L1225.1 1466.1L1225.4 1464.6L1225.7 1465L1226 1465.3L1226.3 1464.8L1226.6 1465L1226.9 1465.8L1227.2 1465.4L1227.5 1463.7L1227.8 1465.3L1228.1 1463.7L1228.4 1466.2L1228.7 1466.3L1229 1464.9L1229.2 1464.4L1229.5 1465.9L1229.8 1464.7L1230.1 1464.4L1230.4 1464.2L1230.7 1465.3L1231 1465.1L1231.3 1466.7L1231.6 1465L1231.9 1464.8L1232.2 1463.6L1232.5 1466.4L1232.8 1465.8L1233.1 1466.1L1233.4 1464.3L1233.6 1467.7L1233.9 1466.3L1234.2 1463.1L1234.5 1464.7L1234.8 1466.7L1235.1 1465.4L1235.4 1464.4L1235.7 1464.8L1236 1465.7L1236.3 1466.3L1236.6 1464.8L1236.9 1465.7L1237.2 1464.9L1237.5 1465.3L1237.8 1466.2L1238 1464.3L1238.3 1466.2L1238.6 1465.3L1238.9 1466.4L1239.2 1466L1239.5 1466L1239.8 1466.3L1240.1 1465.4L1240.4 1464.3L1240.7 1463.7L1241 1464.1L1241.3 1465.6L1241.6 1463.9L1241.9 1465.1L1242.2 1463.6L1242.4 1466.8L1242.7 1463.9L1243 1466.1L1243.3 1464.2L1243.6 1465.7L1243.9 1464.3L1244.2 1465.5L1244.5 1467.2L1244.8 1466.2L1245.1 1465.4L1245.4 1465.3L1245.7 1467.4L1246 1466.3L1246.3 1465.8L1246.6 1465.1L1246.8 1464.8L1247.1 1465.9L1247.4 1466.6L1247.7 1464.7L1248 1465.2L1248.3 1463.9L1248.6 1465.2L1248.9 1464L1249.2 1465.4L1249.5 1464.3L1249.8 1464.4L1250.1 1464L1250.4 1465.4L1250.7 1464.6L1251 1465.3L1251.2 1464.6L1251.5 1463.9L1251.8 1461.4L1252.1 1464.4L1252.4 1463.7L1252.7 1464.2L1253 1463.1L1253.3 1463.8L1253.6 1463.2L1253.9 1464L1254.2 1461.9L1254.5 1463L1254.8 1466.1L1255.1 1464.1L1255.4 1464.4L1255.6 1466.7L1255.9 1465.2L1256.2 1464.8L1256.5 1465.1L1256.8 1464.3L1257.1 1466.2L1257.4 1463.8L1257.7 1463.9L1258 1464.3L1258.3 1465.1L1258.6 1464.7L1258.9 1465.2L1259.2 1463.5L1259.5 1464.2L1259.8 1462.7L1260 1465L1260.3 1463.2L1260.6 1465.3L1260.9 1464.9L1261.2 1465.7L1261.5 1464.2L1261.8 1464.9L1262.1 1464.2L1262.4 1463.3L1262.7 1464.8L1263 1464.4L1263.3 1464L1263.6 1465.1L1263.9 1465.6L1264.2 1464.8L1264.4 1464.7L1264.7 1464.4L1265 1464.2L1265.3 1465.8L1265.6 1464.6L1265.9 1463.9L1266.2 1465.6L1266.5 1464.8L1266.8 1465.8L1267.1 1465.1L1267.4 1463.6L1267.7 1465.3L1268 1466.4L1268.3 1465.2L1268.6 1465.3L1268.8 1464.4L1269.1 1466.7L1269.4 1466.1L1269.7 1465.3L1270 1466.9L1270.3 1464.2L1270.6 1467.5L1270.9 1466.5L1271.2 1467.1L1271.5 1466.3L1271.8 1465L1272.1 1465.2L1272.4 1465L1272.7 1465.3L1273 1467.9L1273.2 1465.7L1273.5 1467.9L1273.8 1466.5L1274.1 1466.4L1274.4 1466.8L1274.7 1465.6L1275 1466.9L1275.3 1464.3L1275.6 1465.5L1275.9 1464.8L1276.2 1465.1L1276.5 1464.9L1276.8 1465.9L1277.1 1464L1277.4 1466.9L1277.6 1465.3L1277.9 1465.8L1278.2 1466L1278.5 1465.5L1278.8 1466.6L1279.1 1464.9L1279.4 1465.1L1279.7 1465.7L1280 1464.9L1280.3 1466.6L1280.6 1467.4L1280.9 1466.2L1281.2 1465.9L1281.5 1463.1L1281.8 1465.7L1282 1464.4L1282.3 1464.3L1282.6 1462.9L1282.9 1464.9L1283.2 1464.3L1283.5 1465L1283.8 1465.7L1284.1 1465.8L1284.4 1465.6L1284.7 1463.5L1285 1464.5L1285.3 1464.8L1285.6 1464.7L1285.9 1465.3L1286.2 1464.5L1286.4 1464.7L1286.7 1464L1287 1463.6L1287.3 1466.1L1287.6 1464.2L1287.9 1463.2L1288.2 1465.6L1288.5 1464.9L1288.8 1464.4L1289.1 1463.6L1289.4 1464.1L1289.7 1464.8L1290 1464.1L1290.3 1463.5L1290.6 1464L1290.8 1462.5L1291.1 1463.8L1291.4 1465.3L1291.7 1465.1L1292 1464.4L1292.3 1464.4L1292.6 1463.7L1292.9 1464L1293.2 1462.7L1293.5 1463.6L1293.8 1462.9L1294.1 1465.3L1294.4 1465.1L1294.7 1463.9L1295 1464.6L1295.2 1464.1L1295.5 1464.6L1295.8 1465.4L1296.1 1463L1296.4 1463.6L1296.7 1466.4L1297 1465.3L1297.3 1464.7L1297.6 1464.1L1297.9 1464.8L1298.2 1466L1298.5 1463.8L1298.8 1464.9L1299.1 1463.5L1299.4 1464.5L1299.6 1463.8L1299.9 1464L1300.2 1463.9L1300.5 1465.3L1300.8 1463.7L1301.1 1464.5L1301.4 1466.1L1301.7 1465.2L1302 1465.1L1302.3 1464.2L1302.6 1464.2L1302.9 1465.9L1303.2 1464.1L1303.5 1464.9L1303.8 1466L1304 1464.3L1304.3 1465.9L1304.6 1466.3L1304.9 1464.4L1305.2 1464.3L1305.5 1465.9L1305.8 1464.1L1306.1 1464.2L1306.4 1465.6L1306.7 1463L1307 1465L1307.3 1464.7L1307.6 1467.3L1307.9 1464.5L1308.2 1465.7L1308.4 1464.6L1308.7 1466.8L1309 1463.9L1309.3 1463.5L1309.6 1463.1L1309.9 1468L1310.2 1464.4L1310.5 1464.7L1310.8 1468L1311.1 1465.8L1311.4 1465.2L1311.7 1463.7L1312 1465.9L1312.3 1464.9L1312.6 1465.1L1312.8 1464.8L1313.1 1465.4L1313.4 1464.2L1313.7 1464.2L1314 1466.7L1314.3 1464.1L1314.6 1466.1L1314.9 1465.6L1315.2 1464.2L1315.5 1465.2L1315.8 1464.6L1316.1 1464.4L1316.4 1464.5L1316.7 1465.7L1317 1466.1L1317.2 1464.4L1317.5 1464.4L1317.8 1464.7L1318.1 1465.1L1318.4 1464.2L1318.7 1465.1L1319 1466.4L1319.3 1464.7L1319.6 1464.3L1319.9 1464.1L1320.2 1465.7L1320.5 1465.8L1320.8 1464.7L1321.1 1465.5L1321.4 1465L1321.6 1464L1321.9 1464.5L1322.2 1463L1322.5 1464.5L1322.8 1463.1L1323.1 1463.7L1323.4 1462.4L1323.7 1465L1324 1465L1324.3 1463.7L1324.6 1465.6L1324.9 1465.6L1325.2 1465L1325.5 1464.7L1325.8 1466.4L1326 1464.8L1326.3 1465.4L1326.6 1465.2L1326.9 1465L1327.2 1465.4L1327.5 1464.2L1327.8 1464.6L1328.1 1465.5L1328.4 1465.3L1328.7 1464.2L1329 1464.4L1329.3 1463.9L1329.6 1465.4L1329.9 1465.2L1330.2 1463.5L1330.4 1465.6L1330.7 1463.8L1331 1464.6L1331.3 1466L1331.6 1467L1331.9 1465.1L1332.2 1466.4L1332.5 1466.5L1332.8 1467.5L1333.1 1464.8L1333.4 1465.8L1333.7 1465.9L1334 1465.6L1334.3 1465.6L1334.6 1465.7L1334.8 1465.3L1335.1 1466L1335.4 1468.1L1335.7 1464.7L1336 1465L1336.3 1465.3L1336.6 1463.8L1336.9 1466.8L1337.2 1468.4L1337.5 1464.1L1337.8 1465.1L1338.1 1467L1338.4 1465.7L1338.7 1464.6L1339 1466.5L1339.2 1464.6L1339.5 1463.2L1339.8 1463.9L1340.1 1465.3L1340.4 1465L1340.7 1466.2L1341 1465.2L1341.3 1465.6L1341.6 1466.3L1341.9 1466.4L1342.2 1462.9L1342.5 1464.7L1342.8 1465.8L1343.1 1465.2L1343.4 1463.2L1343.6 1462.9L1343.9 1465.1L1344.2 1464.2L1344.5 1463.3L1344.8 1464.6L1345.1 1465.5L1345.4 1465.3L1345.7 1464.4L1346 1465.2L1346.3 1465.9L1346.6 1464.7L1346.9 1463.6L1347.2 1463.9L1347.5 1464.9L1347.8 1462.8L1348 1465.4L1348.3 1464.6L1348.6 1465.7L1348.9 1463.6L1349.2 1464.3L1349.5 1465.9L1349.8 1465L1350.1 1462.4L1350.4 1463.5L1350.7 1464.1L1351 1463.4L1351.3 1465.8L1351.6 1465.1L1351.9 1465.4L1352.2 1464.8L1352.4 1464.5L1352.7 1463.7L1353 1463.2L1353.3 1463.2L1353.6 1461.7L1353.9 1465L1354.2 1464.8L1354.5 1464.3L1354.8 1465.5L1355.1 1465L1355.4 1464.4L1355.7 1465.5L1356 1464.2L1356.3 1463.6L1356.6 1465.9L1356.8 1466.9L1357.1 1464.6L1357.4 1465.6L1357.7 1464.4L1358 1464.8L1358.3 1464L1358.6 1463.2L1358.9 1463.6L1359.2 1464.7L1359.5 1465.6L1359.8 1466.8L1360.1 1466.6L1360.4 1465.4L1360.7 1464.5L1361 1465.2L1361.2 1465.3L1361.5 1466.3L1361.8 1466.4L1362.1 1466.5L1362.4 1464.2L1362.7 1466.7L1363 1464.1L1363.3 1465.6L1363.6 1464.3L1363.9 1464.7L1364.2 1464.2L1364.5 1463.6L1364.8 1465.6L1365.1 1465.8L1365.4 1465.1L1365.6 1465.4L1365.9 1463.9L1366.2 1464.7L1366.5 1468.4L1366.5 1464.6L1366.6 1470.5L1366.6 1466.9L1366.7 1468.6L1366.7 1470.2L1366.8 1469.5L1366.8 1464.2L1366.9 1469.4L1366.9 1457L1366.9 1468.9L1367 1469.9L1367 1465L1367.1 1471.8L1367.1 1465.1L1367.1 1469.2L1367.1 1475.6L1367.2 1467.7L1367.3 1470.9L1367.3 1465L1367.3 1468.8L1367.4 1470.5L1367.4 1463.7L1367.4 1471.8L1367.5 1469L1367.6 1469L1367.6 1468.2L1367.7 1466.6L1367.7 1468L1367.8 1468.1L1367.8 1469L1367.9 1467.4L1368 1467.1L1368 1464.7L1368 1468.8L1368.1 1470.9L1368.2 1467.9L1368.2 1471.3L1368.3 1468.3L1368.3 1464.4L1368.3 1470.4L1368.4 1469.4L1368.5 1470.7L1368.5 1467.7L1368.6 1465.7L1368.9 1465.6L1369.2 1464.2L1369.5 1465.5L1369.8 1467.3L1370 1466.7L1370.3 1464.5L1370.6 1466.4L1370.9 1464.2L1371.2 1464.1L1371.5 1465.7L1371.8 1464.8L1372.1 1466L1372.4 1465.6L1372.7 1466L1373 1464.7L1373.3 1466.5L1373.6 1465.3L1373.9 1465L1374.2 1464.7L1374.4 1467.4L1374.7 1467.1L1375 1466.2L1375.3 1465.7L1375.6 1465.2L1375.9 1465.1L1376.2 1463.3L1376.5 1464.6L1376.8 1464.7L1377.1 1465.8L1377.4 1464.7L1377.7 1464.8L1378 1464.7L1378.3 1465.6L1378.6 1464.9L1378.8 1464.1L1379.1 1466.3L1379.4 1467.8L1379.7 1464.8L1380 1464.9L1380.3 1466L1380.6 1466.1L1380.9 1462.9L1381.2 1465.9L1381.5 1466.6L1381.8 1466L1382.1 1464.9L1382.4 1465.9L1382.7 1465.7L1383 1465L1383.2 1465.7L1383.5 1465.2L1383.8 1465.3L1384.1 1466.4L1384.4 1465.3L1384.7 1466.5L1385 1464.4L1385.3 1466.4L1385.6 1465.7L1385.9 1467.2L1386.2 1465.8L1386.5 1466.5L1386.8 1463.9L1387.1 1465.4L1387.4 1464.9L1387.6 1467.2L1387.9 1466.9L1388.2 1465.8L1388.5 1467L1388.8 1464.6L1389.1 1466.2L1389.4 1465.6L1389.7 1465.5L1390 1465.8L1390.3 1464.9L1390.6 1466L1390.9 1465L1391.2 1464L1391.5 1464.9L1391.8 1465L1392 1465.3L1392.3 1465L1392.6 1464.4L1392.9 1465.3L1393.2 1466.7L1393.5 1464.9L1393.8 1465.2L1394.1 1464.6L1394.4 1465.1L1394.7 1463.5L1395 1466.2L1395.3 1465.9L1395.6 1464.3L1395.9 1465.8L1396.2 1464.5L1396.4 1464.8L1396.7 1466.7L1397 1463.9L1397.3 1463.3L1397.6 1464.2L1397.9 1465.9L1398.2 1463.7L1398.5 1465.5L1398.8 1464.6L1399.1 1464L1399.4 1465.1L1399.7 1465.9L1400 1464.4L1400.3 1464.2L1400.6 1464.9L1400.8 1464.7L1401.1 1463.2L1401.4 1463.9L1401.7 1464.4L1402 1464.5L1402.3 1463.9L1402.6 1464.1L1402.9 1464.5L1403.2 1465.7L1403.5 1464.6L1403.8 1464.9L1404.1 1464.3L1404.4 1463.1L1404.7 1463.3L1405 1463.6L1405.2 1464L1405.5 1464.5L1405.8 1463.8L1406.1 1464.5L1406.4 1464.4L1406.7 1464.9L1407 1464.3L1407.3 1464.3L1407.6 1462.5L1407.9 1463.9L1408.2 1464.8L1408.5 1463.7L1408.8 1465L1409.1 1463.5L1409.4 1463.9L1409.6 1461.9L1409.9 1465.8L1410.2 1464.6L1410.5 1464.6L1410.8 1464.1L1411.1 1463.7L1411.4 1465.5L1411.7 1465.1L1412 1464.2L1412.3 1463.6L1412.6 1465.7L1412.9 1466.2L1413.2 1463.7L1413.5 1463.9L1413.8 1463.8L1414 1465.9L1414.3 1465.1L1414.6 1464.6L1414.9 1464.3L1415.2 1465L1415.5 1464.9L1415.8 1463.9L1416.1 1465.4L1416.4 1465.6L1416.7 1465.6L1417 1465.8L1417.3 1465.1L1417.6 1465.4L1417.9 1465.7L1418.2 1464L1418.4 1465L1418.7 1465.6L1419 1464.1L1419.3 1465.9L1419.6 1465.3L1419.9 1465.4L1420.2 1465.8L1420.5 1465.6L1420.8 1465L1421.1 1466.5L1421.4 1465.4L1421.7 1464.8L1422 1464.9L1422.3 1464.9L1422.6 1463L1422.8 1464.7L1423.1 1465.6L1423.4 1465.6L1423.7 1465.3L1424 1464.8L1424.3 1465.4L1424.6 1463.6L1424.9 1466L1425.2 1464.2L1425.5 1464.4L1425.8 1465.8L1426.1 1464L1426.4 1464.1L1426.7 1465.2L1427 1462.4L1427.2 1464L1427.5 1464.9L1427.8 1465.1L1428.1 1465.2L1428.4 1464.3L1428.7 1464.5L1429 1465.8L1429.3 1465.5L1429.6 1465.2L1429.9 1464.9L1430.2 1465L1430.5 1465.3L1430.8 1464.1L1431.1 1463.7L1431.4 1464.4L1431.6 1466.6L1431.9 1464.8L1432.2 1464.1L1432.5 1464.7L1432.8 1464.4L1433.1 1464.6L1433.4 1466.1L1433.7 1467.1L1434 1464.1L1434.3 1465.3L1434.6 1464.4L1434.9 1464.9L1435.2 1464.8L1435.5 1463.4L1435.8 1465.8L1436 1464.8L1436.3 1465.9L1436.6 1464.9L1436.9 1464.5L1437.2 1464.3L1437.5 1464.8L1437.8 1466.3L1438.1 1464.8L1438.2 1465.5L1438.3 1466.8L1438.4 1466L1438.4 1464.4L1438.4 1468.2L1438.5 1467L1438.6 1470L1438.6 1456L1438.6 1466.7L1438.7 1466.7L1438.7 1464.2L1438.7 1465L1438.7 1467.1L1438.8 1468.5L1438.8 1471.6L1438.9 1467.4L1438.9 1467.7L1438.9 1465L1439 1463.1L1439 1468.2L1439.1 1470.1L1439.1 1467.4L1439.2 1469.6L1439.3 1469.6L1439.3 1464.6L1439.3 1467.6L1439.4 1467.5L1439.4 1466.9L1439.5 1468.4L1439.6 1466L1439.6 1469.4L1439.6 1467.5L1439.7 1468.7L1439.8 1468.6L1439.8 1467.3L1439.9 1465.6L1439.9 1469L1440 1466.9L1440 1467.8L1440.2 1464.8L1440.4 1463.8L1440.7 1465.9L1441 1464.1L1441.3 1464.3L1441.6 1465.9L1441.9 1464.4L1442.2 1465.7L1442.5 1464.9L1442.8 1465.1L1443.1 1464.7L1443.4 1466.1L1443.7 1464.4L1444 1467.1L1444.3 1465.5L1444.6 1465.7L1444.8 1463.7L1445.1 1464.8L1445.4 1465.7L1445.7 1466L1446 1465.1L1446.3 1465.8L1446.6 1463.1L1446.9 1467.9L1447.2 1465.3L1447.5 1467.7L1447.8 1464.4L1448.1 1466.2L1448.4 1463.9L1448.7 1466L1449 1464.5L1449.2 1465.4L1449.5 1464.4L1449.8 1465.4L1450.1 1468.2L1450.4 1466.1L1450.7 1466.8L1451 1464.5L1451.3 1464.9L1451.6 1465.5L1451.9 1465.1L1452.2 1465.5L1452.5 1466.1L1452.8 1463.7L1453.1 1465.2L1453.4 1465.6L1453.6 1466.7L1453.9 1466L1454.2 1465.3L1454.5 1465.5L1454.8 1465.7L1455.1 1465.4L1455.4 1466.3L1455.7 1465.2L1456 1466.6L1456.3 1465.9L1456.6 1465.9L1456.9 1464.2L1457.2 1464.5L1457.5 1464.9L1457.8 1466.2L1458 1465.4L1458.3 1464.2L1458.6 1463.9L1458.9 1466.3L1459.2 1465.4L1459.5 1464.9L1459.8 1464.6L1460.1 1464.9L1460.4 1464.2L1460.7 1466.2L1461 1463.3L1461.3 1465.9L1461.6 1464.7L1461.9 1464.2L1461.9 1460L1462 1465L1462.1 1467L1462.2 1463.7L1462.2 1465L1462.4 1464L1462.7 1464L1463 1463.5L1463.3 1465L1463.6 1464.2L1463.9 1463.4L1464.2 1465.6L1464.5 1466.2L1464.8 1465.8L1465.1 1463.4L1465.4 1463.7L1465.7 1465.3L1466 1464.7L1466.3 1464.4L1466.6 1463.9L1466.8 1466.7L1467.1 1465.4L1467.4 1465.1L1467.7 1464.6L1468 1464.8L1468.3 1465.2L1468.6 1464.6L1468.9 1467.4L1469.2 1462L1469.5 1464.1L1469.8 1464L1470.1 1465.6L1470.4 1464.5L1470.7 1463L1471 1463.3L1471.2 1464.8L1471.5 1466.1L1471.8 1464.7L1472.1 1465.1L1472.4 1464L1472.7 1466.1L1473 1465L1473.3 1464.5L1473.6 1465.2L1473.9 1463.8L1474.2 1465.8L1474.5 1466L1474.8 1465.1L1475.1 1463.9L1475.4 1464.9L1475.6 1465.2L1475.9 1463.9L1476.2 1464.4L1476.5 1465.1L1476.8 1464.6L1477.1 1464.8L1477.4 1463.9L1477.7 1464.4L1478 1465.4L1478.3 1465L1478.6 1464.9L1478.9 1464.3L1479.2 1464.3L1479.5 1465.4L1479.8 1465L1480 1464.5L1480.3 1463.7L1480.6 1464.5L1480.9 1462.9L1481.2 1464.7L1481.5 1464L1481.8 1465L1482.1 1465.6L1482.4 1464.6L1482.7 1464.1L1483 1464.4L1483.3 1464.6L1483.6 1465.1L1483.9 1465.6L1484.2 1465.2L1484.4 1464.4L1484.7 1463.9L1485 1468.1L1485.3 1464.3L1485.6 1463.8L1485.9 1463.6L1486.2 1464.5L1486.5 1464.2L1486.8 1465.3L1487.1 1464.9L1487.4 1464.3L1487.7 1465.9L1488 1465.7L1488.3 1464.9L1488.6 1466.3L1488.8 1465L1489.1 1466.6L1489.4 1465L1489.7 1465.3L1490 1466L1490.3 1466.3L1490.6 1465.9L1490.9 1467.5L1491.2 1465.6L1491.5 1465L1491.8 1463.9L1492.1 1465.5L1492.4 1465.3L1492.7 1463.9L1493 1463.5L1493.2 1465.6L1493.5 1464.2L1493.8 1464L1494.1 1464.6L1494.4 1466.3L1494.7 1466.1L1495 1464.6L1495.3 1462.9L1495.6 1465.1L1495.9 1463.4L1496.2 1463L1496.5 1466.1L1496.8 1465.5L1497.1 1463.6L1497.4 1464.1L1497.6 1464.7L1497.9 1465.2L1498.2 1464.7L1498.5 1466L1498.8 1463L1499.1 1466.7L1499.4 1467.2L1499.7 1465.2L1500 1463.9L1500.3 1465.7L1500.6 1465.4L1500.9 1466.3L1501.2 1465.3L1501.5 1466.1L1501.8 1466L1502 1466.4L1502.3 1465.6L1502.6 1463.4L1502.9 1465.3L1503.2 1465.1L1503.5 1463L1503.8 1465.9L1504.1 1466.1L1504.4 1464.5L1504.7 1466.2L1505 1464.7L1505.3 1463.9L1505.6 1466.2L1505.9 1465.5L1506.2 1463.4L1506.4 1466.2L1506.7 1465.9L1507 1465L1507.3 1465.7L1507.6 1466.4L1507.9 1464.1L1508.2 1466.2L1508.5 1465.3L1508.8 1465.9L1509.1 1465.6L1509.4 1466.7L1509.7 1464.4L1510 1465.6L1510.3 1463.8L1510.6 1466.2L1510.8 1465.3L1511.1 1464.4L1511.4 1464.7L1511.7 1465.5L1512 1465L1512.3 1466.1L1512.6 1465L1512.9 1467.6L1513.2 1464.9L1513.5 1463.8L1513.8 1464.2L1514.1 1464.3L1514.4 1465.4L1514.7 1464.5L1515 1465.3L1515.2 1465.1L1515.5 1465.1L1515.8 1468.3L1516.1 1464.2L1516.4 1464.8L1516.7 1464.4L1517 1466.1L1517.3 1464.5L1517.6 1464.8L1517.9 1467.3L1518.2 1466.7L1518.5 1465L1518.8 1465.6L1519.1 1464.7L1519.4 1465.1L1519.6 1463.1L1519.9 1466.2L1520.2 1465.7L1520.5 1465.4L1520.8 1465.9L1521.1 1465L1521.4 1464.5L1521.7 1465.8L1522 1464.3L1522.3 1463.5L1522.6 1463.6L1522.9 1462.8L1523.2 1463.7L1523.5 1464.8L1523.8 1463L1524 1464L1524.3 1462.7L1524.6 1464.8L1524.9 1466.4L1525.2 1465.5L1525.5 1464.2L1525.8 1463.9L1526.1 1464.6L1526.4 1463.5L1526.7 1465.5L1527 1464.9L1527.3 1463.3L1527.6 1464.2L1527.9 1464.2L1528.2 1462.9L1528.4 1463.2L1528.7 1465.1L1529 1464.1L1529.3 1465.9L1529.6 1464.2L1529.9 1463.9L1530.2 1465.9L1530.5 1462.7L1530.8 1462.5L1531.1 1463.9L1531.4 1463.4L1531.7 1462.8L1532 1464.3L1532.3 1463.3L1532.6 1463.8L1532.8 1465.7L1533.1 1465L1533.4 1464.5L1533.7 1462.8L1534 1463.8L1534.3 1463L1534.6 1464.3L1534.9 1465L1535.2 1461.7L1535.5 1460.9L1535.8 1463.1L1536.1 1463.3L1536.4 1461.8L1536.7 1464L1537 1462.9L1537.2 1463.8L1537.5 1461.5L1537.8 1461.4L1538.1 1461.7L1538.4 1461.7L1538.7 1462.4L1539 1461.5L1539.3 1459.2L1539.6 1460.5L1539.9 1458.7L1540.2 1460.6L1540.5 1459.6L1540.8 1459.9L1541.1 1459.8L1541.4 1458.9L1541.6 1461.8L1541.9 1459.5L1542.2 1459.9L1542.5 1460.8L1542.8 1461.1L1543.1 1461.7L1543.4 1461.4L1543.7 1462.6L1544 1463.8L1544.3 1463.2L1544.6 1462.8L1544.9 1463.9L1545.2 1464.8L1545.5 1465.2L1545.8 1466.5L1546 1467.1L1546.3 1469.1L1546.6 1468L1546.9 1467.5L1547.2 1469.5L1547.5 1470.5L1547.8 1469.1L1548.1 1470L1548.4 1469.8L1548.7 1469.1L1549 1468.5L1549.3 1468.7L1549.6 1469L1549.9 1465.9L1550.2 1467L1550.4 1467.3L1550.7 1465.9L1551 1464.6L1551.3 1466.7L1551.6 1464L1551.9 1465.4L1552.2 1463.5L1552.5 1464.7L1552.8 1465.3L1553.1 1464L1553.4 1463.9L1553.7 1465.4L1554 1464.6L1554.3 1465.4L1554.6 1464L1554.8 1466.1L1555.1 1465L1555.4 1466.7L1555.7 1464L1556 1466.8L1556.3 1465.7L1556.6 1464.3L1556.9 1464.9L1557.2 1465.1L1557.5 1465.4L1557.8 1464.8L1558.1 1466.1L1558.4 1464.1L1558.7 1463.7L1559 1463.7L1559.2 1464.5L1559.5 1463.3L1559.8 1464.1L1560.1 1463.8L1560.4 1464.4L1560.7 1464.7L1561 1465.5L1561.3 1467.2L1561.6 1464L1561.9 1464.7L1562.2 1462.6L1562.5 1466.4L1562.8 1463.8L1563.1 1465.5L1563.4 1464.6L1563.6 1465.5L1563.9 1464.1L1564.2 1464.5L1564.5 1463.7L1564.8 1464.4L1565.1 1464L1565.4 1463.1L1565.7 1463.8L1566 1464.6L1566.3 1463.4L1566.6 1464.9L1566.9 1464.3L1567.2 1464.9L1567.5 1465.2L1567.8 1467.5L1568 1463.9L1568.3 1465.8L1568.6 1463.9L1568.9 1462.8L1569.2 1465.8L1569.5 1463.7L1569.8 1464.7L1570.1 1464.2L1570.4 1465.8L1570.7 1464.5L1571 1464.3L1571.3 1463.2L1571.6 1462.5L1571.9 1464.1L1572.2 1464.8L1572.4 1462.3L1572.7 1464.5L1573 1464.4L1573.3 1464.3L1573.6 1464.1L1573.9 1463.9L1574.2 1465.2L1574.5 1464.9L1574.8 1463L1575.1 1463.2L1575.4 1464.3L1575.7 1464.5L1576 1465L1576.3 1463.8L1576.6 1465.3L1576.8 1464.7L1577.1 1465.4L1577.4 1465.6L1577.7 1464.8L1578 1464.7L1578.3 1465.2L1578.6 1464.7L1578.9 1464.6L1579.2 1465.1L1579.5 1465.3L1579.8 1464.8L1580.1 1464L1580.4 1463.6L1580.7 1464.6L1581 1465.1L1581.2 1465L1581.5 1463.1L1581.8 1464.1L1582.1 1465.9L1582.4 1465.1L1582.7 1465.6L1583 1465.5L1583.3 1466.8L1583.6 1465.1L1583.9 1466.4L1584.2 1465.8L1584.5 1463.8L1584.8 1464.3L1585.1 1466.1L1585.4 1466.2L1585.6 1466L1585.9 1466.8L1586.2 1465.8L1586.5 1465.2L1586.8 1466L1587.1 1464.2L1587.4 1464.9L1587.7 1465.3L1588 1463.3L1588.3 1464.2L1588.6 1464.9L1588.9 1463.2L1589.2 1463.8L1589.5 1465.8L1589.8 1464.8L1590 1465.4L1590.3 1466.4L1590.6 1463.3L1590.9 1463.7L1591.2 1466.2L1591.5 1464.6L1591.8 1466.6L1592.1 1464L1592.4 1465.1L1592.7 1465.3L1593 1463.7L1593.3 1465L1593.6 1465.1L1593.9 1464L1594.2 1465.3L1594.4 1464.2L1594.7 1464.9L1595 1464.1L1595.3 1464.3L1595.6 1464.2L1595.9 1465.9L1596.2 1463.1L1596.5 1465L1596.8 1463.1L1597.1 1465.3L1597.4 1465.1L1597.7 1465.1L1598 1463.8L1598.3 1465.3L1598.6 1464.5L1598.8 1466.3L1599.1 1465.3L1599.4 1464.7L1599.7 1465L1600 1466.6L1600.3 1464.3L1600.6 1465.7L1600.9 1463.1L1601.2 1465L1601.5 1462.6L1601.8 1464.1L1602.1 1464.3L1602.4 1465.2L1602.7 1464.9L1603 1464.5L1603.2 1466.8L1603.5 1464L1603.8 1466.3L1604.1 1465.4L1604.4 1467.8L1604.7 1464.8L1605 1464.4L1605.3 1464.9L1605.6 1464.7L1605.9 1465.3L1606.2 1464.7L1606.5 1463.8L1606.8 1465.4L1607.1 1464.5L1607.4 1464.4L1607.6 1465.2L1607.9 1464.8L1608.2 1464.8L1608.5 1465.4L1608.8 1462.6L1609.1 1465.1L1609.4 1463.2L1609.7 1463.8L1610 1466.8L1610.3 1464.7L1610.6 1463.9L1610.9 1464.1L1611.2 1465.8L1611.5 1464.8L1611.8 1466.1L1612 1466.1L1612.3 1465.3L1612.6 1464.7L1612.9 1463.3L1613.2 1464.5L1613.5 1464L1613.8 1466.2L1614.1 1466.1L1614.4 1465.5L1614.7 1463.4L1615 1466.5L1615.3 1466.5L1615.6 1465L1615.9 1463.8L1616.2 1466.4L1616.4 1465.1L1616.7 1466.3L1617 1463.6L1617.3 1464.4L1617.6 1464.9L1617.9 1465.3L1618.2 1465.6L1618.5 1465.2L1618.8 1465.9L1619.1 1466.1L1619.4 1466.3L1619.7 1465.2L1620 1466.2L1620.3 1464.8L1620.6 1467.7L1620.8 1465.3L1621.1 1465.2L1621.4 1464.5L1621.7 1466.1L1622 1467.4L1622.3 1466.9L1622.6 1464.9L1622.9 1466.4L1623.2 1466.5L1623.5 1466.8L1623.8 1466.2L1624.1 1466.5L1624.4 1467.8L1624.7 1467L1625 1465.5L1625.2 1465.2L1625.5 1466.8L1625.8 1467.3L1626.1 1465.9L1626.4 1467.6L1626.7 1469L1627 1468.6L1627.3 1468.3L1627.6 1467.9L1627.9 1470.6L1628.2 1470L1628.5 1471.1L1628.8 1469.6L1629.1 1470.3L1629.4 1470L1629.6 1470.7L1629.9 1469.3L1630.2 1468.7L1630.5 1471.4L1630.8 1466.5L1631.1 1467L1631.4 1467L1631.7 1466.7L1632 1465.9L1632.3 1465.6L1632.6 1466.9L1632.9 1465.3L1633.2 1465.4L1633.5 1465.3L1633.8 1466.7L1634 1465.4L1634.3 1466.5L1634.6 1464.8L1634.9 1463.7L1635.2 1464.1L1635.5 1465.1L1635.8 1465.3L1636.1 1465.4L1636.4 1464.4L1636.7 1465.4L1637 1465.4L1637.3 1467.2L1637.6 1465.9L1637.9 1465.8L1638.2 1465.7L1638.4 1463.9L1638.7 1466.5L1639 1466.6L1639.3 1464.8L1639.6 1466.3L1639.9 1465.5L1640.2 1465.2L1640.5 1465.4L1640.8 1466.3L1641.1 1464.8L1641.4 1464.3L1641.7 1466.7L1642 1466L1642.3 1464.8L1642.6 1465.7L1642.8 1466.6L1643.1 1465.8L1643.4 1464.5L1643.7 1466.4L1644 1465.1L1644.3 1465.1L1644.6 1466.2L1644.9 1464.9L1645.2 1464.8L1645.5 1464.5L1645.8 1464.6L1646.1 1466.9L1646.4 1464.6L1646.7 1464.9L1647 1464.5L1647.2 1466.3L1647.5 1464.6L1647.8 1465L1648.1 1466.5L1648.4 1464.1L1648.7 1465.9L1649 1466.2L1649.3 1464.8L1649.6 1465.8L1649.9 1464.8L1650.2 1465.4L1650.5 1464.8L1650.8 1464.1L1651.1 1465L1651.4 1464.3L1651.6 1464.3L1651.9 1466L1652.2 1464.3L1652.5 1464.5L1652.8 1464.6L1653.1 1463.8L1653.4 1463.4L1653.7 1464.2L1654 1466.4L1654.3 1464.7L1654.6 1465.1L1654.9 1465.4L1655.2 1464.7L1655.5 1465.3L1655.8 1463.5L1656 1464.7L1656.3 1465L1656.6 1464.2L1656.9 1464.3L1657.2 1463.9L1657.5 1464.4L1657.8 1465.1L1658.1 1464.9L1658.4 1467.2L1658.7 1466.7L1659 1464.2L1659.3 1465.5L1659.6 1463.5L1659.9 1463.6L1660.2 1466.6L1660.4 1465.1L1660.7 1462.5L1661 1466L1661.3 1464.8L1661.6 1465.5L1661.9 1465.5L1662.2 1465.5L1662.5 1465.3L1662.8 1464.5L1663.1 1465.9L1663.4 1464.7L1663.7 1465.9L1664 1464.7L1664.3 1465L1664.6 1466.2L1664.8 1465.3L1665.1 1466L1665.4 1466.2L1665.7 1464.1L1666 1467L1666.3 1464.7L1666.6 1464.5L1666.9 1465.8L1667.2 1464.2L1667.5 1464.3L1667.8 1466.5L1668.1 1464.8L1668.4 1464.9L1668.7 1466L1669 1464.7L1669.2 1464.4L1669.5 1465.8L1669.8 1467L1670.1 1464.7L1670.4 1465.7L1670.7 1466.7L1671 1465.5L1671.3 1467.4L1671.6 1465.3L1671.9 1463.5L1672.2 1467.8L1672.5 1464.7L1672.8 1466L1673.1 1465.5L1673.4 1466L1673.6 1464.5L1673.9 1465.2L1674.2 1465.9L1674.5 1466.4L1674.8 1465.6L1675.1 1463.9L1675.4 1466.2L1675.7 1464.6L1676 1464.6L1676.3 1466.7L1676.6 1463.6L1676.9 1464.7L1677.2 1462.4L1677.5 1463L1677.8 1465L1678 1464.9L1678.3 1465.7L1678.6 1466L1678.9 1463.9L1679.2 1464.9L1679.5 1465.1L1679.8 1464.8L1680.1 1463.9L1680.4 1463.7L1680.7 1464.7L1681 1465.2L1681.3 1465L1681.6 1463L1681.9 1467L1682.2 1466L1682.4 1464.4L1682.7 1464.8L1683 1463.7L1683.3 1463.6L1683.6 1463L1683.9 1465.6L1684.2 1464.2L1684.5 1465.1L1684.8 1463.8L1685.1 1464.6L1685.4 1463.8L1685.7 1465.5L1686 1464.6L1686.3 1465.3L1686.6 1465.1L1686.8 1465.5L1687.1 1465.9L1687.4 1464L1687.7 1464.7L1688 1464.2L1688.3 1466.3L1688.6 1467.3L1688.9 1466L1689.2 1465.5L1689.5 1464.5L1689.8 1464.3L1690.1 1464.1L1690.4 1463.7L1690.7 1464.6L1691 1465.1L1691.2 1465.9L1691.5 1464.5L1691.8 1465.6L1692.1 1465.8L1692.4 1464.5L1692.7 1464.7L1693 1464.1L1693.3 1465.6L1693.6 1463.9L1693.9 1464.8L1694.2 1465.3L1694.5 1465.8L1694.8 1466.1L1695.1 1466.4L1695.4 1463.7L1695.6 1466.5L1695.9 1464.6L1696.2 1465.3L1696.5 1465.8L1696.8 1465.7L1697.1 1465.4L1697.4 1464.5L1697.7 1464.8L1698 1465.3L1698.3 1466.5L1698.6 1466.8L1698.9 1463.2L1699.2 1465.8L1699.5 1466.5L1699.8 1463.9L1700 1466.3L1700.3 1464L1700.6 1463.9L1700.9 1464.6L1701.2 1463.9L1701.5 1466.3L1701.8 1466.1L1702.1 1465.1L1702.4 1465L1702.7 1465.2L1703 1464.6L1703.3 1465.9L1703.6 1467.2L1703.9 1464.7L1704.2 1465.3L1704.4 1464.3L1704.7 1463L1705 1464.9L1705.3 1464.5L1705.6 1465.9L1705.9 1464.1L1706.2 1464.6L1706.5 1464.6L1706.8 1463.9L1707.1 1465.8L1707.4 1464.1L1707.7 1464.2L1708 1463.2L1708.3 1466.5L1708.6 1464.9L1708.8 1462.6L1709.1 1465.1L1709.4 1465L1709.7 1462.8L1710 1462.2L1710.3 1464.6L1710.6 1465.4L1710.9 1465.3L1711.2 1465.1L1711.5 1465.5L1711.8 1465.6L1712.1 1464.6L1712.4 1464.6L1712.7 1464.1L1713 1464.6L1713.2 1465.8L1713.5 1463.9L1713.8 1464.3L1714.1 1465.1L1714.4 1464.7L1714.7 1464.1L1715 1464.2L1715.3 1464.4L1715.6 1463.6L1715.9 1463.4L1716.2 1464.8L1716.5 1464.6L1716.8 1465.8L1717.1 1464.8L1717.4 1464.3L1717.6 1464L1717.9 1464.7L1718.2 1465L1718.5 1465.7L1718.8 1464.8L1719.1 1466.1L1719.4 1464.9L1719.7 1465L1720 1466L1720.3 1464.7L1720.6 1465.3L1720.9 1464.4L1721.2 1465.6L1721.5 1464.8L1721.8 1463.6L1722 1465L1722.3 1464.4L1722.6 1466L1722.9 1465.6L1723.2 1467L1723.5 1465.2L1723.8 1466.4L1724.1 1465.1L1724.4 1467.3L1724.7 1466L1725 1465.1L1725.3 1464.9L1725.6 1467L1725.9 1465.7L1726.2 1462.9L1726.4 1464.7L1726.7 1465.4L1727 1468.4L1727.3 1466.5L1727.6 1465L1727.9 1465.2L1728.2 1464.8L1728.5 1464.3L1728.8 1465.1L1729.1 1464.3L1729.4 1466.9L1729.7 1462.6L1730 1465.5L1730.3 1466L1730.6 1463.9L1730.8 1464.7L1731.1 1464.2L1731.4 1465.8L1731.7 1464.8L1732 1464.4L1732.3 1466.2L1732.6 1465.4L1732.9 1465.2L1733.2 1465.2L1733.5 1465.7L1733.8 1466.2L1734.1 1464.7L1734.4 1464.8L1734.7 1464L1735 1465.4L1735.2 1465.9L1735.5 1466.6L1735.8 1465.2L1736.1 1465.5L1736.4 1463.4L1736.7 1463.2L1737 1463.7L1737.3 1466.2L1737.6 1466.7L1737.9 1465.6L1738.2 1466.3L1738.5 1464L1738.8 1465.3L1739.1 1465.8L1739.4 1465.4L1739.6 1464.1L1739.9 1466.2L1740.2 1464.8L1740.5 1466.5L1740.8 1465.4L1741.1 1465.7L1741.4 1464.9L1741.7 1465L1742 1463.9L1742.3 1464.4L1742.6 1465.7L1742.9 1466.5L1743.2 1466L1743.5 1465.6L1743.8 1465.3L1744 1465.9L1744.3 1464.1L1744.6 1464.4L1744.9 1465.5L1745.2 1465.7L1745.5 1465.4L1745.8 1465L1746.1 1465.1L1746.4 1466.7L1746.7 1465.4L1747 1466.9L1747.3 1465L1747.6 1464.4L1747.9 1466.2L1748.2 1465L1748.4 1465.6L1748.7 1465.8L1749 1463.2L1749.2 1466.7L1749.2 1468.7L1749.3 1467.8L1749.3 1464.3L1749.4 1469.4L1749.4 1466.9L1749.5 1467L1749.5 1457L1749.5 1469.6L1749.6 1467.6L1749.6 1464.6L1749.6 1465L1749.7 1469.3L1749.7 1467.2L1749.8 1471L1749.8 1466.8L1749.9 1467.2L1749.9 1465L1749.9 1465.4L1749.9 1466.9L1750 1466.9L1750.1 1470.1L1750.1 1467.6L1750.2 1469.9L1750.2 1464.5L1750.3 1468.7L1750.3 1467.3L1750.4 1467.4L1750.4 1469.2L1750.5 1465.1L1750.5 1467.6L1750.6 1467.2L1750.6 1468.5L1750.7 1468L1750.8 1468.6L1750.8 1464.4L1750.8 1466.7L1750.9 1467.3L1751 1466.3L1751.1 1465.9L1751.4 1465.1L1751.7 1465.4L1752 1466.5L1752.3 1463.5L1752.6 1464.4L1752.8 1466L1753.1 1466.6L1753.4 1465.8L1753.7 1465.8L1754 1465.4L1754.3 1466.3L1754.6 1465.6L1754.9 1464.8L1755.2 1464.4L1755.5 1467L1755.8 1465L1756.1 1465.9L1756.4 1466.1L1756.7 1465.3L1757 1465.7L1757.2 1464.3L1757.5 1464.3L1757.8 1465.3L1758.1 1465.6L1758.4 1463L1758.7 1462.9L1759 1464.4L1759.3 1464.8L1759.6 1463.7L1759.9 1463.3L1760.2 1465.3L1760.5 1463.1L1760.8 1465L1761.1 1463.8L1761.4 1465.3L1761.6 1464.8L1761.9 1465.2L1762.2 1464.7L1762.5 1463.7L1762.8 1465.4L1763.1 1464.9L1763.4 1464.1L1763.7 1465L1764 1462.5L1764.3 1465.9L1764.6 1462L1764.9 1465.3L1765.2 1463.7L1765.5 1463.1L1765.8 1464.3L1766 1466.2L1766.3 1465.2L1766.6 1464.7L1766.9 1464.3L1767.2 1463.8L1767.5 1463.6L1767.8 1463.3L1768.1 1465.6L1768.4 1463.8L1768.7 1466.6L1769 1464.8L1769.3 1466L1769.6 1466.7L1769.9 1464L1770.2 1465.1L1770.4 1464.1L1770.7 1466.7L1771 1466.4L1771.3 1465.1L1771.6 1465.6L1771.9 1464.8L1772.2 1465.3L1772.5 1465L1772.8 1465.8L1773.1 1463.4L1773.4 1464.9L1773.7 1465.9L1774 1464.1L1774.3 1464.3L1774.6 1464.6L1774.8 1464.7L1775.1 1465.3L1775.4 1465L1775.7 1467.2L1776 1466.6L1776.3 1466.3L1776.6 1464.7L1776.9 1463.8L1777.2 1465.3L1777.5 1465.3L1777.8 1464L1778.1 1465.5L1778.4 1464.6L1778.7 1464.8L1779 1466.6L1779.2 1464.9L1779.5 1465L1779.8 1466.2L1780.1 1466.1L1780.4 1466.2L1780.7 1463.6L1781 1462.9L1781.3 1464.3L1781.6 1463.6L1781.9 1466.3L1782.2 1463.6L1782.5 1463L1782.8 1463.4L1783.1 1466L1783.4 1464.1L1783.6 1465.3L1783.9 1464.2L1784.2 1465.9L1784.5 1465.3L1784.8 1465.9L1785.1 1465.1L1785.4 1465.6L1785.7 1464.3L1786 1464.6L1786.3 1464.9L1786.6 1465.2L1786.9 1465.6L1787.2 1465.3L1787.5 1464.5L1787.8 1465.1L1788 1465L1788.3 1465.3L1788.6 1465.4L1788.9 1465.9L1789.2 1467.2L1789.5 1464.9L1789.8 1464.8L1790.1 1466.1L1790.4 1463.3L1790.7 1466.3L1791 1464.1L1791.3 1465L1791.6 1465L1791.9 1464.2L1792.2 1464.5L1792.4 1465.3L1792.7 1466.4L1793 1466.7L1793.3 1465.1L1793.6 1463.9L1793.9 1464.6L1794.2 1465.6L1794.5 1465.2L1794.8 1464.8L1795.1 1463.8L1795.4 1466.2L1795.7 1464.8L1796 1465.4L1796.3 1466.4L1796.6 1466.5L1796.8 1464.1L1797.1 1465.1L1797.4 1465.7L1797.7 1465.4L1798 1464.7L1798.3 1465.5L1798.6 1464L1798.9 1465.8L1799.2 1466.4L1799.5 1465.6L1799.8 1466.4L1800.1 1465.8L1800.4 1464.1L1800.7 1463.5L1801 1464.6L1801.2 1464.9L1801.5 1466L1801.8 1466.3L1802.1 1465L1802.4 1465.2L1802.7 1466L1803 1465.8L1803.3 1463.7L1803.6 1464.3L1803.9 1465.1L1804.2 1465L1804.5 1463.8L1804.8 1464.7L1805.1 1464.7L1805.4 1466.5L1805.6 1466.5L1805.9 1466.8L1806.2 1467.2L1806.5 1464.9L1806.8 1464.5L1807.1 1465.8L1807.4 1464.4L1807.7 1464.3L1808 1464.9L1808.3 1466.4L1808.6 1463.4L1808.9 1463.6L1809.2 1465.4L1809.5 1463L1809.8 1464.9L1810 1465.8L1810.3 1465.3L1810.6 1466.8L1810.9 1465.2L1811.2 1466.6L1811.5 1463.9L1811.8 1464.8L1812.1 1466.6L1812.4 1464.7L1812.7 1466.9L1813 1464.9L1813.3 1464.7L1813.6 1465L1813.9 1466.1L1814.2 1465.1L1814.4 1465.3L1814.7 1465.1L1815 1463.7L1815.3 1463.4L1815.6 1463.6L1815.9 1465.8L1816.2 1465.9L1816.5 1465.1L1816.8 1464.7L1817.1 1467.2L1817.4 1465.7L1817.7 1463.3L1818 1466.2L1818.3 1465.8L1818.6 1465.8L1818.8 1464.5L1819.1 1465L1819.4 1465.1L1819.7 1466.2L1820 1464L1820.3 1464.6L1820.6 1465.3L1820.9 1464.7L1821.2 1463.9L1821.5 1466.2L1821.8 1466.1L1822.1 1465.5L1822.4 1465.4L1822.7 1467.6L1823 1465.1L1823 1467.3L1823.1 1467.8L1823.1 1466.7L1823.2 1467.2L1823.2 1463.2L1823.3 1469.3L1823.3 1468.6L1823.4 1452L1823.4 1471.4L1823.5 1467.8L1823.5 1465L1823.5 1466.8L1823.5 1464.5L1823.6 1466.4L1823.7 1476L1823.7 1470L1823.7 1469.7L1823.8 1465L1823.8 1469.1L1823.8 1463.1L1823.9 1469.6L1823.9 1469.5L1824 1468.7L1824 1467.7L1824.1 1466.9L1824.1 1467.1L1824.2 1467.6L1824.2 1469L1824.3 1469.1L1824.4 1468.6L1824.4 1464.4L1824.4 1467.9L1824.5 1469.6L1824.6 1467.9L1824.6 1469.3L1824.7 1467.6L1824.7 1462.8L1824.7 1469.2L1824.8 1468.1L1824.9 1466.7L1824.9 1468.8L1825 1462.5L1825.3 1464.6L1825.6 1465L1825.9 1463.8L1826.2 1465.2L1826.5 1464.3L1826.8 1465.7L1827.1 1464L1827.4 1464.2L1827.6 1462.6L1827.9 1463.9L1828.2 1465L1828.5 1464.4L1828.8 1465.7L1829.1 1464.6L1829.4 1464.8L1829.7 1464.1L1830 1463.5L1830.3 1466.4L1830.6 1464.1L1830.9 1463.9L1831.2 1465.8L1831.5 1462.7L1831.8 1465.5L1832 1462.4L1832.3 1463.9L1832.6 1463.7L1832.9 1464.5L1833.2 1463.7L1833.5 1465.9L1833.8 1465.8L1834.1 1467L1834.4 1464.6L1834.7 1465.8L1835 1464.3L1835.3 1464.4L1835.6 1466.3L1835.9 1464.3L1836.2 1464.7L1836.4 1464.8L1836.7 1464.7L1837 1465.2L1837.3 1465.2L1837.6 1464.2L1837.9 1466.2L1838.2 1466.5L1838.5 1465.9L1838.8 1464.1L1839.1 1465.3L1839.4 1463L1839.7 1468.1L1840 1465.7L1840.3 1465.5L1840.6 1464.7L1840.8 1463.5L1841.1 1465L1841.4 1465.9L1841.7 1464L1842 1463.3L1842.3 1467.4L1842.6 1464.1L1842.9 1464.4L1843.2 1465.6L1843.5 1465.3L1843.8 1464.5L1844.1 1464.8L1844.4 1464.9L1844.7 1465.8L1845 1464.2L1845.2 1465.2L1845.5 1464.4L1845.8 1465L1846.1 1464.2L1846.4 1463.9L1846.7 1464.5L1847 1464.2L1847.3 1466.2L1847.6 1464.3L1847.9 1464.4L1848.2 1465.4L1848.5 1465L1848.8 1467.7L1849.1 1464.7L1849.4 1465.1L1849.6 1467L1849.9 1464.2L1850.2 1465.5L1850.5 1464.5L1850.8 1464.9L1851.1 1464.3L1851.4 1464.8L1851.7 1465.1L1852 1464.4L1852.3 1464.1L1852.6 1467.3L1852.9 1465L1853.2 1465.7L1853.5 1466.2L1853.8 1463.9L1854 1464.1L1854.3 1466.2L1854.6 1466.4L1854.9 1464.4L1855.2 1465.7L1855.5 1465.4L1855.8 1467L1856.1 1465.2L1856.4 1463.9L1856.7 1465.5L1857 1465.2L1857.3 1463.4L1857.6 1464.3L1857.9 1463.6L1858.2 1464.2L1858.4 1463.8L1858.7 1466.5L1859 1465.7L1859.3 1466.6L1859.6 1462.7L1859.9 1464.8L1860.2 1465.1L1860.5 1465.7L1860.8 1466L1861.1 1467.9L1861.4 1462.8L1861.7 1465.1L1862 1464.9L1862.3 1466.4L1862.6 1465.1L1862.8 1464.6L1863.1 1465L1863.4 1464.3L1863.7 1465.7L1864 1464.5L1864.3 1463.8L1864.6 1464.1L1864.9 1464.4L1865.2 1464.8L1865.5 1465.6L1865.8 1464.1L1866.1 1465L1866.4 1465.7L1866.7 1463.9L1867 1466.4L1867.2 1465.2L1867.5 1463.8L1867.8 1463.6L1868.1 1465L1868.4 1464.7L1868.7 1464.1L1869 1464.7L1869.3 1465.3L1869.6 1464.1L1869.9 1464.5L1870.2 1464.6L1870.5 1463.6L1870.8 1464.5L1871.1 1465.3L1871.4 1464.8L1871.6 1462.9L1871.9 1465.6L1872.2 1465.3L1872.5 1465.7L1872.8 1464.6L1873.1 1466.3L1873.4 1464.6L1873.7 1464.4L1874 1465.8L1874.3 1466L1874.6 1466.6L1874.9 1465.1L1875.2 1466.2L1875.5 1465.7L1875.8 1465.5L1876 1465.8L1876.3 1464.2L1876.6 1463.3L1876.9 1467.1L1877.2 1465.8L1877.5 1464.8L1877.8 1466.1L1878.1 1465.6L1878.4 1464.8L1878.7 1463.6L1879 1463.8L1879.3 1465.4L1879.6 1465L1879.9 1465.5L1880.2 1465.4L1880.4 1466.4L1880.7 1467L1881 1465.7L1881.3 1464.3L1881.6 1464.3L1881.9 1466.9L1882.2 1465.1L1882.5 1465.6L1882.8 1464.6L1883.1 1465.9L1883.4 1463.9L1883.7 1464.8L1884 1464L1884.3 1463.7L1884.6 1466.4L1884.8 1464.7L1885.1 1462.8L1885.4 1464.3L1885.7 1463.2L1886 1463.9L1886.3 1464.9L1886.6 1464.1L1886.9 1463.4L1887.2 1463.3L1887.5 1463.2L1887.8 1465.7L1888.1 1463.7L1888.4 1466.1L1888.7 1465L1889 1465L1889.2 1464L1889.5 1464.3L1889.8 1463.4L1890.1 1465.3L1890.4 1463.9L1890.7 1464.3L1891 1464.7L1891.3 1465.9L1891.6 1464.2L1891.9 1464.5L1892.2 1463.9L1892.5 1464.8L1892.8 1465L1893.1 1464.6L1893.4 1464.5L1893.6 1464.4L1893.9 1463.3L1894.2 1465.9L1894.5 1463.4L1894.8 1468.4L1895.1 1464.6L1895.4 1466.4L1895.7 1463.5L1896 1466.4L1896.3 1464.5L1896.6 1466.6L1896.9 1467L1897.2 1464.9L1897.5 1465L1897.8 1466.5L1898 1463.4L1898.3 1466.2L1898.6 1464.4L1898.9 1466.8L1899.2 1466.7L1899.5 1465.9L1899.8 1467.1L1900.1 1465.6L1900.4 1468.1L1900.7 1466.1L1901 1466.9L1901.3 1467.3L1901.6 1465.9L1901.9 1466.3L1902.2 1466.5L1902.4 1465.2L1902.7 1465.9L1903 1465.8L1903.3 1464.8L1903.6 1466L1903.9 1465.1L1904.2 1466.4L1904.5 1465.3L1904.8 1465.3L1905.1 1466.3L1905.4 1467.3L1905.7 1467.1L1906 1466.6L1906.3 1464.9L1906.6 1465.6L1906.8 1465.7L1907.1 1465L1907.4 1464.9L1907.7 1464.1L1908 1466L1908.3 1464.9L1908.6 1464.7L1908.9 1466.5L1909.2 1465.2L1909.5 1466.2L1909.8 1465.5L1910.1 1464.8L1910.4 1466.9L1910.7 1466.1L1911 1465.9L1911.2 1465L1911.5 1465.7L1911.8 1464.6L1912.1 1465.7L1912.4 1465.2L1912.7 1464L1913 1464.4L1913.3 1464.6L1913.6 1464.9L1913.9 1463.8L1914.2 1463.4L1914.5 1465.3L1914.8 1465.7L1915.1 1466.2L1915.4 1463.4L1915.6 1466L1915.9 1466.4L1916.2 1464.9L1916.5 1464.2L1916.8 1466.6L1917.1 1465.4L1917.4 1466.5L1917.7 1465.7L1918 1463.4L1918.3 1464.8L1918.6 1465.2L1918.9 1464.9L1919.2 1464.5L1919.5 1465L1919.8 1466L1920 1466L1920.3 1462.8L1920.6 1465.4L1920.9 1463.7L1921.2 1465.6L1921.5 1463.6L1921.8 1464.1L1922.1 1464.9L1922.4 1462.8L1922.7 1465.7L1923 1465L1923.3 1465.7L1923.6 1465.7L1923.9 1465.3L1924.2 1465.8L1924.4 1465.4L1924.7 1463.5L1925 1466.7L1925.3 1466.1L1925.6 1465.8L1925.9 1465.2L1926.2 1463.6L1926.5 1463.7L1926.8 1463.9L1927.1 1464.1L1927.4 1462L1927.7 1465.4L1928 1465.4L1928.3 1464.2L1928.6 1464L1928.8 1464.6L1929.1 1465.3L1929.4 1466L1929.7 1464.9L1930 1465.3L1930.3 1465L1930.6 1465.7L1930.9 1463.4L1931.2 1464.3L1931.5 1463L1931.8 1465.3L1932.1 1464.8L1932.4 1465.1L1932.7 1464.9L1933 1465L1933.2 1465.1L1933.5 1466.9L1933.8 1465.3L1934.1 1464.3L1934.4 1466.9L1934.7 1465.3L1935 1464.2L1935.3 1463.6L1935.6 1464.9L1935.9 1464.3L1936.2 1462.9L1936.5 1463.3L1936.8 1465.2L1937.1 1465.4L1937.4 1463.8L1937.6 1464.7L1937.9 1465.4L1938.2 1465.2L1938.5 1464.5L1938.8 1465.1L1939.1 1465.3L1939.4 1465.2L1939.7 1466.4L1940 1463.1L1940.3 1463.6L1940.6 1463.1L1940.9 1464.7L1941.2 1464.2L1941.5 1463.8L1941.8 1463.7L1942 1466.4L1942.3 1464.1L1942.6 1465.3L1942.9 1464.5L1943.2 1465.1L1943.5 1462.8L1943.8 1463.8L1944.1 1464.3L1944.4 1462.9L1944.7 1464.3L1945 1464.9L1945.3 1464.4L1945.6 1464.6L1945.9 1464.3L1946.2 1463.6L1946.4 1464.5L1946.7 1464.5L1947 1463.4L1947.3 1464.2L1947.6 1463.6L1947.9 1464.4L1948.2 1465.9L1948.5 1465.7L1948.8 1466.1L1949.1 1463.4L1949.4 1464.1L1949.7 1465L1950 1465.5L1950.3 1464.3L1950.6 1464.9L1950.8 1455L1950.8 1464.3L1950.9 1465L1951.1 1467L1951.1 1465.7L1951.2 1465L1951.4 1466L1951.7 1463.5L1952 1466L1952.3 1465.1L1952.6 1463.7L1952.9 1466.9L1953.2 1464.4L1953.5 1465L1953.8 1465.3L1954.1 1464.9L1954.4 1466.4L1954.7 1467.3L1955 1463.2L1955.2 1465.3L1955.5 1464.1L1955.8 1464L1956.1 1464.9L1956.4 1464.8L1956.7 1464.6L1957 1463.9L1957.3 1464.9L1957.6 1464L1957.9 1465.5L1958.2 1465.7L1958.5 1465.3L1958.8 1465L1959.1 1464.9L1959.4 1463.5L1959.6 1464.6L1959.9 1465.3L1960.2 1463.4L1960.5 1465.1L1960.8 1465.1L1961.1 1465L1961.4 1465.6L1961.7 1466.3L1962 1465.1L1962.3 1465.5L1962.6 1466L1962.9 1464.9L1963.2 1465.3L1963.5 1465.5L1963.8 1466.8L1964 1465.2L1964.3 1463.4L1964.6 1464.3L1964.9 1464.1L1965.2 1465.3L1965.5 1464.1L1965.8 1465.9L1966.1 1465.6L1966.4 1464.7L1966.7 1466.6L1967 1465.2L1967.3 1465L1967.6 1463.7L1967.9 1466.1L1968.2 1464.9L1968.4 1466L1968.7 1465.7L1969 1467.9L1969.3 1466.2L1969.6 1464L1969.9 1464.6L1970.2 1464.9L1970.5 1462.5L1970.8 1464.4L1971.1 1466.2L1971.4 1465.2L1971.7 1464.9L1972 1463.3L1972.3 1465.9L1972.6 1464.5L1972.8 1463.9L1973.1 1465.9L1973.4 1465.1L1973.7 1467.1L1974 1465.1L1974.3 1467.4L1974.6 1465.7L1974.9 1463.5L1975.2 1464.7L1975.5 1465.1L1975.8 1464.9L1976.1 1462.8L1976.4 1464.5L1976.7 1464.1L1977 1465.4L1977.2 1465.5L1977.5 1466.1L1977.8 1465.3L1978.1 1465.8L1978.4 1464.2L1978.7 1464.5L1979 1465.2L1979.3 1465.5L1979.6 1467.8L1979.9 1465.6L1980.2 1464.7L1980.5 1464.4L1980.8 1468.2L1981.1 1467.5L1981.4 1465L1981.6 1466.2L1981.9 1465.4L1982.2 1465.8L1982.5 1464.8L1982.8 1467.3L1983.1 1466.1L1983.4 1464.7L1983.7 1465.3L1984 1466.1L1984.3 1464.9L1984.6 1465.2L1984.9 1466.3L1985.2 1464.8L1985.5 1464.9L1985.8 1465.7L1986 1464.6L1986.3 1466.7L1986.6 1464.8L1986.9 1465.8L1987.2 1466.5L1987.5 1466.2L1987.8 1464.7L1988.1 1466.3L1988.4 1466.1L1988.7 1466.5L1989 1466.7L1989.3 1464.8L1989.6 1463.7L1989.9 1464.5L1990.2 1465.4L1990.4 1465L1990.7 1466.3L1991 1466.4L1991.3 1467.3L1991.6 1464.6L1991.9 1466.3L1992.2 1466.7L1992.5 1466.6L1992.8 1465.8L1993.1 1466.6L1993.4 1466L1993.7 1465.9L1994 1464.6L1994.3 1467.1L1994.6 1465.6L1994.8 1466.6L1995.1 1466.3L1995.4 1464.4L1995.7 1465.6L1996 1466.4L1996.3 1465.5L1996.6 1465.9L1996.9 1464.7L1997.2 1466.3L1997.5 1465.4L1997.8 1466.1L1998.1 1465.9L1998.4 1466L1998.7 1466.5L1999 1465.7L1999.2 1464.9L1999.5 1466.4L1999.8 1466L2000.1 1465.2L2000.4 1466.3L2000.7 1464.5L2001 1464.7L2001.3 1467.7L2001.6 1466.1L2001.9 1466.5L2002.2 1464.6L2002.5 1464.3L2002.8 1466.5L2003.1 1465.8L2003.4 1465.3L2003.6 1465.6L2003.9 1464.3L2004.2 1464.1L2004.5 1464.5L2004.8 1463.9L2005.1 1464.2L2005.4 1465.2L2005.7 1465.5L2006 1465.6L2006.3 1463.9L2006.6 1463.9L2006.9 1463.7L2007.2 1464.9L2007.5 1464.8L2007.8 1464.3L2008 1463.3L2008.3 1464.2L2008.6 1464.5L2008.9 1465.4L2009.2 1464L2009.5 1464L2009.8 1465.5L2010.1 1462.9L2010.4 1465.6L2010.7 1463.8L2011 1464.8L2011.3 1464.4L2011.6 1465.7L2011.9 1465.4L2012.2 1464.2L2012.4 1465L2012.7 1465.2L2013 1463.9L2013.3 1463.9L2013.6 1464.5L2013.9 1464.8L2014.2 1463.5L2014.5 1465.4L2014.8 1464.9L2015.1 1464.8L2015.4 1466.5L2015.7 1467.1L2016 1465L2016.3 1464.1L2016.6 1464.8L2016.8 1465.4L2017.1 1465.5L2017.4 1464.2L2017.7 1465.4L2018 1466.7L2018.3 1464.3L2018.6 1464.7L2018.9 1464.7L2019.2 1464.1L2019.5 1463.8L2019.8 1464.5L2020.1 1465.3L2020.4 1467.2L2020.7 1464.8L2021 1465.2L2021.2 1463.6L2021.5 1463.7L2021.8 1464.5L2022.1 1463.6L2022.4 1465.1L2022.7 1465.1L2023 1465.9L2023.3 1465.2L2023.6 1464.7L2023.9 1463.9L2024.2 1465.7L2024.5 1464.1L2024.8 1462.7L2025.1 1466.5L2025.4 1465.4L2025.6 1464.9L2025.9 1463.9L2026.2 1462.8L2026.5 1463.5L2026.8 1464.9L2027.1 1465.8L2027.4 1465L2027.7 1464.9L2028 1464.7L2028.3 1465.8L2028.6 1463.5L2028.9 1465.7L2029.2 1464.3L2029.5 1464.8L2029.8 1466.2L2030 1465L2030.3 1465.1L2030.6 1465.4L2030.9 1464.4L2031.2 1465.7L2031.5 1462.8L2031.8 1464.2L2032.1 1466.1L2032.4 1467.7L2032.7 1464.1L2033 1465.1L2033.3 1465.3L2033.6 1466.2L2033.9 1466.7L2034.2 1467L2034.4 1462.6L2034.7 1463.6L2035 1465.8L2035.3 1463.5L2035.6 1467.1L2035.9 1464.5L2036.2 1464.7L2036.5 1466L2036.8 1465.6L2037.1 1466.2L2037.4 1465.1L2037.7 1463.8L2038 1464.1L2038.3 1464.6L2038.6 1463.8L2038.8 1466.6L2039.1 1463L2039.4 1464.9L2039.7 1466.2L2040 1465.2L2040.3 1465.4L2040.6 1464.8L2040.9 1464.5L2041.2 1467.3L2041.5 1463.7L2041.8 1463.2L2042.1 1465.9L2042.4 1463.4L2042.7 1463.9L2043 1464L2043.2 1463.3L2043.5 1466.3L2043.8 1464.2L2044.1 1466L2044.4 1462.8L2044.7 1466.1L2045 1466.3L2045.3 1464L2045.6 1464.6L2045.9 1465.2L2046.2 1465L2046.5 1464.6L2046.8 1463.4L2047.1 1465.8L2047.4 1465.6L2047.6 1465.7L2047.9 1465.2L2048.2 1465.3L2048.5 1466.6L2048.8 1465L2049.1 1466.5L2049.4 1465.5L2049.7 1465.5L2050 1465.6L2050.3 1463.9L2050.6 1463.8L2050.9 1464.3L2051.2 1463.9L2051.5 1465.9L2051.8 1464.1L2052 1465.6L2052.3 1465.2L2052.6 1465.2L2052.9 1466.5L2053.2 1465.9L2053.5 1465.5L2053.8 1464.9L2054.1 1465.3L2054.4 1465.9L2054.7 1466.3L2055 1465.1L2055.3 1466.2L2055.6 1466.2L2055.9 1465.1L2056.2 1464.8L2056.4 1465.8L2056.7 1466.9L2057 1464.8L2057.3 1464.2L2057.6 1465.4L2057.9 1465.4L2058.2 1467.4L2058.5 1464.1L2058.8 1466.1L2059.1 1464.3L2059.4 1465.7L2059.7 1465.1L2060 1465.1L2060.3 1466.7L2060.6 1462.2L2060.8 1466.7L2061.1 1464.9L2061.4 1465.9L2061.7 1465.3L2062 1463.6L2062.3 1466.9L2062.6 1465L2062.9 1464.3L2063.2 1464.7L2063.5 1464.5L2063.8 1465.5L2064.1 1466.4L2064.4 1466.1L2064.7 1465.4L2065 1464.1L2065.2 1464.7L2065.5 1463.1L2065.8 1464.7L2066.1 1464.7L2066.4 1464.7L2066.7 1466.7L2067 1464.6L2067.3 1466.3L2067.6 1465.6L2067.9 1462.9L2068.2 1466.5L2068.5 1464.9L2068.8 1464.9L2069.1 1465L2069.4 1465.1L2069.6 1465.7L2069.9 1463.1L2070.2 1467.2L2070.5 1466.2L2070.8 1463.6L2071.1 1464.5L2071.4 1465.9L2071.7 1466.1L2072 1465.5L2072.3 1462.6L2072.6 1464.7L2072.9 1466.3L2073.2 1465.1L2073.5 1466L2073.8 1463.9L2074 1465.1L2074.3 1464.2L2074.6 1465.5L2074.9 1463.6L2075.2 1465.3L2075.5 1465.6L2075.8 1467L2076.1 1466.3L2076.4 1465.5L2076.7 1466.4L2077 1463.5L2077.3 1466.2L2077.6 1466.9L2077.9 1465.1L2078.2 1466.6L2078.4 1465.8L2078.7 1466.2L2079 1466.8L2079.3 1464.6L2079.6 1465.8L2079.9 1464.8L2080.2 1466.3L2080.5 1467.4L2080.8 1467.2L2081.1 1466.5L2081.4 1466.1L2081.7 1465.8L2082 1465.4L2082.3 1467.1L2082.6 1465.7L2082.8 1467L2083.1 1466.3L2083.4 1462.9L2083.7 1464.2L2084 1466L2084.3 1463.8L2084.6 1464.2L2084.9 1464.6L2085.2 1464L2085.5 1465.6L2085.8 1465.4L2086.1 1466.1L2086.4 1464.7L2086.7 1466.4L2087 1465.7L2087.2 1464.7L2087.5 1465.7L2087.8 1465L2088.1 1463.4L2088.4 1466.3L2088.7 1463.8L2089 1465.8L2089.3 1466.1L2089.6 1465L2089.9 1464.1L2090.2 1465.9L2090.5 1465.8L2090.8 1465.5L2091.1 1465.8L2091.4 1464.9L2091.6 1465.9L2091.9 1465.4L2092.2 1464.8L2092.5 1465.6L2092.8 1464.1L2093.1 1466.1L2093.4 1466.2L2093.7 1463.2L2094 1463.8L2094.3 1465.3L2094.6 1464.6L2094.9 1465.2L2095.2 1466.1L2095.5 1464.9L2095.8 1465.2L2096 1464.2L2096.3 1467.5L2096.6 1464.8L2096.9 1465.6L2097.2 1466.5L2097.5 1466.3L2097.8 1466.3L2098.1 1467.1L2098.4 1466.3L2098.7 1465L2099 1467.4L2099.3 1466.1L2099.6 1468L2099.9 1466.3L2100.2 1465.3L2100.4 1465.7L2100.7 1465.7L2101 1466.7L2101.3 1464.9L2101.6 1466.5L2101.9 1464.6L2102.2 1465.3L2102.5 1465.9L2102.8 1464.1L2103.1 1466L2103.4 1464.5L2103.7 1465.3L2104 1465.3L2104.3 1464.2L2104.6 1464.7L2104.8 1465.1L2105.1 1465.3L2105.4 1465.1L2105.7 1465.2L2106 1465.6L2106.3 1466.3L2106.6 1467.8L2106.9 1465.2L2107.2 1465.5L2107.5 1464.1L2107.8 1464.8L2108.1 1463.9L2108.4 1463.3L2108.7 1465.1L2109 1465.7L2109.2 1463.9L2109.5 1465.3L2109.8 1465L2110.1 1463.5L2110.4 1464.1L2110.7 1463.5L2111 1466L2111.3 1464.6L2111.6 1463.5L2111.9 1465.8L2112.2 1464.4L2112.5 1464.3L2112.8 1467.1L2113.1 1463.2L2113.4 1465.4L2113.6 1464.9L2113.9 1463.1L2114.2 1466.5L2114.5 1464.1L2114.8 1465.2L2115.1 1464.7L2115.4 1465.7L2115.7 1463.6L2116 1466.1L2116.3 1464.7L2116.6 1464.4L2116.9 1465L2117.2 1465.2L2117.5 1465.1L2117.8 1463.9L2118 1464.6L2118.3 1465L2118.6 1465.9L2118.9 1464.7L2119.2 1464.3L2119.5 1464.8L2119.8 1463.4L2120.1 1466.6L2120.4 1462.2L2120.7 1465.1L2121 1466.2L2121.3 1466.7L2121.6 1464.3L2121.9 1464.4L2122.2 1465.3L2122.4 1465.1L2122.7 1465L2123 1465.6L2123.3 1464L2123.6 1464.6L2123.9 1465.4L2124.2 1466.9L2124.5 1463.6L2124.8 1465.5L2125.1 1466.1L2125.4 1463.6L2125.7 1464.4L2126 1467L2126.3 1466.8L2126.6 1465.4L2126.8 1466.3L2127.1 1465.2L2127.4 1462.5L2127.7 1462.1L2128 1465L2128.3 1464.2L2128.6 1464.4L2128.9 1465.3L2129.2 1466.7L2129.5 1464.1L2129.8 1465.3L2130.1 1464.6L2130.4 1464.6L2130.7 1466.2L2131 1463.6L2131.2 1465.2L2131.5 1465L2131.8 1465.8L2132.1 1464.7L2132.4 1464.2L2132.7 1465.7L2133 1464.6L2133.3 1465.6L2133.6 1466.3L2133.9 1465.4L2134.2 1464.6L2134.5 1464.7L2134.8 1464L2135.1 1465.8L2135.4 1465.3L2135.6 1464.8L2135.9 1464.2L2136.2 1465L2136.5 1465.8L2136.8 1466.3L2137.1 1463.7L2137.4 1463.9L2137.7 1465.5L2138 1463.3L2138.3 1464.9L2138.6 1464.4L2138.9 1463.6L2139.2 1465.3L2139.5 1465.6L2139.8 1466.5L2140 1464.5L2140.3 1464.2L2140.6 1463.7L2140.9 1464.1L2141.2 1464.5L2141.5 1463.5L2141.8 1465.7L2142.1 1464.2L2142.4 1464L2142.7 1464.6L2143 1462.8L2143.3 1464.1L2143.6 1463.3L2143.9 1463.7L2144.2 1464.8L2144.4 1462.8L2144.7 1463.6L2145 1464.7L2145.3 1465L2145.6 1465.9L2145.9 1465L2146.2 1465.1L2146.5 1464.8L2146.8 1465.5L2147.1 1464.5L2147.4 1465.2L2147.7 1466.6L2148 1465.6L2148.3 1466L2148.6 1466.4L2148.8 1465.3L2149.1 1464.1L2149.4 1466.2L2149.7 1467.2L2150 1465.2L2150.3 1462.1L2150.6 1465.7L2150.9 1464.8L2151.2 1465.5L2151.5 1464.2L2151.8 1463.6L2152.1 1465.1L2152.4 1463.9L2152.7 1466.1L2153 1464.9L2153.2 1466.4L2153.5 1464.9L2153.8 1465.7L2154.1 1464.8L2154.4 1466.1L2154.7 1464.7L2155 1464.7L2155.3 1465.3L2155.6 1465.7L2155.9 1466L2156.2 1465.1L2156.5 1464.3L2156.8 1464.8L2157.1 1464.4L2157.4 1463.3L2157.6 1464.9L2157.9 1464.2L2158.2 1463.5L2158.5 1463.9L2158.8 1464.2L2159.1 1464.4L2159.4 1462.6L2159.7 1464.5L2160 1464.9L2160.3 1463.9L2160.6 1462.8L2160.9 1463L2161.2 1464.4L2161.5 1463.5L2161.8 1463.9L2162 1464.2L2162.3 1463.6L2162.6 1463.7L2162.9 1464.2L2163.2 1462.6L2163.5 1464.7L2163.8 1463L2164.1 1462.2L2164.4 1462.3L2164.7 1464.1L2165 1464.6L2165.3 1466L2165.6 1464.5L2165.9 1462L2166.2 1466.1L2166.4 1466.1L2166.7 1463.8L2167 1464.1L2167.3 1466.5L2167.6 1464.8L2167.9 1464.5L2168.2 1466.5L2168.5 1463.9L2168.8 1466.3L2169.1 1463.8L2169.4 1464.8L2169.7 1465.6L2170 1466.5L2170.3 1465.1L2170.6 1464.7L2170.8 1465L2171.1 1465.5L2171.4 1465.3L2171.7 1464.2L2172 1466.1L2172.3 1465.5L2172.6 1464.9L2172.9 1465.4L2173.2 1464.6L2173.5 1463.9L2173.8 1465.9L2174.1 1465.4L2174.4 1468.7L2174.7 1466L2175 1465L2175.2 1466.9L2175.5 1464.3L2175.8 1467.6L2176.1 1464.2L2176.4 1466.1L2176.7 1463L2176.7 1466.6L2176.8 1465L2176.9 1471L2177 1466.1L2177 1465L2177.3 1466L2177.6 1466.6L2177.9 1467L2178.2 1466.3L2178.5 1464.8L2178.8 1465.3L2179.1 1464.4L2179.4 1466.3L2179.6 1466L2179.9 1465.9L2180.2 1465.3L2180.5 1465.1L2180.8 1463.7L2181.1 1464.8L2181.4 1465.2L2181.7 1464.2L2182 1466.4L2182.3 1466.9L2182.6 1464.8L2182.9 1465.2L2183.2 1465.2L2183.5 1464.4L2183.8 1465.6L2184 1465.3L2184.3 1464.8L2184.6 1464.6L2184.9 1464L2185.2 1464.9L2185.5 1464.7L2185.8 1467.4L2186.1 1463.7L2186.4 1466.5L2186.7 1465L2187 1462.2L2187.3 1465.1L2187.6 1466.5L2187.9 1463.2L2188.2 1465.3L2188.4 1464.9L2188.7 1464.9L2189 1463.9L2189.3 1463.9L2189.6 1464.8L2189.9 1463.7L2190.2 1465.7L2190.5 1464L2190.8 1465.3L2191.1 1464L2191.4 1465.3L2191.7 1465.1L2192 1463.3L2192.3 1465.8L2192.6 1465.9L2192.8 1464.1L2193.1 1465.1L2193.4 1465.3L2193.7 1465L2194 1462.7L2194.3 1466L2194.6 1465.3L2194.9 1464.9L2195.2 1466L2195.5 1464.9L2195.8 1464.4L2196.1 1465.7L2196.4 1463.5L2196.7 1465.9L2197 1464.7L2197.2 1464.2L2197.5 1461.3L2197.8 1466.3L2198.1 1464.2L2198.4 1461.9L2198.7 1465L2199 1463.2L2199.3 1464L2199.6 1465.7L2199.9 1464L2200.2 1465.2L2200.5 1464.3L2200.8 1465.8L2201.1 1463.6L2201.4 1466.7L2201.6 1464.3L2201.9 1462.9L2202.2 1463.7L2202.5 1464.4L2202.8 1464.3L2203.1 1464.5L2203.4 1461.4L2203.7 1464.1L2204 1464.1L2204.3 1464.9L2204.6 1464.8L2204.9 1463.7L2205.2 1464.9L2205.5 1465.1L2205.8 1464.9L2206 1464.7L2206.3 1464.1L2206.6 1464.7L2206.9 1464.5L2207.2 1465.3L2207.5 1463.2L2207.8 1464.4L2208.1 1464.9L2208.4 1464.4L2208.7 1464.8L2209 1466.3L2209.3 1465L2209.6 1463.1L2209.9 1464.4L2210.2 1463.8L2210.4 1465.8L2210.7 1466.8L2211 1466.1L2211.3 1464L2211.6 1466.3L2211.9 1466.1L2212.2 1464.3L2212.5 1465.7L2212.8 1465.5L2213.1 1465L2213.4 1465.4L2213.7 1465.8L2214 1465.4L2214.3 1466.4L2214.6 1465.7L2214.8 1465L2215.1 1466.8L2215.4 1465.9L2215.7 1466.8L2216 1464.8L2216.3 1464.8L2216.6 1464.5L2216.9 1464.4L2217.2 1464.4L2217.5 1464.7L2217.8 1466.2L2218.1 1464.6L2218.4 1466.5L2218.7 1463.2L2219 1465.2L2219.2 1464.8L2219.5 1466.8L2219.8 1464.4L2220.1 1464.4L2220.4 1467.2L2220.7 1466.2L2221 1466L2221.3 1466.1L2221.6 1464L2221.9 1463.2L2222.2 1466.5L2222.5 1464.5L2222.8 1465.6L2223.1 1463.9L2223.4 1467.6L2223.6 1465.4L2223.9 1463.8L2224.2 1465.8L2224.5 1464.1L2224.8 1465.8L2225.1 1464L2225.4 1464.6L2225.7 1465.5L2226 1465.8L2226.3 1465.3L2226.6 1464L2226.9 1465.2L2227.2 1465.8L2227.5 1462L2227.8 1466.9L2228 1465.7L2228.3 1465L2228.6 1466.6L2228.9 1465.5L2229.2 1465.9L2229.5 1466.9L2229.8 1464.9L2230.1 1466.5L2230.4 1466.1L2230.7 1464.2L2231 1466.5L2231.3 1464.7L2231.6 1464L2231.9 1464.3L2232.2 1464.8L2232.4 1465.6L2232.7 1466.7L2233 1465.3L2233.3 1465.1L2233.6 1466L2233.9 1466.5L2234.2 1464.4L2234.5 1466.4L2234.8 1464.9L2235.1 1466.1L2235.4 1467.4L2235.7 1464L2236 1464.9L2236.3 1464.8L2236.6 1466.6L2236.8 1465.4L2237.1 1464.8L2237.4 1465.7L2237.7 1463.4L2238 1467L2238.3 1464.2L2238.6 1466.7L2238.9 1466.5L2239.2 1466.1L2239.5 1464.2L2239.8 1465.5L2240.1 1465.4L2240.4 1465.5L2240.7 1466.1L2241 1465.5L2241.2 1465.5L2241.5 1464.7L2241.8 1464.7L2242.1 1466.7L2242.4 1464.9L2242.7 1463.2L2243 1464.9L2243.3 1464.6L2243.6 1465.1L2243.9 1464.9L2244.2 1464.3L2244.5 1465.5L2244.8 1464.2L2245.1 1465.6L2245.4 1463.6L2245.6 1465.5L2245.9 1463.5L2246.2 1463.2L2246.5 1466.1L2246.8 1463.7L2247.1 1464.9L2247.4 1463.4L2247.7 1465.3L2248 1465.1L2248.3 1465.2L2248.6 1463.7L2248.9 1466.9L2249.2 1464.3L2249.5 1465.1L2249.8 1465.7L2250 1465.4L2250.3 1464.2L2250.6 1464.3L2250.9 1463.5L2251.2 1465.8L2251.5 1466.9L2251.8 1465.5L2252.1 1465.3L2252.4 1465.5L2252.7 1464L2253 1462.9L2253.3 1465L2253.6 1467.2L2253.9 1464.4L2254.2 1466.1L2254.4 1465.3L2254.7 1464.6L2255 1465L2255.3 1465.6L2255.6 1465.2L2255.9 1464.8L2256.2 1465.1L2256.5 1463.8L2256.8 1468.9L2257.1 1466.8L2257.4 1466.6L2257.7 1465.1L2258 1465.7L2258.3 1464.9L2258.6 1467.1L2258.8 1465.7L2259.1 1464.9L2259.4 1465.5L2259.7 1466L2260 1465.2L2260.3 1463.8L2260.6 1467.7L2260.9 1463.8L2261.2 1465L2261.5 1466.3L2261.8 1464.8L2262.1 1465.4L2262.4 1464.4L2262.7 1466.4L2263 1464.8L2263.2 1466.6L2263.5 1465.4L2263.8 1465.1L2264.1 1465.7L2264.4 1465L2264.7 1466.3L2265 1464.6L2265.3 1466.2L2265.6 1466.4L2265.9 1465.6L2266.2 1465.8L2266.5 1466.6L2266.8 1464.9L2267.1 1465.7L2267.4 1465L2267.6 1467.1L2267.9 1466.7L2268.2 1465.6L2268.5 1466.3L2268.8 1465.4L2269.1 1464.7L2269.4 1464.1L2269.7 1463.8L2270 1464.4L2270.3 1466L2270.5 1467.9L2270.6 1468.4L2270.6 1464.8L2270.6 1466.7L2270.7 1470.6L2270.8 1468.7L2270.8 1470.1L2270.9 1466L2270.9 1467L2270.9 1456L2271 1467.8L2271 1469.5L2271 1465L2271.1 1466.8L2271.1 1468.6L2271.2 1465L2271.2 1475L2271.2 1469.8L2271.3 1469.4L2271.3 1465L2271.3 1467.4L2271.4 1467.6L2271.5 1466.5L2271.5 1470.2L2271.5 1468.4L2271.6 1468.6L2271.7 1472.9L2271.7 1470.3L2271.8 1464.1L2271.8 1470.9L2271.9 1467.4L2271.9 1469.5L2272 1470.5L2272 1470.9L2272 1465.1L2272.1 1470.4L2272.2 1470.6L2272.2 1472.8L2272.3 1469.9L2272.3 1465.8L2272.4 1470.1L2272.4 1469.5L2272.5 1468.7L2272.6 1467.8L2272.6 1467L2272.9 1465.4L2273.2 1466.2L2273.5 1465.3L2273.8 1466.2L2274.1 1466L2274.4 1464.8L2274.7 1463.7L2275 1466.6L2275.3 1465.4L2275.6 1464.7L2275.9 1465.4L2276.2 1465.6L2276.4 1462.9L2276.7 1465.8L2277 1464.4L2277.3 1465.2L2277.6 1464.9L2277.9 1466.9L2278.2 1463.8L2278.5 1464.8L2278.8 1465.7L2279.1 1463L2279.4 1465L2279.7 1465.5L2280 1465.7L2280.3 1463.9L2280.6 1464.9L2280.8 1465.2L2281.1 1466.2L2281.4 1465.7L2281.7 1464.4L2282 1464.7L2282.3 1466.7L2282.6 1465.4L2282.9 1464.3L2283.2 1461.8L2283.5 1465.2L2283.8 1466.7L2284.1 1463.6L2284.4 1464.8L2284.7 1465.6L2285 1463.8L2285.2 1464.6L2285.5 1465.3L2285.8 1465.5L2286.1 1464.5L2286.4 1464.3L2286.7 1466.1L2287 1463.3L2287.3 1465.7L2287.6 1463.1L2287.9 1464.2L2288.2 1464.8L2288.5 1464.3L2288.8 1465.3L2289.1 1464.8L2289.4 1463.1L2289.6 1465.3L2289.9 1464L2290.2 1465.8L2290.5 1464.8L2290.8 1464L2291.1 1466L2291.4 1464.3L2291.7 1466.9L2292 1465.8L2292.3 1465.1L2292.6 1463.7L2292.9 1463.8L2293.2 1465.3L2293.5 1464.6L2293.8 1464.4L2294 1466.1L2294.3 1464.1L2294.6 1463.3L2294.9 1463.4L2295.2 1465.2L2295.5 1465L2295.8 1465.5L2296.1 1465L2296.4 1464.9L2296.7 1464L2297 1464.7L2297.3 1465.7L2297.6 1464.1L2297.9 1464.1L2298.2 1465.6L2298.4 1465.1L2298.7 1465L2299 1466.4L2299.3 1464.6L2299.6 1463.9L2299.9 1462.6L2300.2 1464.4L2300.5 1464.9L2300.6 1458L2300.7 1465L2300.8 1464.9L2300.9 1467L2301 1465L2301.1 1464.2L2301.4 1464L2301.7 1465.5L2302 1464.5L2302.3 1464.2L2302.6 1466.7L2302.8 1463.4L2303.1 1465.1L2303.4 1463.9L2303.7 1465L2304 1465.2L2304.3 1465L2304.6 1464.7L2304.9 1464.1L2305.2 1465.1L2305.5 1465.9L2305.8 1465.5L2306.1 1466L2306.4 1464.2L2306.7 1466.1L2307 1463.7L2307.2 1465L2307.5 1465.4L2307.8 1464L2308.1 1465.6L2308.4 1465.4L2308.7 1464.3L2309 1464.3L2309.3 1466L2309.6 1462.4L2309.9 1464.3L2310.2 1466.1L2310.5 1465L2310.8 1463.8L2311.1 1464.6L2311.4 1464L2311.6 1462.6L2311.9 1464L2312.2 1463L2312.5 1464.3L2312.8 1465.5L2313.1 1463.4L2313.4 1465.7L2313.7 1463.9L2314 1464.1L2314.3 1465.6L2314.6 1465.4L2314.9 1464.9L2315.2 1464.3L2315.5 1463.2L2315.8 1464.6L2316 1462.7L2316.3 1463.8L2316.6 1465.5L2316.9 1465.5L2317.2 1464.9L2317.5 1465.5L2317.8 1464.8L2318.1 1463.8L2318.4 1464.1L2318.7 1463.4L2319 1465.2L2319.3 1465.2L2319.6 1465.8L2319.9 1466.1L2320.2 1464.8L2320.4 1464.4L2320.7 1464.6L2321 1464.4L2321.3 1462.5L2321.6 1465.7L2321.9 1465L2322.2 1465.1L2322.5 1465.5L2322.8 1463.2L2323.1 1464.6L2323.4 1463.4L2323.7 1465.6L2324 1462.5L2324.3 1462L2324.6 1465.1L2324.8 1464.3L2325.1 1464.3L2325.4 1463.8L2325.7 1465.7L2326 1464L2326.3 1463.9L2326.6 1465.3L2326.9 1467L2327.2 1465.5L2327.5 1465.1L2327.8 1464L2328.1 1465.3L2328.4 1465.7L2328.7 1464L2329 1464.2L2329.2 1463.9L2329.5 1464.7L2329.8 1463.7L2330.1 1464.4L2330.4 1466.7L2330.7 1464.5L2331 1464L2331.3 1464.6L2331.6 1463.4L2331.9 1465.4L2332.2 1464.4L2332.5 1466.4L2332.8 1465.2L2333.1 1465.7L2333.4 1466.2L2333.6 1466.5L2333.9 1465L2334.2 1465L2334.5 1466L2334.8 1466.5L2335.1 1466.1L2335.4 1464.5L2335.7 1466.6L2336 1464.4L2336.3 1467.2L2336.6 1465.2L2336.9 1464.8L2337.2 1464.2L2337.5 1465.8L2337.8 1466.1L2338 1466.7L2338.3 1464.3L2338.6 1465.2L2338.9 1465.5L2339.2 1465.5L2339.5 1464.7L2339.8 1465L2340.1 1464L2340.4 1467.2L2340.7 1464.3L2341 1465.7L2341.3 1465.2L2341.6 1465.5L2341.9 1465.1L2342.2 1464.4L2342.4 1465L2342.7 1466.5L2343 1465.3L2343.3 1465.3L2343.6 1464.7L2343.9 1465L2344.2 1465.1L2344.5 1463.9L2344.8 1465.9L2345.1 1462.7L2345.4 1465.4L2345.7 1465.8L2346 1463.9L2346.3 1463.6L2346.6 1463.6L2346.8 1463.4L2347.1 1464.4L2347.4 1464.7L2347.7 1464.4L2348 1464.7L2348.3 1465.3L2348.6 1463.3L2348.9 1463L2349.2 1464.8L2349.5 1465L2349.8 1465.4L2350.1 1466.6L2350.4 1465.7L2350.7 1465.6L2351 1465.1L2351.2 1466.2L2351.5 1467L2351.8 1464.4L2352.1 1463.4L2352.4 1467.2L2352.7 1465L2353 1464.1L2353.3 1466.1L2353.6 1466.3L2353.9 1464.7L2354.2 1464.8L2354.5 1465.3L2354.8 1463L2355.1 1463L2355.4 1463.7L2355.6 1464.5L2355.9 1464.7L2356.2 1463.7L2356.5 1464.7L2356.8 1463L2357.1 1463.2L2357.4 1465.1L2357.7 1463.7L2358 1462.9L2358.3 1463.9L2358.6 1465.6L2358.9 1464.9L2359.2 1465.1L2359.5 1464.7L2359.8 1464.9L2360 1465.1L2360.3 1463.8L2360.6 1463.4L2360.9 1465.3L2361.2 1466.1L2361.5 1464.3L2361.8 1464.7L2362.1 1464.3L2362.4 1465.4L2362.7 1464.4L2363 1465.5L2363.3 1463.5L2363.6 1462.9L2363.9 1465.5L2364.2 1467.2L2364.4 1465.2L2364.7 1465.3L2365 1464.7L2365.3 1464.9L2365.6 1464.5L2365.9 1462.4L2366.2 1465.5L2366.5 1465.3L2366.8 1464.6L2367.1 1466.9L2367.4 1464.2L2367.7 1465.6L2368 1466.4L2368.3 1465.9L2368.6 1464.5L2368.8 1464.2L2369.1 1463.9L2369.4 1464.9L2369.7 1466.2L2370 1464.8L2370.3 1465.3L2370.6 1462.9L2370.9 1467.2L2371.2 1463.6L2371.5 1464.4L2371.8 1464.8L2372.1 1465.3L2372.4 1465.8L2372.7 1466.3L2373 1467L2373.2 1463.3L2373.5 1464.4L2373.8 1464.6L2374.1 1464.9L2374.4 1467.2L2374.7 1465.6L2375 1465.2L2375.3 1464.1L2375.6 1466.2L2375.9 1465L2376.2 1465.6L2376.5 1465.2L2376.8 1466L2377.1 1464.8L2377.4 1464.9L2377.6 1466.8L2377.9 1463.8L2378.2 1462.9L2378.5 1465.9L2378.8 1463.7L2379.1 1465.8L2379.4 1465.4L2379.7 1463.2L2380 1464.6L2380.3 1463.3L2380.6 1464.5L2380.9 1463.8L2381.2 1464.9L2381.5 1463.3L2381.8 1463.1L2382 1464.2L2382.3 1465.5L2382.6 1465.3L2382.9 1465.9L2383.2 1464.4L2383.5 1464.5L2383.8 1465.7" stroke="#00f" stroke-width="3.0"/>
</g>
<rect x="184.1" y="30.2" width="2200.0" height="1617.4" fill="none" stroke="#000" stroke-width="5.3" stroke-linejoin="round"/>
<g font-size="72" text-anchor="middle"><text x="184.1" y="1757.4">20</text><text x="550.8" y="1757.4">40</text><text x="917.4" y="1757.4">60</text><text x="1284.1" y="1757.4">80</text><text x="1650.8" y="1757.4">100</text><text x="2017.4" y="1757.4">120</text><text x="2384.1" y="1757.4">140</text></g>
<text x="1282.9" y="1908.0" font-size="89" text-anchor="middle">2<tspan dx="2.6">θ</tspan> <tspan dx="2.4" letter-spacing="-1">(deg.)</tspan></text>
<text transform="translate(76.4,897.8) rotate(-90)" font-size="87" text-anchor="middle">I<tspan font-size="92.5" dy="5.5" dx="-0.5">[</tspan><tspan dy="-5.5" dx="-2">a.u</tspan><tspan font-size="92.5" dy="5.5" dx="-0.5">]</tspan></text>
<rect x="1673" y="90" width="625.5" height="333.6" fill="#fff" stroke="#000" stroke-width="2"/>
<path d="M1711.8 159.2H1907" stroke="#555" stroke-width="2"/>
<circle cx="1809" cy="159.2" r="8.4" fill="#000"/>
<path d="M1712.8 266H1906.2" stroke="#f00" stroke-width="8.2" stroke-linecap="round"/>
<path d="M1711.7 374H1907.1" stroke="#00f" stroke-width="2"/>
<rect x="1807.2" y="372.2" width="3.6" height="3.6" fill="#00f"/>
<g font-size="87.5">
<text x="1928.2" y="188">exp.</text>
<text x="1928.2" y="296.2">fit</text>
<text x="1928.2" y="404">difference</text>
</g>
</svg>
</body></html>
